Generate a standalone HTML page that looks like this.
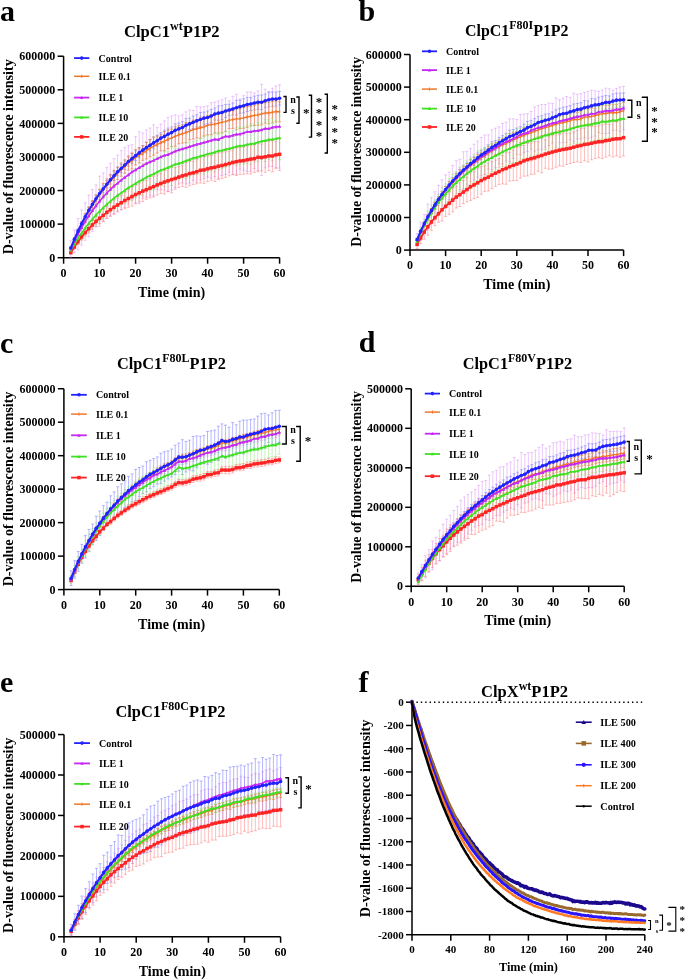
<!DOCTYPE html>
<html><head><meta charset="utf-8"><style>
html,body{margin:0;padding:0;background:#fff;overflow:hidden;}
svg{display:block;will-change:transform;}
text{font-family:"Liberation Serif",serif;font-weight:bold;fill:#000;}
</style></head><body>
<svg width="685" height="980" viewBox="0 0 685 980">
<rect width="685" height="980" fill="#fff"/>
<text x="0" y="20.7" font-size="30" text-anchor="start" >a</text>
<text x="171.8" y="37.3" font-size="16.6" text-anchor="middle">ClpC1<tspan font-size="12" dy="-7">wt</tspan><tspan dy="7">P1P2</tspan></text>
<text transform="translate(12.5,156.8) rotate(-90)" x="0" y="0" font-size="14" text-anchor="middle" textLength="194.97" lengthAdjust="spacingAndGlyphs">D-value of fluorescence intensity</text>
<path d="M63.6,56.22V257.7H279.6" fill="none" stroke="#000" stroke-width="1.5"/>
<path d="M57.6,257.7H63.6" stroke="#000" stroke-width="1.5"/>
<text x="55.3" y="261.84" font-size="12" text-anchor="end" >0</text>
<path d="M57.6,224.12H63.6" stroke="#000" stroke-width="1.5"/>
<text x="55.3" y="228.26" font-size="12" text-anchor="end" >100000</text>
<path d="M57.6,190.54H63.6" stroke="#000" stroke-width="1.5"/>
<text x="55.3" y="194.68" font-size="12" text-anchor="end" >200000</text>
<path d="M57.6,156.96H63.6" stroke="#000" stroke-width="1.5"/>
<text x="55.3" y="161.1" font-size="12" text-anchor="end" >300000</text>
<path d="M57.6,123.38H63.6" stroke="#000" stroke-width="1.5"/>
<text x="55.3" y="127.52" font-size="12" text-anchor="end" >400000</text>
<path d="M57.6,89.8H63.6" stroke="#000" stroke-width="1.5"/>
<text x="55.3" y="93.94" font-size="12" text-anchor="end" >500000</text>
<path d="M57.6,56.22H63.6" stroke="#000" stroke-width="1.5"/>
<text x="55.3" y="60.36" font-size="12" text-anchor="end" >600000</text>
<path d="M63.6,257.7V263.7" stroke="#000" stroke-width="1.5"/>
<text x="63.6" y="277" font-size="12" text-anchor="middle" >0</text>
<path d="M99.6,257.7V263.7" stroke="#000" stroke-width="1.5"/>
<text x="99.6" y="277" font-size="12" text-anchor="middle" >10</text>
<path d="M135.6,257.7V263.7" stroke="#000" stroke-width="1.5"/>
<text x="135.6" y="277" font-size="12" text-anchor="middle" >20</text>
<path d="M171.6,257.7V263.7" stroke="#000" stroke-width="1.5"/>
<text x="171.6" y="277" font-size="12" text-anchor="middle" >30</text>
<path d="M207.6,257.7V263.7" stroke="#000" stroke-width="1.5"/>
<text x="207.6" y="277" font-size="12" text-anchor="middle" >40</text>
<path d="M243.6,257.7V263.7" stroke="#000" stroke-width="1.5"/>
<text x="243.6" y="277" font-size="12" text-anchor="middle" >50</text>
<path d="M279.6,257.7V263.7" stroke="#000" stroke-width="1.5"/>
<text x="279.6" y="277" font-size="12" text-anchor="middle" >60</text>
<text x="171.6" y="296.7" font-size="14" text-anchor="middle" >Time (min)</text>
<path d="M70.8,240.68V257.26M69.3,240.68h3M69.3,257.26h3M74.4,229.87V252.62M72.9,229.87h3M72.9,252.62h3M78,218.6V249.79M76.5,218.6h3M76.5,249.79h3M81.6,210.05V245.16M80.1,210.05h3M80.1,245.16h3M85.2,202.78V240.25M83.7,202.78h3M83.7,240.25h3M88.8,195.04V236.61M87.3,195.04h3M87.3,236.61h3M92.4,189.58V231.76M90.9,189.58h3M90.9,231.76h3M96,184.92V226.84M94.5,184.92h3M94.5,226.84h3M99.6,176.14V226.28M98.1,176.14h3M98.1,226.28h3M103.2,172.96V221.05M101.7,172.96h3M101.7,221.05h3M106.8,167.54V218.57M105.3,167.54h3M105.3,218.57h3M110.4,163.23V215.65M108.9,163.23h3M108.9,215.65h3M114,158.69V213.62M112.5,158.69h3M112.5,213.62h3M117.6,155.11V211.31M116.1,155.11h3M116.1,211.31h3M121.2,150.56V209.78M119.7,150.56h3M119.7,209.78h3M124.8,147.29V207.47M123.3,147.29h3M123.3,207.47h3M128.4,145.34V204.23M126.9,145.34h3M126.9,204.23h3M132,144.67V199.31M130.5,144.67h3M130.5,199.31h3M135.6,136.61V203.04M134.1,136.61h3M134.1,203.04h3M139.2,131.77V203.63M137.7,131.77h3M137.7,203.63h3M142.8,132.98V198.22M141.3,132.98h3M141.3,198.22h3M146.4,129.88V197.11M144.9,129.88h3M144.9,197.11h3M150,128V195.79M148.5,128h3M148.5,195.79h3M153.6,124.81V195.94M152.1,124.81h3M152.1,195.94h3M157.2,127.61V189.71M155.7,127.61h3M155.7,189.71h3M160.8,124.01V189.81M159.3,124.01h3M159.3,189.81h3M164.4,120.8V190.01M162.9,120.8h3M162.9,190.01h3M168,117.46V191.69M166.5,117.46h3M166.5,191.69h3M171.6,115.94V190.05M170.1,115.94h3M170.1,190.05h3M175.2,114.79V187.61M173.7,114.79h3M173.7,187.61h3M178.8,115.82V183.97M177.3,115.82h3M177.3,183.97h3M182.4,114.79V183.01M180.9,114.79h3M180.9,183.01h3M186,111.85V183.91M184.5,111.85h3M184.5,183.91h3M189.6,110.1V182.98M188.1,110.1h3M188.1,182.98h3M193.2,110.48V180.46M191.7,110.48h3M191.7,180.46h3M196.8,106.35V182.24M195.3,106.35h3M195.3,182.24h3M200.4,106.93V179.99M198.9,106.93h3M198.9,179.99h3M204,106.45V178.5M202.5,106.45h3M202.5,178.5h3M207.6,105.9V177.04M206.1,105.9h3M206.1,177.04h3M211.2,102.68V177.98M209.7,102.68h3M209.7,177.98h3M214.8,102.09V176.54M213.3,102.09h3M213.3,176.54h3M218.4,100.93V178.14M216.9,100.93h3M216.9,178.14h3M222,99.8V175.5M220.5,99.8h3M220.5,175.5h3M225.6,97.96V174.56M224.1,97.96h3M224.1,174.56h3M229.2,100.83V172.04M227.7,100.83h3M227.7,172.04h3M232.8,96.21V174.44M231.3,96.21h3M231.3,174.44h3M236.4,94.22V174.31M234.9,94.22h3M234.9,174.31h3M240,99.04V169.15M238.5,99.04h3M238.5,169.15h3M243.6,95.69V170.26M242.1,95.69h3M242.1,170.26h3M247.2,92.01V171.39M245.7,92.01h3M245.7,171.39h3M250.8,92.05V171.34M249.3,92.05h3M249.3,171.34h3M254.4,93.06V168.61M252.9,93.06h3M252.9,168.61h3M258,90.92V170.32M256.5,90.92h3M256.5,170.32h3M261.6,84.29V175.42M260.1,84.29h3M260.1,175.42h3M265.2,89.24V167.85M263.7,89.24h3M263.7,167.85h3M268.8,91.37V166.14M267.3,91.37h3M267.3,166.14h3M272.4,88.21V166.46M270.9,88.21h3M270.9,166.46h3M276,85.78V167.82M274.5,85.78h3M274.5,167.82h3M279.6,84.79V168.08M278.1,84.79h3M278.1,168.08h3" stroke="#cf78f5" stroke-opacity="0.5" stroke-width="0.8" fill="none"/>
<path d="M70.8,247.25V248.79M69.3,247.25h3M69.3,248.79h3M74.4,237.89V240.56M72.9,237.89h3M72.9,240.56h3M78,229.38V232.74M76.5,229.38h3M76.5,232.74h3M81.6,221.89V225.67M80.1,221.89h3M80.1,225.67h3M85.2,214.31V219.28M83.7,214.31h3M83.7,219.28h3M88.8,207.52V213.01M87.3,207.52h3M87.3,213.01h3M92.4,201.43V207.4M90.9,201.43h3M90.9,207.4h3M96,195.58V201.78M94.5,195.58h3M94.5,201.78h3M99.6,190.18V196.93M98.1,190.18h3M98.1,196.93h3M103.2,185.15V192.62M101.7,185.15h3M101.7,192.62h3M106.8,180.54V188.13M105.3,180.54h3M105.3,188.13h3M110.4,175.75V184.06M108.9,175.75h3M108.9,184.06h3M114,171.17V180.57M112.5,171.17h3M112.5,180.57h3M117.6,167.69V175.8M116.1,167.69h3M116.1,175.8h3M121.2,164.32V172.77M119.7,164.32h3M119.7,172.77h3M124.8,160.81V169.41M123.3,160.81h3M123.3,169.41h3M128.4,157.03V166.09M126.9,157.03h3M126.9,166.09h3M132,153.53V163.74M130.5,153.53h3M130.5,163.74h3M135.6,150.78V160.51M134.1,150.78h3M134.1,160.51h3M139.2,147.94V157.76M137.7,147.94h3M137.7,157.76h3M142.8,145.52V154.82M141.3,145.52h3M141.3,154.82h3M146.4,142.25V153M144.9,142.25h3M144.9,153h3M150,139.64V150.72M148.5,139.64h3M148.5,150.72h3M153.6,137.08V148.72M152.1,137.08h3M152.1,148.72h3M157.2,135.2V146.17M155.7,135.2h3M155.7,146.17h3M160.8,132.67V143.48M159.3,132.67h3M159.3,143.48h3M164.4,130.13V142.63M162.9,130.13h3M162.9,142.63h3M168,128.05V140.46M166.5,128.05h3M166.5,140.46h3M171.6,126.83V138.38M170.1,126.83h3M170.1,138.38h3M175.2,123.93V136.7M173.7,123.93h3M173.7,136.7h3M178.8,122.97V134.86M177.3,122.97h3M177.3,134.86h3M182.4,121.58V133.67M180.9,121.58h3M180.9,133.67h3M186,118.58V131.91M184.5,118.58h3M184.5,131.91h3M189.6,118.13V129.65M188.1,118.13h3M188.1,129.65h3M193.2,116.05V128.47M191.7,116.05h3M191.7,128.47h3M196.8,114.72V126.95M195.3,114.72h3M195.3,126.95h3M200.4,112.43V126.58M198.9,112.43h3M198.9,126.58h3M204,112.05V124.26M202.5,112.05h3M202.5,124.26h3M207.6,111.07V123.83M206.1,111.07h3M206.1,123.83h3M211.2,109.48V122.65M209.7,109.48h3M209.7,122.65h3M214.8,107.97V120.11M213.3,107.97h3M213.3,120.11h3M218.4,106.03V120.26M216.9,106.03h3M216.9,120.26h3M222,105.38V119.64M220.5,105.38h3M220.5,119.64h3M225.6,104.41V117.47M224.1,104.41h3M224.1,117.47h3M229.2,104.21V115.78M227.7,104.21h3M227.7,115.78h3M232.8,103V114.87M231.3,103h3M231.3,114.87h3M236.4,100.34V115.03M234.9,100.34h3M234.9,115.03h3M240,100.05V113.29M238.5,100.05h3M238.5,113.29h3M243.6,98.76V112.84M242.1,98.76h3M242.1,112.84h3M247.2,97.36V111.5M245.7,97.36h3M245.7,111.5h3M250.8,97.45V110.54M249.3,97.45h3M249.3,110.54h3M254.4,96.14V109.87M252.9,96.14h3M252.9,109.87h3M258,95.3V109.31M256.5,95.3h3M256.5,109.31h3M261.6,95V109.64M260.1,95h3M260.1,109.64h3M265.2,94.01V107.69M263.7,94.01h3M263.7,107.69h3M268.8,92.39V107.05M267.3,92.39h3M267.3,107.05h3M272.4,91.94V106.31M270.9,91.94h3M270.9,106.31h3M276,92.04V106.18M274.5,92.04h3M274.5,106.18h3M279.6,91.45V104.93M278.1,91.45h3M278.1,104.93h3" stroke="#8080ff" stroke-opacity="0.7" stroke-width="0.8" fill="none"/>
<path d="M70.8,246.75V249.2M69.3,246.75h3M69.3,249.2h3M74.4,237.53V241.69M72.9,237.53h3M72.9,241.69h3M78,229.1V234.32M76.5,229.1h3M76.5,234.32h3M81.6,221.48V227.38M80.1,221.48h3M80.1,227.38h3M85.2,213.61V221.37M83.7,213.61h3M83.7,221.37h3M88.8,206.83V215.4M87.3,206.83h3M87.3,215.4h3M92.4,200.59V209.93M90.9,200.59h3M90.9,209.93h3M96,194.75V204.46M94.5,194.75h3M94.5,204.46h3M99.6,189.32V199.88M98.1,189.32h3M98.1,199.88h3M103.2,183.37V195.17M101.7,183.37h3M101.7,195.17h3M106.8,178.91V190.88M105.3,178.91h3M105.3,190.88h3M110.4,174.37V187.41M108.9,174.37h3M108.9,187.41h3M114,170.33V184.98M112.5,170.33h3M112.5,184.98h3M117.6,166.88V179.55M116.1,166.88h3M116.1,179.55h3M121.2,162.99V176.25M119.7,162.99h3M119.7,176.25h3M124.8,159.72V173.2M123.3,159.72h3M123.3,173.2h3M128.4,155.86V170.06M126.9,155.86h3M126.9,170.06h3M132,152.94V168.82M130.5,152.94h3M130.5,168.82h3M135.6,149.7V164.93M134.1,149.7h3M134.1,164.93h3M139.2,147.71V162.97M137.7,147.71h3M137.7,162.97h3M142.8,145.83V160.26M141.3,145.83h3M141.3,160.26h3M146.4,142.34V159M144.9,142.34h3M144.9,159h3M150,139.48V156.69M148.5,139.48h3M148.5,156.69h3M153.6,137.09V155.14M152.1,137.09h3M152.1,155.14h3M157.2,136.05V152.98M155.7,136.05h3M155.7,152.98h3M160.8,134.31V150.92M159.3,134.31h3M159.3,150.92h3M164.4,131.59V150.78M162.9,131.59h3M162.9,150.78h3M168,129.88V148.9M166.5,129.88h3M166.5,148.9h3M171.6,129.07V146.76M170.1,129.07h3M170.1,146.76h3M175.2,126.72V146.17M173.7,126.72h3M173.7,146.17h3M178.8,125.71V143.87M177.3,125.71h3M177.3,143.87h3M182.4,124.66V143.09M180.9,124.66h3M180.9,143.09h3M186,122.54V142.73M184.5,122.54h3M184.5,142.73h3M189.6,122.32V139.81M188.1,122.32h3M188.1,139.81h3M193.2,120.19V139.02M191.7,120.19h3M191.7,139.02h3M196.8,119.49V137.98M195.3,119.49h3M195.3,137.98h3M200.4,117.06V138.41M198.9,117.06h3M198.9,138.41h3M204,117.62V136.02M202.5,117.62h3M202.5,136.02h3M207.6,115.58V134.9M206.1,115.58h3M206.1,134.9h3M211.2,114.75V134.61M209.7,114.75h3M209.7,134.61h3M214.8,115V133.15M213.3,115h3M213.3,133.15h3M218.4,112.57V133.86M216.9,112.57h3M216.9,133.86h3M222,111.44V132.84M220.5,111.44h3M220.5,132.84h3M225.6,111.83V131.33M224.1,111.83h3M224.1,131.33h3M229.2,111.46V128.78M227.7,111.46h3M227.7,128.78h3M232.8,110.7V128.43M231.3,110.7h3M231.3,128.43h3M236.4,107.91V129.81M234.9,107.91h3M234.9,129.81h3M240,108.86V128.51M238.5,108.86h3M238.5,128.51h3M243.6,107.46V128.35M242.1,107.46h3M242.1,128.35h3M247.2,106.53V127.47M245.7,106.53h3M245.7,127.47h3M250.8,106.59V126.01M249.3,106.59h3M249.3,126.01h3M254.4,105.18V125.54M252.9,105.18h3M252.9,125.54h3M258,104.54V125.3M256.5,104.54h3M256.5,125.3h3M261.6,103.06V124.87M260.1,103.06h3M260.1,124.87h3M265.2,102.76V123.1M263.7,102.76h3M263.7,123.1h3M268.8,102.19V123.86M267.3,102.19h3M267.3,123.86h3M272.4,101.56V122.84M270.9,101.56h3M270.9,122.84h3M276,101.07V122.06M274.5,101.07h3M274.5,122.06h3M279.6,101.85V121.76M278.1,101.85h3M278.1,121.76h3" stroke="#e8782e" stroke-opacity="0.8" stroke-width="0.8" fill="none"/>
<path d="M70.8,247.34V252.88M69.3,247.34h3M69.3,252.88h3M74.4,239.41V248.66M72.9,239.41h3M72.9,248.66h3M78,232.24V244.37M76.5,232.24h3M76.5,244.37h3M81.6,226.12V239.7M80.1,226.12h3M80.1,239.7h3M85.2,220.82V235.14M83.7,220.82h3M83.7,235.14h3M88.8,214.73V231.96M87.3,214.73h3M87.3,231.96h3M92.4,210.72V227.51M90.9,210.72h3M90.9,227.51h3M96,205.43V224.64M94.5,205.43h3M94.5,224.64h3M99.6,201.57V221.05M98.1,201.57h3M98.1,221.05h3M103.2,196.56V218.98M101.7,196.56h3M101.7,218.98h3M106.8,194.27V214.42M105.3,194.27h3M105.3,214.42h3M110.4,189.74V212.78M108.9,189.74h3M108.9,212.78h3M114,186.36V210.1M112.5,186.36h3M112.5,210.1h3M117.6,183.72V206.92M116.1,183.72h3M116.1,206.92h3M121.2,181.28V204.58M119.7,181.28h3M119.7,204.58h3M124.8,177.09V203.62M123.3,177.09h3M123.3,203.62h3M128.4,173.8V201.74M126.9,173.8h3M126.9,201.74h3M132,170.5V200.71M130.5,170.5h3M130.5,200.71h3M135.6,168.87V197.83M134.1,168.87h3M134.1,197.83h3M139.2,166.95V195.44M137.7,166.95h3M137.7,195.44h3M142.8,163.53V195.55M141.3,163.53h3M141.3,195.55h3M146.4,162.54V191.92M144.9,162.54h3M144.9,191.92h3M150,160.72V190.49M148.5,160.72h3M148.5,190.49h3M153.6,158.15V189.8M152.1,158.15h3M152.1,189.8h3M157.2,156.74V187.23M155.7,156.74h3M155.7,187.23h3M160.8,155.11V185.37M159.3,155.11h3M159.3,185.37h3M164.4,151.15V186.81M162.9,151.15h3M162.9,186.81h3M168,151.75V183.32M166.5,151.75h3M166.5,183.32h3M171.6,146.47V185.57M170.1,146.47h3M170.1,185.57h3M175.2,148.3V180.14M173.7,148.3h3M173.7,180.14h3M178.8,148.34V178.77M177.3,148.34h3M177.3,178.77h3M182.4,147.18V177.44M180.9,147.18h3M180.9,177.44h3M186,143V178.7M184.5,143h3M184.5,178.7h3M189.6,142.13V177.06M188.1,142.13h3M188.1,177.06h3M193.2,141.42V174.74M191.7,141.42h3M191.7,174.74h3M196.8,140.16V174.61M195.3,140.16h3M195.3,174.61h3M200.4,138.17V173.79M198.9,138.17h3M198.9,173.79h3M204,136.31V174.31M202.5,136.31h3M202.5,174.31h3M207.6,135.84V171.94M206.1,135.84h3M206.1,171.94h3M211.2,135.84V170.59M209.7,135.84h3M209.7,170.59h3M214.8,132.49V171.9M213.3,132.49h3M213.3,171.9h3M218.4,132.19V169.37M216.9,132.19h3M216.9,169.37h3M222,132.66V168.35M220.5,132.66h3M220.5,168.35h3M225.6,131.55V167.05M224.1,131.55h3M224.1,167.05h3M229.2,131.7V165.61M227.7,131.7h3M227.7,165.61h3M232.8,130.95V164.56M231.3,130.95h3M231.3,164.56h3M236.4,127.57V165.41M234.9,127.57h3M234.9,165.41h3M240,127.23V164.42M238.5,127.23h3M238.5,164.42h3M243.6,126.86V164.01M242.1,126.86h3M242.1,164.01h3M247.2,125.45V163.53M245.7,125.45h3M245.7,163.53h3M250.8,123.74V164.28M249.3,123.74h3M249.3,164.28h3M254.4,124.82V162.07M252.9,124.82h3M252.9,162.07h3M258,122.69V161.62M256.5,122.69h3M256.5,161.62h3M261.6,122.97V159.34M260.1,122.97h3M260.1,159.34h3M265.2,119.63V161.67M263.7,119.63h3M263.7,161.67h3M268.8,119.96V159.19M267.3,119.96h3M267.3,159.19h3M272.4,118.24V160.73M270.9,118.24h3M270.9,160.73h3M276,120.6V156.88M274.5,120.6h3M274.5,156.88h3M279.6,116.09V159.66M278.1,116.09h3M278.1,159.66h3" stroke="#80e870" stroke-opacity="0.6" stroke-width="0.8" fill="none"/>
<path d="M70.8,252.03V253.41M69.3,252.03h3M69.3,253.41h3M74.4,245.34V248.61M72.9,245.34h3M72.9,248.61h3M78,239.23V244.23M76.5,239.23h3M76.5,244.23h3M81.6,233.87V240M80.1,233.87h3M80.1,240h3M85.2,229.13V236.02M83.7,229.13h3M83.7,236.02h3M88.8,224.39V233.03M87.3,224.39h3M87.3,233.03h3M92.4,220.53V229.31M90.9,220.53h3M90.9,229.31h3M96,216.32V226.66M94.5,216.32h3M94.5,226.66h3M99.6,212.87V223.64M98.1,212.87h3M98.1,223.64h3M103.2,209.05V221.68M101.7,209.05h3M101.7,221.68h3M106.8,206.53V218.15M105.3,206.53h3M105.3,218.15h3M110.4,202.93V216.45M108.9,202.93h3M108.9,216.45h3M114,200.23V214.33M112.5,200.23h3M112.5,214.33h3M117.6,198.03V211.96M116.1,198.03h3M116.1,211.96h3M121.2,195.6V209.82M119.7,195.6h3M119.7,209.82h3M124.8,192.29V208.68M123.3,192.29h3M123.3,208.68h3M128.4,189.85V207.23M126.9,189.85h3M126.9,207.23h3M132,187.11V206.11M130.5,187.11h3M130.5,206.11h3M135.6,185.32V203.75M134.1,185.32h3M134.1,203.75h3M139.2,183.71V201.96M137.7,183.71h3M137.7,201.96h3M142.8,180.76V201.5M141.3,180.76h3M141.3,201.5h3M146.4,180.17V199.22M144.9,180.17h3M144.9,199.22h3M150,178.35V197.83M148.5,178.35h3M148.5,197.83h3M153.6,176.23V197.08M152.1,176.23h3M152.1,197.08h3M157.2,174.79V195.03M155.7,174.79h3M155.7,195.03h3M160.8,173.36V193.56M159.3,173.36h3M159.3,193.56h3M164.4,170.06V194.07M162.9,170.06h3M162.9,194.07h3M168,170.11V191.48M166.5,170.11h3M166.5,191.48h3M171.6,166.25V192.84M170.1,166.25h3M170.1,192.84h3M175.2,167.61V189.27M173.7,167.61h3M173.7,189.27h3M178.8,166.6V187.55M177.3,166.6h3M177.3,187.55h3M182.4,165.4V186.36M180.9,165.4h3M180.9,186.36h3M186,162.61V187.33M184.5,162.61h3M184.5,187.33h3M189.6,161.4V185.78M188.1,161.4h3M188.1,185.78h3M193.2,161.23V184.44M191.7,161.23h3M191.7,184.44h3M196.8,159.66V183.85M195.3,159.66h3M195.3,183.85h3M200.4,157.73V182.91M198.9,157.73h3M198.9,182.91h3M204,156.52V183.38M202.5,156.52h3M202.5,183.38h3M207.6,156.08V181.66M206.1,156.08h3M206.1,181.66h3M211.2,155.46V180.25M209.7,155.46h3M209.7,180.25h3M214.8,153.29V181.38M213.3,153.29h3M213.3,181.38h3M218.4,152.9V179.48M216.9,152.9h3M216.9,179.48h3M222,152.71V178.36M220.5,152.71h3M220.5,178.36h3M225.6,151.8V177.37M224.1,151.8h3M224.1,177.37h3M229.2,151.2V175.8M227.7,151.2h3M227.7,175.8h3M232.8,150.17V174.7M231.3,150.17h3M231.3,174.7h3M236.4,147.92V175.52M234.9,147.92h3M234.9,175.52h3M240,147.37V174.59M238.5,147.37h3M238.5,174.59h3M243.6,147.06V174.28M242.1,147.06h3M242.1,174.28h3M247.2,145.82V173.8M245.7,145.82h3M245.7,173.8h3M250.8,144.12V174.03M249.3,144.12h3M249.3,174.03h3M254.4,144.88V172.4M252.9,144.88h3M252.9,172.4h3M258,142.79V171.72M256.5,142.79h3M256.5,171.72h3M261.6,144.06V170.87M260.1,144.06h3M260.1,170.87h3M265.2,141.26V172.36M263.7,141.26h3M263.7,172.36h3M268.8,141.45V170.52M267.3,141.45h3M267.3,170.52h3M272.4,140.27V171.74M270.9,140.27h3M270.9,171.74h3M276,141.25V168.32M274.5,141.25h3M274.5,168.32h3M279.6,138.07V170.56M278.1,138.07h3M278.1,170.56h3" stroke="#ff7c7c" stroke-opacity="0.65" stroke-width="0.8" fill="none"/>
<polyline points="70.8,252.72 74.4,246.98 78,241.73 81.6,236.94 85.2,232.58 88.8,228.71 92.4,224.92 96,221.49 99.6,218.26 103.2,215.37 106.8,212.34 110.4,209.69 114,207.28 117.6,204.99 121.2,202.71 124.8,200.49 128.4,198.54 132,196.61 135.6,194.53 139.2,192.83 142.8,191.13 146.4,189.7 150,188.09 153.6,186.66 157.2,184.91 160.8,183.46 164.4,182.06 168,180.8 171.6,179.55 175.2,178.44 178.8,177.08 182.4,175.88 186,174.97 189.6,173.59 193.2,172.83 196.8,171.76 200.4,170.32 204,169.95 207.6,168.87 211.2,167.86 214.8,167.33 218.4,166.19 222,165.53 225.6,164.59 229.2,163.5 232.8,162.43 236.4,161.72 240,160.98 243.6,160.67 247.2,159.81 250.8,159.08 254.4,158.64 258,157.26 261.6,157.47 265.2,156.81 268.8,155.99 272.4,156 276,154.79 279.6,154.32" fill="none" stroke="#ff2424" stroke-width="1.8" stroke-linejoin="round" stroke-linecap="round"/>
<rect x="69.05" y="250.97" width="3.5" height="3.5" fill="#ff2424"/>
<rect x="72.65" y="245.23" width="3.5" height="3.5" fill="#ff2424"/>
<rect x="76.25" y="239.98" width="3.5" height="3.5" fill="#ff2424"/>
<rect x="79.85" y="235.19" width="3.5" height="3.5" fill="#ff2424"/>
<rect x="83.45" y="230.83" width="3.5" height="3.5" fill="#ff2424"/>
<rect x="87.05" y="226.96" width="3.5" height="3.5" fill="#ff2424"/>
<rect x="90.65" y="223.17" width="3.5" height="3.5" fill="#ff2424"/>
<rect x="94.25" y="219.74" width="3.5" height="3.5" fill="#ff2424"/>
<rect x="97.85" y="216.51" width="3.5" height="3.5" fill="#ff2424"/>
<rect x="101.45" y="213.62" width="3.5" height="3.5" fill="#ff2424"/>
<rect x="105.05" y="210.59" width="3.5" height="3.5" fill="#ff2424"/>
<rect x="108.65" y="207.94" width="3.5" height="3.5" fill="#ff2424"/>
<rect x="112.25" y="205.53" width="3.5" height="3.5" fill="#ff2424"/>
<rect x="115.85" y="203.24" width="3.5" height="3.5" fill="#ff2424"/>
<rect x="119.45" y="200.96" width="3.5" height="3.5" fill="#ff2424"/>
<rect x="123.05" y="198.74" width="3.5" height="3.5" fill="#ff2424"/>
<rect x="126.65" y="196.79" width="3.5" height="3.5" fill="#ff2424"/>
<rect x="130.25" y="194.86" width="3.5" height="3.5" fill="#ff2424"/>
<rect x="133.85" y="192.78" width="3.5" height="3.5" fill="#ff2424"/>
<rect x="137.45" y="191.08" width="3.5" height="3.5" fill="#ff2424"/>
<rect x="141.05" y="189.38" width="3.5" height="3.5" fill="#ff2424"/>
<rect x="144.65" y="187.95" width="3.5" height="3.5" fill="#ff2424"/>
<rect x="148.25" y="186.34" width="3.5" height="3.5" fill="#ff2424"/>
<rect x="151.85" y="184.91" width="3.5" height="3.5" fill="#ff2424"/>
<rect x="155.45" y="183.16" width="3.5" height="3.5" fill="#ff2424"/>
<rect x="159.05" y="181.71" width="3.5" height="3.5" fill="#ff2424"/>
<rect x="162.65" y="180.31" width="3.5" height="3.5" fill="#ff2424"/>
<rect x="166.25" y="179.05" width="3.5" height="3.5" fill="#ff2424"/>
<rect x="169.85" y="177.8" width="3.5" height="3.5" fill="#ff2424"/>
<rect x="173.45" y="176.69" width="3.5" height="3.5" fill="#ff2424"/>
<rect x="177.05" y="175.33" width="3.5" height="3.5" fill="#ff2424"/>
<rect x="180.65" y="174.13" width="3.5" height="3.5" fill="#ff2424"/>
<rect x="184.25" y="173.22" width="3.5" height="3.5" fill="#ff2424"/>
<rect x="187.85" y="171.84" width="3.5" height="3.5" fill="#ff2424"/>
<rect x="191.45" y="171.08" width="3.5" height="3.5" fill="#ff2424"/>
<rect x="195.05" y="170.01" width="3.5" height="3.5" fill="#ff2424"/>
<rect x="198.65" y="168.57" width="3.5" height="3.5" fill="#ff2424"/>
<rect x="202.25" y="168.2" width="3.5" height="3.5" fill="#ff2424"/>
<rect x="205.85" y="167.12" width="3.5" height="3.5" fill="#ff2424"/>
<rect x="209.45" y="166.11" width="3.5" height="3.5" fill="#ff2424"/>
<rect x="213.05" y="165.58" width="3.5" height="3.5" fill="#ff2424"/>
<rect x="216.65" y="164.44" width="3.5" height="3.5" fill="#ff2424"/>
<rect x="220.25" y="163.78" width="3.5" height="3.5" fill="#ff2424"/>
<rect x="223.85" y="162.84" width="3.5" height="3.5" fill="#ff2424"/>
<rect x="227.45" y="161.75" width="3.5" height="3.5" fill="#ff2424"/>
<rect x="231.05" y="160.68" width="3.5" height="3.5" fill="#ff2424"/>
<rect x="234.65" y="159.97" width="3.5" height="3.5" fill="#ff2424"/>
<rect x="238.25" y="159.23" width="3.5" height="3.5" fill="#ff2424"/>
<rect x="241.85" y="158.92" width="3.5" height="3.5" fill="#ff2424"/>
<rect x="245.45" y="158.06" width="3.5" height="3.5" fill="#ff2424"/>
<rect x="249.05" y="157.33" width="3.5" height="3.5" fill="#ff2424"/>
<rect x="252.65" y="156.89" width="3.5" height="3.5" fill="#ff2424"/>
<rect x="256.25" y="155.51" width="3.5" height="3.5" fill="#ff2424"/>
<rect x="259.85" y="155.72" width="3.5" height="3.5" fill="#ff2424"/>
<rect x="263.45" y="155.06" width="3.5" height="3.5" fill="#ff2424"/>
<rect x="267.05" y="154.24" width="3.5" height="3.5" fill="#ff2424"/>
<rect x="270.65" y="154.25" width="3.5" height="3.5" fill="#ff2424"/>
<rect x="274.25" y="153.04" width="3.5" height="3.5" fill="#ff2424"/>
<rect x="277.85" y="152.57" width="3.5" height="3.5" fill="#ff2424"/>
<polyline points="70.8,247.98 74.4,239.61 78,231.71 81.6,224.43 85.2,217.49 88.8,211.11 92.4,205.26 96,199.61 99.6,194.6 103.2,189.27 106.8,184.9 110.4,180.89 114,177.65 117.6,173.21 121.2,169.62 124.8,166.46 128.4,162.96 132,160.88 135.6,157.32 139.2,155.34 142.8,153.05 146.4,150.67 150,148.08 153.6,146.12 157.2,144.51 160.8,142.61 164.4,141.18 168,139.39 171.6,137.92 175.2,136.45 178.8,134.79 182.4,133.87 186,132.64 189.6,131.06 193.2,129.6 196.8,128.74 200.4,127.73 204,126.82 207.6,125.24 211.2,124.68 214.8,124.08 218.4,123.22 222,122.14 225.6,121.58 229.2,120.12 232.8,119.57 236.4,118.86 240,118.68 243.6,117.91 247.2,117 250.8,116.3 254.4,115.36 258,114.92 261.6,113.96 265.2,112.93 268.8,113.02 272.4,112.2 276,111.57 279.6,111.81" fill="none" stroke="#f2772a" stroke-width="1.4" stroke-linejoin="round" stroke-linecap="round"/>
<path d="M70.8,246.38V249.58" stroke="#f2772a" stroke-width="1"/>
<path d="M74.4,238.01V241.21" stroke="#f2772a" stroke-width="1"/>
<path d="M78,230.11V233.31" stroke="#f2772a" stroke-width="1"/>
<path d="M81.6,222.83V226.03" stroke="#f2772a" stroke-width="1"/>
<path d="M85.2,215.89V219.09" stroke="#f2772a" stroke-width="1"/>
<path d="M88.8,209.51V212.71" stroke="#f2772a" stroke-width="1"/>
<path d="M92.4,203.66V206.86" stroke="#f2772a" stroke-width="1"/>
<path d="M96,198.01V201.21" stroke="#f2772a" stroke-width="1"/>
<path d="M99.6,193V196.2" stroke="#f2772a" stroke-width="1"/>
<path d="M103.2,187.67V190.87" stroke="#f2772a" stroke-width="1"/>
<path d="M106.8,183.3V186.5" stroke="#f2772a" stroke-width="1"/>
<path d="M110.4,179.29V182.49" stroke="#f2772a" stroke-width="1"/>
<path d="M114,176.05V179.25" stroke="#f2772a" stroke-width="1"/>
<path d="M117.6,171.61V174.81" stroke="#f2772a" stroke-width="1"/>
<path d="M121.2,168.02V171.22" stroke="#f2772a" stroke-width="1"/>
<path d="M124.8,164.86V168.06" stroke="#f2772a" stroke-width="1"/>
<path d="M128.4,161.36V164.56" stroke="#f2772a" stroke-width="1"/>
<path d="M132,159.28V162.48" stroke="#f2772a" stroke-width="1"/>
<path d="M135.6,155.72V158.92" stroke="#f2772a" stroke-width="1"/>
<path d="M139.2,153.74V156.94" stroke="#f2772a" stroke-width="1"/>
<path d="M142.8,151.45V154.65" stroke="#f2772a" stroke-width="1"/>
<path d="M146.4,149.07V152.27" stroke="#f2772a" stroke-width="1"/>
<path d="M150,146.48V149.68" stroke="#f2772a" stroke-width="1"/>
<path d="M153.6,144.52V147.72" stroke="#f2772a" stroke-width="1"/>
<path d="M157.2,142.91V146.11" stroke="#f2772a" stroke-width="1"/>
<path d="M160.8,141.01V144.21" stroke="#f2772a" stroke-width="1"/>
<path d="M164.4,139.58V142.78" stroke="#f2772a" stroke-width="1"/>
<path d="M168,137.79V140.99" stroke="#f2772a" stroke-width="1"/>
<path d="M171.6,136.32V139.52" stroke="#f2772a" stroke-width="1"/>
<path d="M175.2,134.85V138.05" stroke="#f2772a" stroke-width="1"/>
<path d="M178.8,133.19V136.39" stroke="#f2772a" stroke-width="1"/>
<path d="M182.4,132.27V135.47" stroke="#f2772a" stroke-width="1"/>
<path d="M186,131.04V134.24" stroke="#f2772a" stroke-width="1"/>
<path d="M189.6,129.46V132.66" stroke="#f2772a" stroke-width="1"/>
<path d="M193.2,128V131.2" stroke="#f2772a" stroke-width="1"/>
<path d="M196.8,127.14V130.34" stroke="#f2772a" stroke-width="1"/>
<path d="M200.4,126.13V129.33" stroke="#f2772a" stroke-width="1"/>
<path d="M204,125.22V128.42" stroke="#f2772a" stroke-width="1"/>
<path d="M207.6,123.64V126.84" stroke="#f2772a" stroke-width="1"/>
<path d="M211.2,123.08V126.28" stroke="#f2772a" stroke-width="1"/>
<path d="M214.8,122.48V125.68" stroke="#f2772a" stroke-width="1"/>
<path d="M218.4,121.62V124.82" stroke="#f2772a" stroke-width="1"/>
<path d="M222,120.54V123.74" stroke="#f2772a" stroke-width="1"/>
<path d="M225.6,119.98V123.18" stroke="#f2772a" stroke-width="1"/>
<path d="M229.2,118.52V121.72" stroke="#f2772a" stroke-width="1"/>
<path d="M232.8,117.97V121.17" stroke="#f2772a" stroke-width="1"/>
<path d="M236.4,117.26V120.46" stroke="#f2772a" stroke-width="1"/>
<path d="M240,117.08V120.28" stroke="#f2772a" stroke-width="1"/>
<path d="M243.6,116.31V119.51" stroke="#f2772a" stroke-width="1"/>
<path d="M247.2,115.4V118.6" stroke="#f2772a" stroke-width="1"/>
<path d="M250.8,114.7V117.9" stroke="#f2772a" stroke-width="1"/>
<path d="M254.4,113.76V116.96" stroke="#f2772a" stroke-width="1"/>
<path d="M258,113.32V116.52" stroke="#f2772a" stroke-width="1"/>
<path d="M261.6,112.36V115.56" stroke="#f2772a" stroke-width="1"/>
<path d="M265.2,111.33V114.53" stroke="#f2772a" stroke-width="1"/>
<path d="M268.8,111.42V114.62" stroke="#f2772a" stroke-width="1"/>
<path d="M272.4,110.6V113.8" stroke="#f2772a" stroke-width="1"/>
<path d="M276,109.97V113.17" stroke="#f2772a" stroke-width="1"/>
<path d="M279.6,110.21V113.41" stroke="#f2772a" stroke-width="1"/>
<polyline points="70.8,250.11 74.4,244.04 78,238.31 81.6,232.91 85.2,227.98 88.8,223.35 92.4,219.11 96,215.04 99.6,211.31 103.2,207.77 106.8,204.35 110.4,201.26 114,198.23 117.6,195.32 121.2,192.93 124.8,190.36 128.4,187.77 132,185.61 135.6,183.35 139.2,181.2 142.8,179.54 146.4,177.23 150,175.6 153.6,173.98 157.2,171.98 160.8,170.24 164.4,168.98 168,167.54 171.6,166.02 175.2,164.22 178.8,163.55 182.4,162.31 186,160.85 189.6,159.59 193.2,158.08 196.8,157.38 200.4,155.98 204,155.31 207.6,153.89 211.2,153.22 214.8,152.19 218.4,150.78 222,150.51 225.6,149.3 229.2,148.65 232.8,147.76 236.4,146.49 240,145.82 243.6,145.43 247.2,144.49 250.8,144.01 254.4,143.45 258,142.16 261.6,141.15 265.2,140.65 268.8,139.57 272.4,139.49 276,138.74 279.6,137.88" fill="none" stroke="#3fe022" stroke-width="1.6" stroke-linejoin="round" stroke-linecap="round"/>
<path d="M70.8,248.41L72.5,251.47L69.1,251.47Z" fill="#3fe022"/>
<path d="M74.4,242.34L76.1,245.4L72.7,245.4Z" fill="#3fe022"/>
<path d="M78,236.61L79.7,239.67L76.3,239.67Z" fill="#3fe022"/>
<path d="M81.6,231.21L83.3,234.27L79.9,234.27Z" fill="#3fe022"/>
<path d="M85.2,226.28L86.9,229.34L83.5,229.34Z" fill="#3fe022"/>
<path d="M88.8,221.65L90.5,224.71L87.1,224.71Z" fill="#3fe022"/>
<path d="M92.4,217.41L94.1,220.47L90.7,220.47Z" fill="#3fe022"/>
<path d="M96,213.34L97.7,216.4L94.3,216.4Z" fill="#3fe022"/>
<path d="M99.6,209.61L101.3,212.67L97.9,212.67Z" fill="#3fe022"/>
<path d="M103.2,206.07L104.9,209.13L101.5,209.13Z" fill="#3fe022"/>
<path d="M106.8,202.65L108.5,205.71L105.1,205.71Z" fill="#3fe022"/>
<path d="M110.4,199.56L112.1,202.62L108.7,202.62Z" fill="#3fe022"/>
<path d="M114,196.53L115.7,199.59L112.3,199.59Z" fill="#3fe022"/>
<path d="M117.6,193.62L119.3,196.68L115.9,196.68Z" fill="#3fe022"/>
<path d="M121.2,191.23L122.9,194.29L119.5,194.29Z" fill="#3fe022"/>
<path d="M124.8,188.66L126.5,191.72L123.1,191.72Z" fill="#3fe022"/>
<path d="M128.4,186.07L130.1,189.13L126.7,189.13Z" fill="#3fe022"/>
<path d="M132,183.91L133.7,186.97L130.3,186.97Z" fill="#3fe022"/>
<path d="M135.6,181.65L137.3,184.71L133.9,184.71Z" fill="#3fe022"/>
<path d="M139.2,179.5L140.9,182.56L137.5,182.56Z" fill="#3fe022"/>
<path d="M142.8,177.84L144.5,180.9L141.1,180.9Z" fill="#3fe022"/>
<path d="M146.4,175.53L148.1,178.59L144.7,178.59Z" fill="#3fe022"/>
<path d="M150,173.9L151.7,176.96L148.3,176.96Z" fill="#3fe022"/>
<path d="M153.6,172.28L155.3,175.34L151.9,175.34Z" fill="#3fe022"/>
<path d="M157.2,170.28L158.9,173.34L155.5,173.34Z" fill="#3fe022"/>
<path d="M160.8,168.54L162.5,171.6L159.1,171.6Z" fill="#3fe022"/>
<path d="M164.4,167.28L166.1,170.34L162.7,170.34Z" fill="#3fe022"/>
<path d="M168,165.84L169.7,168.9L166.3,168.9Z" fill="#3fe022"/>
<path d="M171.6,164.32L173.3,167.38L169.9,167.38Z" fill="#3fe022"/>
<path d="M175.2,162.52L176.9,165.58L173.5,165.58Z" fill="#3fe022"/>
<path d="M178.8,161.85L180.5,164.91L177.1,164.91Z" fill="#3fe022"/>
<path d="M182.4,160.61L184.1,163.67L180.7,163.67Z" fill="#3fe022"/>
<path d="M186,159.15L187.7,162.21L184.3,162.21Z" fill="#3fe022"/>
<path d="M189.6,157.89L191.3,160.95L187.9,160.95Z" fill="#3fe022"/>
<path d="M193.2,156.38L194.9,159.44L191.5,159.44Z" fill="#3fe022"/>
<path d="M196.8,155.68L198.5,158.74L195.1,158.74Z" fill="#3fe022"/>
<path d="M200.4,154.28L202.1,157.34L198.7,157.34Z" fill="#3fe022"/>
<path d="M204,153.61L205.7,156.67L202.3,156.67Z" fill="#3fe022"/>
<path d="M207.6,152.19L209.3,155.25L205.9,155.25Z" fill="#3fe022"/>
<path d="M211.2,151.52L212.9,154.58L209.5,154.58Z" fill="#3fe022"/>
<path d="M214.8,150.49L216.5,153.55L213.1,153.55Z" fill="#3fe022"/>
<path d="M218.4,149.08L220.1,152.14L216.7,152.14Z" fill="#3fe022"/>
<path d="M222,148.81L223.7,151.87L220.3,151.87Z" fill="#3fe022"/>
<path d="M225.6,147.6L227.3,150.66L223.9,150.66Z" fill="#3fe022"/>
<path d="M229.2,146.95L230.9,150.01L227.5,150.01Z" fill="#3fe022"/>
<path d="M232.8,146.06L234.5,149.12L231.1,149.12Z" fill="#3fe022"/>
<path d="M236.4,144.79L238.1,147.85L234.7,147.85Z" fill="#3fe022"/>
<path d="M240,144.12L241.7,147.18L238.3,147.18Z" fill="#3fe022"/>
<path d="M243.6,143.73L245.3,146.79L241.9,146.79Z" fill="#3fe022"/>
<path d="M247.2,142.79L248.9,145.85L245.5,145.85Z" fill="#3fe022"/>
<path d="M250.8,142.31L252.5,145.37L249.1,145.37Z" fill="#3fe022"/>
<path d="M254.4,141.75L256.1,144.81L252.7,144.81Z" fill="#3fe022"/>
<path d="M258,140.46L259.7,143.52L256.3,143.52Z" fill="#3fe022"/>
<path d="M261.6,139.45L263.3,142.51L259.9,142.51Z" fill="#3fe022"/>
<path d="M265.2,138.95L266.9,142.01L263.5,142.01Z" fill="#3fe022"/>
<path d="M268.8,137.87L270.5,140.93L267.1,140.93Z" fill="#3fe022"/>
<path d="M272.4,137.79L274.1,140.85L270.7,140.85Z" fill="#3fe022"/>
<path d="M276,137.04L277.7,140.1L274.3,140.1Z" fill="#3fe022"/>
<path d="M279.6,136.18L281.3,139.24L277.9,139.24Z" fill="#3fe022"/>
<polyline points="70.8,248.97 74.4,241.25 78,234.19 81.6,227.61 85.2,221.51 88.8,215.83 92.4,210.67 96,205.88 99.6,201.21 103.2,197 106.8,193.06 110.4,189.44 114,186.15 117.6,183.21 121.2,180.17 124.8,177.38 128.4,174.78 132,171.99 135.6,169.82 139.2,167.7 142.8,165.6 146.4,163.5 150,161.9 153.6,160.37 157.2,158.66 160.8,156.91 164.4,155.41 168,154.58 171.6,153 175.2,151.2 178.8,149.89 182.4,148.9 186,147.88 189.6,146.54 193.2,145.47 196.8,144.3 200.4,143.46 204,142.47 207.6,141.47 211.2,140.33 214.8,139.32 218.4,139.53 222,137.65 225.6,136.26 229.2,136.43 232.8,135.33 236.4,134.27 240,134.09 243.6,132.97 247.2,131.7 250.8,131.69 254.4,130.84 258,130.62 261.6,129.85 265.2,128.54 268.8,128.76 272.4,127.33 276,126.8 279.6,126.43" fill="none" stroke="#c628f5" stroke-width="1.6" stroke-linejoin="round" stroke-linecap="round"/>
<path d="M70.8,247.27L72.5,250.33L69.1,250.33Z" fill="#c628f5"/>
<path d="M74.4,239.55L76.1,242.61L72.7,242.61Z" fill="#c628f5"/>
<path d="M78,232.49L79.7,235.55L76.3,235.55Z" fill="#c628f5"/>
<path d="M81.6,225.91L83.3,228.97L79.9,228.97Z" fill="#c628f5"/>
<path d="M85.2,219.81L86.9,222.87L83.5,222.87Z" fill="#c628f5"/>
<path d="M88.8,214.13L90.5,217.19L87.1,217.19Z" fill="#c628f5"/>
<path d="M92.4,208.97L94.1,212.03L90.7,212.03Z" fill="#c628f5"/>
<path d="M96,204.18L97.7,207.24L94.3,207.24Z" fill="#c628f5"/>
<path d="M99.6,199.51L101.3,202.57L97.9,202.57Z" fill="#c628f5"/>
<path d="M103.2,195.3L104.9,198.36L101.5,198.36Z" fill="#c628f5"/>
<path d="M106.8,191.36L108.5,194.42L105.1,194.42Z" fill="#c628f5"/>
<path d="M110.4,187.74L112.1,190.8L108.7,190.8Z" fill="#c628f5"/>
<path d="M114,184.45L115.7,187.51L112.3,187.51Z" fill="#c628f5"/>
<path d="M117.6,181.51L119.3,184.57L115.9,184.57Z" fill="#c628f5"/>
<path d="M121.2,178.47L122.9,181.53L119.5,181.53Z" fill="#c628f5"/>
<path d="M124.8,175.68L126.5,178.74L123.1,178.74Z" fill="#c628f5"/>
<path d="M128.4,173.08L130.1,176.14L126.7,176.14Z" fill="#c628f5"/>
<path d="M132,170.29L133.7,173.35L130.3,173.35Z" fill="#c628f5"/>
<path d="M135.6,168.12L137.3,171.18L133.9,171.18Z" fill="#c628f5"/>
<path d="M139.2,166L140.9,169.06L137.5,169.06Z" fill="#c628f5"/>
<path d="M142.8,163.9L144.5,166.96L141.1,166.96Z" fill="#c628f5"/>
<path d="M146.4,161.8L148.1,164.86L144.7,164.86Z" fill="#c628f5"/>
<path d="M150,160.2L151.7,163.26L148.3,163.26Z" fill="#c628f5"/>
<path d="M153.6,158.67L155.3,161.73L151.9,161.73Z" fill="#c628f5"/>
<path d="M157.2,156.96L158.9,160.02L155.5,160.02Z" fill="#c628f5"/>
<path d="M160.8,155.21L162.5,158.27L159.1,158.27Z" fill="#c628f5"/>
<path d="M164.4,153.71L166.1,156.77L162.7,156.77Z" fill="#c628f5"/>
<path d="M168,152.88L169.7,155.94L166.3,155.94Z" fill="#c628f5"/>
<path d="M171.6,151.3L173.3,154.36L169.9,154.36Z" fill="#c628f5"/>
<path d="M175.2,149.5L176.9,152.56L173.5,152.56Z" fill="#c628f5"/>
<path d="M178.8,148.19L180.5,151.25L177.1,151.25Z" fill="#c628f5"/>
<path d="M182.4,147.2L184.1,150.26L180.7,150.26Z" fill="#c628f5"/>
<path d="M186,146.18L187.7,149.24L184.3,149.24Z" fill="#c628f5"/>
<path d="M189.6,144.84L191.3,147.9L187.9,147.9Z" fill="#c628f5"/>
<path d="M193.2,143.77L194.9,146.83L191.5,146.83Z" fill="#c628f5"/>
<path d="M196.8,142.6L198.5,145.66L195.1,145.66Z" fill="#c628f5"/>
<path d="M200.4,141.76L202.1,144.82L198.7,144.82Z" fill="#c628f5"/>
<path d="M204,140.77L205.7,143.83L202.3,143.83Z" fill="#c628f5"/>
<path d="M207.6,139.77L209.3,142.83L205.9,142.83Z" fill="#c628f5"/>
<path d="M211.2,138.63L212.9,141.69L209.5,141.69Z" fill="#c628f5"/>
<path d="M214.8,137.62L216.5,140.68L213.1,140.68Z" fill="#c628f5"/>
<path d="M218.4,137.83L220.1,140.89L216.7,140.89Z" fill="#c628f5"/>
<path d="M222,135.95L223.7,139.01L220.3,139.01Z" fill="#c628f5"/>
<path d="M225.6,134.56L227.3,137.62L223.9,137.62Z" fill="#c628f5"/>
<path d="M229.2,134.73L230.9,137.79L227.5,137.79Z" fill="#c628f5"/>
<path d="M232.8,133.63L234.5,136.69L231.1,136.69Z" fill="#c628f5"/>
<path d="M236.4,132.57L238.1,135.63L234.7,135.63Z" fill="#c628f5"/>
<path d="M240,132.39L241.7,135.45L238.3,135.45Z" fill="#c628f5"/>
<path d="M243.6,131.27L245.3,134.33L241.9,134.33Z" fill="#c628f5"/>
<path d="M247.2,130L248.9,133.06L245.5,133.06Z" fill="#c628f5"/>
<path d="M250.8,129.99L252.5,133.05L249.1,133.05Z" fill="#c628f5"/>
<path d="M254.4,129.14L256.1,132.2L252.7,132.2Z" fill="#c628f5"/>
<path d="M258,128.92L259.7,131.98L256.3,131.98Z" fill="#c628f5"/>
<path d="M261.6,128.15L263.3,131.21L259.9,131.21Z" fill="#c628f5"/>
<path d="M265.2,126.84L266.9,129.9L263.5,129.9Z" fill="#c628f5"/>
<path d="M268.8,127.06L270.5,130.12L267.1,130.12Z" fill="#c628f5"/>
<path d="M272.4,125.63L274.1,128.69L270.7,128.69Z" fill="#c628f5"/>
<path d="M276,125.1L277.7,128.16L274.3,128.16Z" fill="#c628f5"/>
<path d="M279.6,124.73L281.3,127.79L277.9,127.79Z" fill="#c628f5"/>
<polyline points="70.8,248.02 74.4,239.22 78,231.06 81.6,223.78 85.2,216.79 88.8,210.27 92.4,204.42 96,198.68 99.6,193.55 103.2,188.88 106.8,184.34 110.4,179.9 114,175.87 117.6,171.74 121.2,168.55 124.8,165.11 128.4,161.56 132,158.63 135.6,155.64 139.2,152.85 142.8,150.17 146.4,147.63 150,145.18 153.6,142.9 157.2,140.69 160.8,138.08 164.4,136.38 168,134.26 171.6,132.61 175.2,130.32 178.8,128.91 182.4,127.62 186,125.25 189.6,123.89 193.2,122.26 196.8,120.84 200.4,119.5 204,118.16 207.6,117.45 211.2,116.06 214.8,114.04 218.4,113.15 222,112.51 225.6,110.94 229.2,109.99 232.8,108.94 236.4,107.68 240,106.67 243.6,105.8 247.2,104.43 250.8,104 254.4,103 258,102.31 261.6,102.32 265.2,100.85 268.8,99.72 272.4,99.12 276,99.11 279.6,98.19" fill="none" stroke="#2222ff" stroke-width="2.0" stroke-linejoin="round" stroke-linecap="round"/>
<circle cx="70.8" cy="248.02" r="1.8" fill="#2222ff"/>
<circle cx="74.4" cy="239.22" r="1.8" fill="#2222ff"/>
<circle cx="78" cy="231.06" r="1.8" fill="#2222ff"/>
<circle cx="81.6" cy="223.78" r="1.8" fill="#2222ff"/>
<circle cx="85.2" cy="216.79" r="1.8" fill="#2222ff"/>
<circle cx="88.8" cy="210.27" r="1.8" fill="#2222ff"/>
<circle cx="92.4" cy="204.42" r="1.8" fill="#2222ff"/>
<circle cx="96" cy="198.68" r="1.8" fill="#2222ff"/>
<circle cx="99.6" cy="193.55" r="1.8" fill="#2222ff"/>
<circle cx="103.2" cy="188.88" r="1.8" fill="#2222ff"/>
<circle cx="106.8" cy="184.34" r="1.8" fill="#2222ff"/>
<circle cx="110.4" cy="179.9" r="1.8" fill="#2222ff"/>
<circle cx="114" cy="175.87" r="1.8" fill="#2222ff"/>
<circle cx="117.6" cy="171.74" r="1.8" fill="#2222ff"/>
<circle cx="121.2" cy="168.55" r="1.8" fill="#2222ff"/>
<circle cx="124.8" cy="165.11" r="1.8" fill="#2222ff"/>
<circle cx="128.4" cy="161.56" r="1.8" fill="#2222ff"/>
<circle cx="132" cy="158.63" r="1.8" fill="#2222ff"/>
<circle cx="135.6" cy="155.64" r="1.8" fill="#2222ff"/>
<circle cx="139.2" cy="152.85" r="1.8" fill="#2222ff"/>
<circle cx="142.8" cy="150.17" r="1.8" fill="#2222ff"/>
<circle cx="146.4" cy="147.63" r="1.8" fill="#2222ff"/>
<circle cx="150" cy="145.18" r="1.8" fill="#2222ff"/>
<circle cx="153.6" cy="142.9" r="1.8" fill="#2222ff"/>
<circle cx="157.2" cy="140.69" r="1.8" fill="#2222ff"/>
<circle cx="160.8" cy="138.08" r="1.8" fill="#2222ff"/>
<circle cx="164.4" cy="136.38" r="1.8" fill="#2222ff"/>
<circle cx="168" cy="134.26" r="1.8" fill="#2222ff"/>
<circle cx="171.6" cy="132.61" r="1.8" fill="#2222ff"/>
<circle cx="175.2" cy="130.32" r="1.8" fill="#2222ff"/>
<circle cx="178.8" cy="128.91" r="1.8" fill="#2222ff"/>
<circle cx="182.4" cy="127.62" r="1.8" fill="#2222ff"/>
<circle cx="186" cy="125.25" r="1.8" fill="#2222ff"/>
<circle cx="189.6" cy="123.89" r="1.8" fill="#2222ff"/>
<circle cx="193.2" cy="122.26" r="1.8" fill="#2222ff"/>
<circle cx="196.8" cy="120.84" r="1.8" fill="#2222ff"/>
<circle cx="200.4" cy="119.5" r="1.8" fill="#2222ff"/>
<circle cx="204" cy="118.16" r="1.8" fill="#2222ff"/>
<circle cx="207.6" cy="117.45" r="1.8" fill="#2222ff"/>
<circle cx="211.2" cy="116.06" r="1.8" fill="#2222ff"/>
<circle cx="214.8" cy="114.04" r="1.8" fill="#2222ff"/>
<circle cx="218.4" cy="113.15" r="1.8" fill="#2222ff"/>
<circle cx="222" cy="112.51" r="1.8" fill="#2222ff"/>
<circle cx="225.6" cy="110.94" r="1.8" fill="#2222ff"/>
<circle cx="229.2" cy="109.99" r="1.8" fill="#2222ff"/>
<circle cx="232.8" cy="108.94" r="1.8" fill="#2222ff"/>
<circle cx="236.4" cy="107.68" r="1.8" fill="#2222ff"/>
<circle cx="240" cy="106.67" r="1.8" fill="#2222ff"/>
<circle cx="243.6" cy="105.8" r="1.8" fill="#2222ff"/>
<circle cx="247.2" cy="104.43" r="1.8" fill="#2222ff"/>
<circle cx="250.8" cy="104" r="1.8" fill="#2222ff"/>
<circle cx="254.4" cy="103" r="1.8" fill="#2222ff"/>
<circle cx="258" cy="102.31" r="1.8" fill="#2222ff"/>
<circle cx="261.6" cy="102.32" r="1.8" fill="#2222ff"/>
<circle cx="265.2" cy="100.85" r="1.8" fill="#2222ff"/>
<circle cx="268.8" cy="99.72" r="1.8" fill="#2222ff"/>
<circle cx="272.4" cy="99.12" r="1.8" fill="#2222ff"/>
<circle cx="276" cy="99.11" r="1.8" fill="#2222ff"/>
<circle cx="279.6" cy="98.19" r="1.8" fill="#2222ff"/>
<path d="M74.1,58.1H89.3" stroke="#2222ff" stroke-width="1.8"/>
<circle cx="81.7" cy="58.1" r="1.8" fill="#2222ff"/>
<text x="98.6" y="61.7" font-size="10" text-anchor="start" >Control</text>
<path d="M74.1,76.3H89.3" stroke="#f2772a" stroke-width="1.5"/>
<path d="M81.7,74.7V77.9" stroke="#f2772a" stroke-width="1"/>
<text x="98.6" y="79.9" font-size="10" text-anchor="start" >ILE 0.1</text>
<path d="M74.1,97.6H89.3" stroke="#c628f5" stroke-width="1.8"/>
<path d="M81.7,95.9L83.4,98.96L80,98.96Z" fill="#c628f5"/>
<text x="98.6" y="101.2" font-size="10" text-anchor="start" >ILE 1</text>
<path d="M74.1,117.4H89.3" stroke="#3fe022" stroke-width="1.8"/>
<path d="M81.7,115.7L83.4,118.76L80,118.76Z" fill="#3fe022"/>
<text x="98.6" y="121" font-size="10" text-anchor="start" >ILE 10</text>
<path d="M74.1,136.9H89.3" stroke="#ff2424" stroke-width="1.8"/>
<rect x="79.95" y="135.15" width="3.5" height="3.5" fill="#ff2424"/>
<text x="98.6" y="140.5" font-size="10" text-anchor="start" >ILE 20</text>
<path d="M283.4,96.5H286V112.4H283.4" fill="none" stroke="#000" stroke-width="1.4"/>
<text x="293" y="102.5" font-size="10" text-anchor="middle" >n</text>
<text x="293" y="113.8" font-size="10" text-anchor="middle" >s</text>
<path d="M296.3,97H299V123.3H296.3" fill="none" stroke="#000" stroke-width="1.4"/>
<text x="306.2" y="116.61" font-size="13" text-anchor="middle" >*</text>
<path d="M308.7,95.2H311.5V137.1H308.7" fill="none" stroke="#000" stroke-width="1.4"/>
<text x="319.1" y="105.71" font-size="13" text-anchor="middle" >*</text>
<text x="319.1" y="117.21" font-size="13" text-anchor="middle" >*</text>
<text x="319.1" y="128.61" font-size="13" text-anchor="middle" >*</text>
<text x="319.1" y="139.91" font-size="13" text-anchor="middle" >*</text>
<path d="M324.6,94.2H327.3V153H324.6" fill="none" stroke="#000" stroke-width="1.4"/>
<text x="334.8" y="113.11" font-size="13" text-anchor="middle" >*</text>
<text x="334.8" y="124.31" font-size="13" text-anchor="middle" >*</text>
<text x="334.8" y="135.61" font-size="13" text-anchor="middle" >*</text>
<text x="334.8" y="146.81" font-size="13" text-anchor="middle" >*</text>
<text x="358.5" y="21.3" font-size="30" text-anchor="start" >b</text>
<text x="516.8" y="36.1" font-size="15.9" text-anchor="middle">ClpC1<tspan font-size="12" dy="-7">F80I</tspan><tspan dy="7">P1P2</tspan></text>
<text transform="translate(360.9,151.85) rotate(-90)" x="0" y="0" font-size="14" text-anchor="middle" textLength="189.75" lengthAdjust="spacingAndGlyphs">D-value of fluorescence intensity</text>
<path d="M410,54.5V250.1H623.6" fill="none" stroke="#000" stroke-width="1.5"/>
<path d="M404,250.1H410" stroke="#000" stroke-width="1.5"/>
<text x="401.7" y="254.24" font-size="12" text-anchor="end" >0</text>
<path d="M404,217.5H410" stroke="#000" stroke-width="1.5"/>
<text x="401.7" y="221.64" font-size="12" text-anchor="end" >100000</text>
<path d="M404,184.9H410" stroke="#000" stroke-width="1.5"/>
<text x="401.7" y="189.04" font-size="12" text-anchor="end" >200000</text>
<path d="M404,152.3H410" stroke="#000" stroke-width="1.5"/>
<text x="401.7" y="156.44" font-size="12" text-anchor="end" >300000</text>
<path d="M404,119.7H410" stroke="#000" stroke-width="1.5"/>
<text x="401.7" y="123.84" font-size="12" text-anchor="end" >400000</text>
<path d="M404,87.1H410" stroke="#000" stroke-width="1.5"/>
<text x="401.7" y="91.24" font-size="12" text-anchor="end" >500000</text>
<path d="M404,54.5H410" stroke="#000" stroke-width="1.5"/>
<text x="401.7" y="58.64" font-size="12" text-anchor="end" >600000</text>
<path d="M410,250.1V256.1" stroke="#000" stroke-width="1.5"/>
<text x="410" y="269.4" font-size="12" text-anchor="middle" >0</text>
<path d="M445.6,250.1V256.1" stroke="#000" stroke-width="1.5"/>
<text x="445.6" y="269.4" font-size="12" text-anchor="middle" >10</text>
<path d="M481.2,250.1V256.1" stroke="#000" stroke-width="1.5"/>
<text x="481.2" y="269.4" font-size="12" text-anchor="middle" >20</text>
<path d="M516.8,250.1V256.1" stroke="#000" stroke-width="1.5"/>
<text x="516.8" y="269.4" font-size="12" text-anchor="middle" >30</text>
<path d="M552.4,250.1V256.1" stroke="#000" stroke-width="1.5"/>
<text x="552.4" y="269.4" font-size="12" text-anchor="middle" >40</text>
<path d="M588,250.1V256.1" stroke="#000" stroke-width="1.5"/>
<text x="588" y="269.4" font-size="12" text-anchor="middle" >50</text>
<path d="M623.6,250.1V256.1" stroke="#000" stroke-width="1.5"/>
<text x="623.6" y="269.4" font-size="12" text-anchor="middle" >60</text>
<text x="516.8" y="289.1" font-size="14" text-anchor="middle" >Time (min)</text>
<path d="M417.12,233.59V245.71M415.62,233.59h3M415.62,245.71h3M420.68,222.22V240.59M419.18,222.22h3M419.18,240.59h3M424.24,214.48V233.2M422.74,214.48h3M422.74,233.2h3M427.8,204.08V229.83M426.3,204.08h3M426.3,229.83h3M431.36,197.58V223.8M429.86,197.58h3M429.86,223.8h3M434.92,191.75V217.8M433.42,191.75h3M433.42,217.8h3M438.48,185.23V214M436.98,185.23h3M436.98,214h3M442.04,179.83V209.15M440.54,179.83h3M440.54,209.15h3M445.6,174.89V205.13M444.1,174.89h3M444.1,205.13h3M449.16,172.02V199.6M447.66,172.02h3M447.66,199.6h3M452.72,165.51V198.01M451.22,165.51h3M451.22,198.01h3M456.28,160.66V195.25M454.78,160.66h3M454.78,195.25h3M459.84,159.26V189.56M458.34,159.26h3M458.34,189.56h3M463.4,151.77V189.95M461.9,151.77h3M461.9,189.95h3M466.96,151.31V184.37M465.46,151.31h3M465.46,184.37h3M470.52,148.38V181.59M469.02,148.38h3M469.02,181.59h3M474.08,144.18V180.1M472.58,144.18h3M472.58,180.1h3M477.64,141.03V177.15M476.14,141.03h3M476.14,177.15h3M481.2,137.44V175.83M479.7,137.44h3M479.7,175.83h3M484.76,135.06V174.71M483.26,135.06h3M483.26,174.71h3M488.32,134.79V169.18M486.82,134.79h3M486.82,169.18h3M491.88,129.86V169.87M490.38,129.86h3M490.38,169.87h3M495.44,128.12V167.42M493.94,128.12h3M493.94,167.42h3M499,126.91V163.92M497.5,126.91h3M497.5,163.92h3M502.56,123.46V163.95M501.06,123.46h3M501.06,163.95h3M506.12,122.24V161.08M504.62,122.24h3M504.62,161.08h3M509.68,118.89V161.76M508.18,118.89h3M508.18,161.76h3M513.24,118.76V158.49M511.74,118.76h3M511.74,158.49h3M516.8,119.52V154.21M515.3,119.52h3M515.3,154.21h3M520.36,114.52V154.82M518.86,114.52h3M518.86,154.82h3M523.92,114.12V152.74M522.42,114.12h3M522.42,152.74h3M527.48,113.69V151.52M525.98,113.69h3M525.98,151.52h3M531.04,111.46V149.28M529.54,111.46h3M529.54,149.28h3M534.6,107V151.12M533.1,107h3M533.1,151.12h3M538.16,105.44V150.02M536.66,105.44h3M536.66,150.02h3M541.72,104.39V149.31M540.22,104.39h3M540.22,149.31h3M545.28,104.47V147.15M543.78,104.47h3M543.78,147.15h3M548.84,103.09V145.58M547.34,103.09h3M547.34,145.58h3M552.4,103.35V142.95M550.9,103.35h3M550.9,142.95h3M555.96,97.91V147.33M554.46,97.91h3M554.46,147.33h3M559.52,99.72V142.71M558.02,99.72h3M558.02,142.71h3M563.08,98.09V142.72M561.58,98.09h3M561.58,142.72h3M566.64,96.54V142.53M565.14,96.54h3M565.14,142.53h3M570.2,97.33V139.91M568.7,97.33h3M568.7,139.91h3M573.76,93.19V141.59M572.26,93.19h3M572.26,141.59h3M577.32,94.23V139.26M575.82,94.23h3M575.82,139.26h3M580.88,93.54V138.92M579.38,93.54h3M579.38,138.92h3M584.44,92.36V137.72M582.94,92.36h3M582.94,137.72h3M588,91.24V138.32M586.5,91.24h3M586.5,138.32h3M591.56,90.15V137.26M590.06,90.15h3M590.06,137.26h3M595.12,90.77V136.1M593.62,90.77h3M593.62,136.1h3M598.68,91.36V132.55M597.18,91.36h3M597.18,132.55h3M602.24,89.99V133.49M600.74,89.99h3M600.74,133.49h3M605.8,88.17V133.57M604.3,88.17h3M604.3,133.57h3M609.36,88.84V133.01M607.86,88.84h3M607.86,133.01h3M612.92,90.31V130.52M611.42,90.31h3M611.42,130.52h3M616.48,88.34V130.25M614.98,88.34h3M614.98,130.25h3M620.04,87.05V131.74M618.54,87.05h3M618.54,131.74h3M623.6,86.42V129.76M622.1,86.42h3M622.1,129.76h3" stroke="#cf78f5" stroke-opacity="0.5" stroke-width="0.8" fill="none"/>
<path d="M417.12,238.84V240.45M415.62,238.84h3M415.62,240.45h3M420.68,229.91V232.61M419.18,229.91h3M419.18,232.61h3M424.24,221.88V225.57M422.74,221.88h3M422.74,225.57h3M427.8,214.85V218.77M426.3,214.85h3M426.3,218.77h3M431.36,208.52V212.75M429.86,208.52h3M429.86,212.75h3M434.92,202.22V207.54M433.42,202.22h3M433.42,207.54h3M438.48,196.67V201.96M436.98,196.67h3M436.98,201.96h3M442.04,191.23V197.25M440.54,191.23h3M440.54,197.25h3M445.6,186.38V192.51M444.1,186.38h3M444.1,192.51h3M449.16,181.31V188.76M447.66,181.31h3M447.66,188.76h3M452.72,177.57V184.62M451.22,177.57h3M451.22,184.62h3M456.28,173.1V181.18M454.78,173.1h3M454.78,181.18h3M459.84,169.51V177.63M458.34,169.51h3M458.34,177.63h3M463.4,165.92V173.98M461.9,165.92h3M461.9,173.98h3M466.96,162.8V171.06M465.46,162.8h3M465.46,171.06h3M470.52,159.13V168.13M469.02,159.13h3M469.02,168.13h3M474.08,156.71V165.52M472.58,156.71h3M472.58,165.52h3M477.64,152.9V162.57M476.14,152.9h3M476.14,162.57h3M481.2,150.33V159.76M479.7,150.33h3M479.7,159.76h3M484.76,147.94V157.44M483.26,147.94h3M483.26,157.44h3M488.32,144.87V155.01M486.82,144.87h3M486.82,155.01h3M491.88,141.7V153.05M490.38,141.7h3M490.38,153.05h3M495.44,140.62V150.28M493.94,140.62h3M493.94,150.28h3M499,137.42V148.41M497.5,137.42h3M497.5,148.41h3M502.56,135.61V145.91M501.06,135.61h3M501.06,145.91h3M506.12,133.39V144.08M504.62,133.39h3M504.62,144.08h3M509.68,130.16V142.85M508.18,130.16h3M508.18,142.85h3M513.24,129.52V141.27M511.74,129.52h3M511.74,141.27h3M516.8,128.06V138.94M515.3,128.06h3M515.3,138.94h3M520.36,126.64V136.61M518.86,126.64h3M518.86,136.61h3M523.92,124.03V136.23M522.42,124.03h3M522.42,136.23h3M527.48,121.47V133.84M525.98,121.47h3M525.98,133.84h3M531.04,120.35V132.59M529.54,120.35h3M529.54,132.59h3M534.6,118.59V130.85M533.1,118.59h3M533.1,130.85h3M538.16,116.65V128.44M536.66,116.65h3M536.66,128.44h3M541.72,115.7V127.53M540.22,115.7h3M540.22,127.53h3M545.28,114.07V126.3M543.78,114.07h3M543.78,126.3h3M548.84,113.69V125.3M547.34,113.69h3M547.34,125.3h3M552.4,111.95V123.85M550.9,111.95h3M550.9,123.85h3M555.96,109.74V123.12M554.46,109.74h3M554.46,123.12h3M559.52,108.35V120.86M558.02,108.35h3M558.02,120.86h3M563.08,107.16V120.38M561.58,107.16h3M561.58,120.38h3M566.64,106.64V119.86M565.14,106.64h3M565.14,119.86h3M570.2,105.61V117.95M568.7,105.61h3M568.7,117.95h3M573.76,104V117.84M572.26,104h3M572.26,117.84h3M577.32,103.52V115.64M575.82,103.52h3M575.82,115.64h3M580.88,102.67V115.63M579.38,102.67h3M579.38,115.63h3M584.44,100.57V114.83M582.94,100.57h3M582.94,114.83h3M588,100.97V113.18M586.5,100.97h3M586.5,113.18h3M591.56,98.66V113.14M590.06,98.66h3M590.06,113.14h3M595.12,98.85V110.97M593.62,98.85h3M593.62,110.97h3M598.68,97.21V111.84M597.18,97.21h3M597.18,111.84h3M602.24,96.32V110.6M600.74,96.32h3M600.74,110.6h3M605.8,95.54V109.27M604.3,95.54h3M604.3,109.27h3M609.36,95.89V108.81M607.86,95.89h3M607.86,108.81h3M612.92,93.94V108.31M611.42,93.94h3M611.42,108.31h3M616.48,93.2V107.14M614.98,93.2h3M614.98,107.14h3M620.04,93.17V106.89M618.54,93.17h3M618.54,106.89h3M623.6,92.99V106.71M622.1,92.99h3M622.1,106.71h3" stroke="#8080ff" stroke-opacity="0.7" stroke-width="0.8" fill="none"/>
<path d="M417.12,238.99V240.98M415.62,238.99h3M415.62,240.98h3M420.68,230V233.35M419.18,230h3M419.18,233.35h3M424.24,221.85V226.44M422.74,221.85h3M422.74,226.44h3M427.8,214.78V219.68M426.3,214.78h3M426.3,219.68h3M431.36,208.53V213.81M429.86,208.53h3M429.86,213.81h3M434.92,202.04V208.7M433.42,202.04h3M433.42,208.7h3M438.48,196.78V203.38M436.98,196.78h3M436.98,203.38h3M442.04,191.53V199.01M440.54,191.53h3M440.54,199.01h3M445.6,186.58V194.22M444.1,186.58h3M444.1,194.22h3M449.16,181.8V191.06M447.66,181.8h3M447.66,191.06h3M452.72,178.03V186.81M451.22,178.03h3M451.22,186.81h3M456.28,173.55V183.59M454.78,173.55h3M454.78,183.59h3M459.84,170.01V180.1M458.34,170.01h3M458.34,180.1h3M463.4,166.66V176.67M461.9,166.66h3M461.9,176.67h3M466.96,163.54V173.8M465.46,163.54h3M465.46,173.8h3M470.52,159.99V171.16M469.02,159.99h3M469.02,171.16h3M474.08,157.52V168.45M472.58,157.52h3M472.58,168.45h3M477.64,154.68V166.6M476.14,154.68h3M476.14,166.6h3M481.2,152.21V163.83M479.7,152.21h3M479.7,163.83h3M484.76,149.77V161.48M483.26,149.77h3M483.26,161.48h3M488.32,146.66V159.17M486.82,146.66h3M486.82,159.17h3M491.88,143.83V157.79M490.38,143.83h3M490.38,157.79h3M495.44,142.74V154.65M493.94,142.74h3M493.94,154.65h3M499,139.86V153.36M497.5,139.86h3M497.5,153.36h3M502.56,138.41V151.04M501.06,138.41h3M501.06,151.04h3M506.12,136.85V149.91M504.62,136.85h3M504.62,149.91h3M509.68,133.71V149.18M508.18,133.71h3M508.18,149.18h3M513.24,132.69V147.07M511.74,132.69h3M511.74,147.07h3M516.8,131.42V144.73M515.3,131.42h3M515.3,144.73h3M520.36,130.72V142.86M518.86,130.72h3M518.86,142.86h3M523.92,127.68V142.58M522.42,127.68h3M522.42,142.58h3M527.48,126.53V141.51M525.98,126.53h3M525.98,141.51h3M531.04,125.19V140.02M529.54,125.19h3M529.54,140.02h3M534.6,123.95V138.77M533.1,123.95h3M533.1,138.77h3M538.16,122.74V136.94M536.66,122.74h3M536.66,136.94h3M541.72,121.34V135.64M540.22,121.34h3M540.22,135.64h3M545.28,120.22V134.96M543.78,120.22h3M543.78,134.96h3M548.84,119.64V133.66M547.34,119.64h3M547.34,133.66h3M552.4,118.11V132.47M550.9,118.11h3M550.9,132.47h3M555.96,116.14V132.25M554.46,116.14h3M554.46,132.25h3M559.52,115.71V130.7M558.02,115.71h3M558.02,130.7h3M563.08,114.58V130.43M561.58,114.58h3M561.58,130.43h3M566.64,113.78V129.64M565.14,113.78h3M565.14,129.64h3M570.2,113.28V128.06M568.7,113.28h3M568.7,128.06h3M573.76,110.92V127.56M572.26,110.92h3M572.26,127.56h3M577.32,112.36V126.79M575.82,112.36h3M575.82,126.79h3M580.88,111.19V126.65M579.38,111.19h3M579.38,126.65h3M584.44,108.58V125.64M582.94,108.58h3M582.94,125.64h3M588,109.66V124.23M586.5,109.66h3M586.5,124.23h3M591.56,107.97V125.17M590.06,107.97h3M590.06,125.17h3M595.12,108.3V122.71M593.62,108.3h3M593.62,122.71h3M598.68,105.77V123.23M597.18,105.77h3M597.18,123.23h3M602.24,105.13V122.15M600.74,105.13h3M600.74,122.15h3M605.8,105.33V121.64M604.3,105.33h3M604.3,121.64h3M609.36,105.01V120.41M607.86,105.01h3M607.86,120.41h3M612.92,104.2V121.21M611.42,104.2h3M611.42,121.21h3M616.48,104.57V120.99M614.98,104.57h3M614.98,120.99h3M620.04,103.76V119.99M618.54,103.76h3M618.54,119.99h3M623.6,102.45V118.77M622.1,102.45h3M622.1,118.77h3" stroke="#e8782e" stroke-opacity="0.8" stroke-width="0.8" fill="none"/>
<path d="M417.12,237.55V245.02M415.62,237.55h3M415.62,245.02h3M420.68,227.89V238.37M419.18,227.89h3M419.18,238.37h3M424.24,218.97V232.55M422.74,218.97h3M422.74,232.55h3M427.8,211.11V227.07M426.3,211.11h3M426.3,227.07h3M431.36,205.04V221.15M429.86,205.04h3M429.86,221.15h3M434.92,199.98V215.69M433.42,199.98h3M433.42,215.69h3M438.48,194.28V211.14M436.98,194.28h3M436.98,211.14h3M442.04,187.02V209.21M440.54,187.02h3M440.54,209.21h3M445.6,183.78V203.86M444.1,183.78h3M444.1,203.86h3M449.16,178.9V201.15M447.66,178.9h3M447.66,201.15h3M452.72,174.1V198M451.22,174.1h3M451.22,198h3M456.28,171.57V193.65M454.78,171.57h3M454.78,193.65h3M459.84,167.34V191.7M458.34,167.34h3M458.34,191.7h3M463.4,164.74V188.48M461.9,164.74h3M461.9,188.48h3M466.96,161.02V186.38M465.46,161.02h3M465.46,186.38h3M470.52,157V184.8M469.02,157h3M469.02,184.8h3M474.08,154.44V182.49M472.58,154.44h3M472.58,182.49h3M477.64,151.11V181.02M476.14,151.11h3M476.14,181.02h3M481.2,149.25V177.69M479.7,149.25h3M479.7,177.69h3M484.76,148.22V174.57M483.26,148.22h3M483.26,174.57h3M488.32,144.97V173.67M486.82,144.97h3M486.82,173.67h3M491.88,143.65V171.57M490.38,143.65h3M490.38,171.57h3M495.44,142.15V169.2M493.94,142.15h3M493.94,169.2h3M499,140.62V167.33M497.5,140.62h3M497.5,167.33h3M502.56,137.16V166.54M501.06,137.16h3M501.06,166.54h3M506.12,133.84V166.43M504.62,133.84h3M504.62,166.43h3M509.68,133.64V163.32M508.18,133.64h3M508.18,163.32h3M513.24,131.31V162.71M511.74,131.31h3M511.74,162.71h3M516.8,128.34V162.79M515.3,128.34h3M515.3,162.79h3M520.36,128.27V160.36M518.86,128.27h3M518.86,160.36h3M523.92,126.93V158.52M522.42,126.93h3M522.42,158.52h3M527.48,124.57V158.14M525.98,124.57h3M525.98,158.14h3M531.04,124.16V156.58M529.54,124.16h3M529.54,156.58h3M534.6,121.89V155.63M533.1,121.89h3M533.1,155.63h3M538.16,122.71V153.25M536.66,122.71h3M536.66,153.25h3M541.72,118.88V154.67M540.22,118.88h3M540.22,154.67h3M545.28,120.4V149.8M543.78,120.4h3M543.78,149.8h3M548.84,118.21V151.44M547.34,118.21h3M547.34,151.44h3M552.4,116.15V151.09M550.9,116.15h3M550.9,151.09h3M555.96,115.78V149.21M554.46,115.78h3M554.46,149.21h3M559.52,115.94V148.11M558.02,115.94h3M558.02,148.11h3M563.08,113.37V148.1M561.58,113.37h3M561.58,148.1h3M566.64,113.98V146.18M565.14,113.98h3M565.14,146.18h3M570.2,113.29V144.8M568.7,113.29h3M568.7,144.8h3M573.76,111.97V143.71M572.26,111.97h3M572.26,143.71h3M577.32,110.31V143M575.82,110.31h3M575.82,143h3M580.88,108.27V143.57M579.38,108.27h3M579.38,143.57h3M584.44,108.24V142.08M582.94,108.24h3M582.94,142.08h3M588,106.33V143.58M586.5,106.33h3M586.5,143.58h3M591.56,106.81V141.26M590.06,106.81h3M590.06,141.26h3M595.12,106.43V140.13M593.62,106.43h3M593.62,140.13h3M598.68,106.35V139.47M597.18,106.35h3M597.18,139.47h3M602.24,103.59V139.04M600.74,103.59h3M600.74,139.04h3M605.8,104.7V138.83M604.3,104.7h3M604.3,138.83h3M609.36,104.98V137.23M607.86,104.98h3M607.86,137.23h3M612.92,101.74V138.72M611.42,101.74h3M611.42,138.72h3M616.48,102.78V138.08M614.98,102.78h3M614.98,138.08h3M620.04,99.72V138.39M618.54,99.72h3M618.54,138.39h3M623.6,99.55V137.7M622.1,99.55h3M622.1,137.7h3" stroke="#80e870" stroke-opacity="0.6" stroke-width="0.8" fill="none"/>
<path d="M417.12,240.3V248.49M415.62,240.3h3M415.62,248.49h3M420.68,232.3V243.63M419.18,232.3h3M419.18,243.63h3M424.24,224.85V239.26M422.74,224.85h3M422.74,239.26h3M427.8,218.6V235.2M426.3,218.6h3M426.3,235.2h3M431.36,213.63V230.24M429.86,213.63h3M429.86,230.24h3M434.92,209.75V225.78M433.42,209.75h3M433.42,225.78h3M438.48,205.27V222.29M436.98,205.27h3M436.98,222.29h3M442.04,198.67V220.99M440.54,198.67h3M440.54,220.99h3M445.6,196.4V216.45M444.1,196.4h3M444.1,216.45h3M449.16,192.22V214.34M447.66,192.22h3M447.66,214.34h3M452.72,188.28V211.91M451.22,188.28h3M451.22,211.91h3M456.28,186.21V208M454.78,186.21h3M454.78,208h3M459.84,182.68V206.6M458.34,182.68h3M458.34,206.6h3M463.4,180.38V203.67M461.9,180.38h3M461.9,203.67h3M466.96,177.13V201.95M465.46,177.13h3M465.46,201.95h3M470.52,173.18V200.4M469.02,173.18h3M469.02,200.4h3M474.08,171.21V198.58M472.58,171.21h3M472.58,198.58h3M477.64,168.27V197.41M476.14,168.27h3M476.14,197.41h3M481.2,166.64V194.32M479.7,166.64h3M479.7,194.32h3M484.76,165.79V191.42M483.26,165.79h3M483.26,191.42h3M488.32,163.21V191.01M486.82,163.21h3M486.82,191.01h3M491.88,161.49V188.62M490.38,161.49h3M490.38,188.62h3M495.44,160.06V186.34M493.94,160.06h3M493.94,186.34h3M499,158.62V184.55M497.5,158.62h3M497.5,184.55h3M502.56,155.44V183.93M501.06,155.44h3M501.06,183.93h3M506.12,152.76V184.27M504.62,152.76h3M504.62,184.27h3M509.68,152.34V181.07M508.18,152.34h3M508.18,181.07h3M513.24,150.14V180.51M511.74,150.14h3M511.74,180.51h3M516.8,147.37V180.68M515.3,147.37h3M515.3,180.68h3M520.36,147.11V178.16M518.86,147.11h3M518.86,178.16h3M523.92,145.57V176.16M522.42,145.57h3M522.42,176.16h3M527.48,143.42V175.91M525.98,143.42h3M525.98,175.91h3M531.04,142.99V174.37M529.54,142.99h3M529.54,174.37h3M534.6,141.56V174.08M533.1,141.56h3M533.1,174.08h3M538.16,141.71V171.24M536.66,141.71h3M536.66,171.24h3M541.72,138.21V172.78M540.22,138.21h3M540.22,172.78h3M545.28,139.92V168.26M543.78,139.92h3M543.78,168.26h3M548.84,137.03V169.18M547.34,137.03h3M547.34,169.18h3M552.4,135.14V168.93M550.9,135.14h3M550.9,168.93h3M555.96,134.96V167.26M554.46,134.96h3M554.46,167.26h3M559.52,134.63V165.77M558.02,134.63h3M558.02,165.77h3M563.08,132.67V166.2M561.58,132.67h3M561.58,166.2h3M566.64,133.36V164.43M565.14,133.36h3M565.14,164.43h3M570.2,133.02V163.37M568.7,133.02h3M568.7,163.37h3M573.76,131.93V162.48M572.26,131.93h3M572.26,162.48h3M577.32,130.41V161.85M575.82,130.41h3M575.82,161.85h3M580.88,128.56V162.48M579.38,128.56h3M579.38,162.48h3M584.44,128.16V160.73M582.94,128.16h3M582.94,160.73h3M588,126.12V162M586.5,126.12h3M586.5,162h3M591.56,126.65V159.81M590.06,126.65h3M590.06,159.81h3M595.12,126.14V158.6M593.62,126.14h3M593.62,158.6h3M598.68,125.8V157.73M597.18,125.8h3M597.18,157.73h3M602.24,124.64V158.58M600.74,124.64h3M600.74,158.58h3M605.8,124.22V157.11M604.3,124.22h3M604.3,157.11h3M609.36,124.59V155.66M607.86,124.59h3M607.86,155.66h3M612.92,121.39V157.01M611.42,121.39h3M611.42,157.01h3M616.48,121.79V155.88M614.98,121.79h3M614.98,155.88h3M620.04,120.12V157.26M618.54,120.12h3M618.54,157.26h3M623.6,119.28V156.01M622.1,119.28h3M622.1,156.01h3" stroke="#ff7c7c" stroke-opacity="0.65" stroke-width="0.8" fill="none"/>
<polyline points="417.12,244.4 420.68,237.97 424.24,232.06 427.8,226.9 431.36,221.94 434.92,217.76 438.48,213.78 442.04,209.83 445.6,206.43 449.16,203.28 452.72,200.1 456.28,197.1 459.84,194.64 463.4,192.03 466.96,189.54 470.52,186.79 474.08,184.9 477.64,182.84 481.2,180.48 484.76,178.61 488.32,177.11 491.88,175.05 495.44,173.2 499,171.58 502.56,169.69 506.12,168.51 509.68,166.7 513.24,165.32 516.8,164.02 520.36,162.63 523.92,160.87 527.48,159.66 531.04,158.68 534.6,157.82 538.16,156.48 541.72,155.49 545.28,154.09 548.84,153.1 552.4,152.03 555.96,151.11 559.52,150.2 563.08,149.43 566.64,148.89 570.2,148.19 573.76,147.21 577.32,146.13 580.88,145.52 584.44,144.44 588,144.06 591.56,143.23 595.12,142.37 598.68,141.77 602.24,141.61 605.8,140.67 609.36,140.13 612.92,139.2 616.48,138.84 620.04,138.69 623.6,137.65" fill="none" stroke="#ff2424" stroke-width="1.8" stroke-linejoin="round" stroke-linecap="round"/>
<rect x="415.37" y="242.65" width="3.5" height="3.5" fill="#ff2424"/>
<rect x="418.93" y="236.22" width="3.5" height="3.5" fill="#ff2424"/>
<rect x="422.49" y="230.31" width="3.5" height="3.5" fill="#ff2424"/>
<rect x="426.05" y="225.15" width="3.5" height="3.5" fill="#ff2424"/>
<rect x="429.61" y="220.19" width="3.5" height="3.5" fill="#ff2424"/>
<rect x="433.17" y="216.01" width="3.5" height="3.5" fill="#ff2424"/>
<rect x="436.73" y="212.03" width="3.5" height="3.5" fill="#ff2424"/>
<rect x="440.29" y="208.08" width="3.5" height="3.5" fill="#ff2424"/>
<rect x="443.85" y="204.68" width="3.5" height="3.5" fill="#ff2424"/>
<rect x="447.41" y="201.53" width="3.5" height="3.5" fill="#ff2424"/>
<rect x="450.97" y="198.35" width="3.5" height="3.5" fill="#ff2424"/>
<rect x="454.53" y="195.35" width="3.5" height="3.5" fill="#ff2424"/>
<rect x="458.09" y="192.89" width="3.5" height="3.5" fill="#ff2424"/>
<rect x="461.65" y="190.28" width="3.5" height="3.5" fill="#ff2424"/>
<rect x="465.21" y="187.79" width="3.5" height="3.5" fill="#ff2424"/>
<rect x="468.77" y="185.04" width="3.5" height="3.5" fill="#ff2424"/>
<rect x="472.33" y="183.15" width="3.5" height="3.5" fill="#ff2424"/>
<rect x="475.89" y="181.09" width="3.5" height="3.5" fill="#ff2424"/>
<rect x="479.45" y="178.73" width="3.5" height="3.5" fill="#ff2424"/>
<rect x="483.01" y="176.86" width="3.5" height="3.5" fill="#ff2424"/>
<rect x="486.57" y="175.36" width="3.5" height="3.5" fill="#ff2424"/>
<rect x="490.13" y="173.3" width="3.5" height="3.5" fill="#ff2424"/>
<rect x="493.69" y="171.45" width="3.5" height="3.5" fill="#ff2424"/>
<rect x="497.25" y="169.83" width="3.5" height="3.5" fill="#ff2424"/>
<rect x="500.81" y="167.94" width="3.5" height="3.5" fill="#ff2424"/>
<rect x="504.37" y="166.76" width="3.5" height="3.5" fill="#ff2424"/>
<rect x="507.93" y="164.95" width="3.5" height="3.5" fill="#ff2424"/>
<rect x="511.49" y="163.57" width="3.5" height="3.5" fill="#ff2424"/>
<rect x="515.05" y="162.27" width="3.5" height="3.5" fill="#ff2424"/>
<rect x="518.61" y="160.88" width="3.5" height="3.5" fill="#ff2424"/>
<rect x="522.17" y="159.12" width="3.5" height="3.5" fill="#ff2424"/>
<rect x="525.73" y="157.91" width="3.5" height="3.5" fill="#ff2424"/>
<rect x="529.29" y="156.93" width="3.5" height="3.5" fill="#ff2424"/>
<rect x="532.85" y="156.07" width="3.5" height="3.5" fill="#ff2424"/>
<rect x="536.41" y="154.73" width="3.5" height="3.5" fill="#ff2424"/>
<rect x="539.97" y="153.74" width="3.5" height="3.5" fill="#ff2424"/>
<rect x="543.53" y="152.34" width="3.5" height="3.5" fill="#ff2424"/>
<rect x="547.09" y="151.35" width="3.5" height="3.5" fill="#ff2424"/>
<rect x="550.65" y="150.28" width="3.5" height="3.5" fill="#ff2424"/>
<rect x="554.21" y="149.36" width="3.5" height="3.5" fill="#ff2424"/>
<rect x="557.77" y="148.45" width="3.5" height="3.5" fill="#ff2424"/>
<rect x="561.33" y="147.68" width="3.5" height="3.5" fill="#ff2424"/>
<rect x="564.89" y="147.14" width="3.5" height="3.5" fill="#ff2424"/>
<rect x="568.45" y="146.44" width="3.5" height="3.5" fill="#ff2424"/>
<rect x="572.01" y="145.46" width="3.5" height="3.5" fill="#ff2424"/>
<rect x="575.57" y="144.38" width="3.5" height="3.5" fill="#ff2424"/>
<rect x="579.13" y="143.77" width="3.5" height="3.5" fill="#ff2424"/>
<rect x="582.69" y="142.69" width="3.5" height="3.5" fill="#ff2424"/>
<rect x="586.25" y="142.31" width="3.5" height="3.5" fill="#ff2424"/>
<rect x="589.81" y="141.48" width="3.5" height="3.5" fill="#ff2424"/>
<rect x="593.37" y="140.62" width="3.5" height="3.5" fill="#ff2424"/>
<rect x="596.93" y="140.02" width="3.5" height="3.5" fill="#ff2424"/>
<rect x="600.49" y="139.86" width="3.5" height="3.5" fill="#ff2424"/>
<rect x="604.05" y="138.92" width="3.5" height="3.5" fill="#ff2424"/>
<rect x="607.61" y="138.38" width="3.5" height="3.5" fill="#ff2424"/>
<rect x="611.17" y="137.45" width="3.5" height="3.5" fill="#ff2424"/>
<rect x="614.73" y="137.09" width="3.5" height="3.5" fill="#ff2424"/>
<rect x="618.29" y="136.94" width="3.5" height="3.5" fill="#ff2424"/>
<rect x="621.85" y="135.9" width="3.5" height="3.5" fill="#ff2424"/>
<polyline points="417.12,239.99 420.68,231.67 424.24,224.14 427.8,217.23 431.36,211.17 434.92,205.37 438.48,200.08 442.04,195.27 445.6,190.4 449.16,186.43 452.72,182.42 456.28,178.57 459.84,175.05 463.4,171.67 466.96,168.67 470.52,165.57 474.08,162.99 477.64,160.64 481.2,158.02 484.76,155.62 488.32,152.92 491.88,150.81 495.44,148.7 499,146.61 502.56,144.72 506.12,143.38 509.68,141.44 513.24,139.88 516.8,138.08 520.36,136.79 523.92,135.13 527.48,134.02 531.04,132.61 534.6,131.36 538.16,129.84 541.72,128.49 545.28,127.59 548.84,126.65 552.4,125.29 555.96,124.19 559.52,123.21 563.08,122.51 566.64,121.71 570.2,120.67 573.76,119.24 577.32,119.57 580.88,118.92 584.44,117.11 588,116.94 591.56,116.57 595.12,115.5 598.68,114.5 602.24,113.64 605.8,113.48 609.36,112.71 612.92,112.71 616.48,112.78 620.04,111.88 623.6,110.61" fill="none" stroke="#f2772a" stroke-width="1.4" stroke-linejoin="round" stroke-linecap="round"/>
<path d="M417.12,238.39V241.59" stroke="#f2772a" stroke-width="1"/>
<path d="M420.68,230.07V233.27" stroke="#f2772a" stroke-width="1"/>
<path d="M424.24,222.54V225.74" stroke="#f2772a" stroke-width="1"/>
<path d="M427.8,215.63V218.83" stroke="#f2772a" stroke-width="1"/>
<path d="M431.36,209.57V212.77" stroke="#f2772a" stroke-width="1"/>
<path d="M434.92,203.77V206.97" stroke="#f2772a" stroke-width="1"/>
<path d="M438.48,198.48V201.68" stroke="#f2772a" stroke-width="1"/>
<path d="M442.04,193.67V196.87" stroke="#f2772a" stroke-width="1"/>
<path d="M445.6,188.8V192" stroke="#f2772a" stroke-width="1"/>
<path d="M449.16,184.83V188.03" stroke="#f2772a" stroke-width="1"/>
<path d="M452.72,180.82V184.02" stroke="#f2772a" stroke-width="1"/>
<path d="M456.28,176.97V180.17" stroke="#f2772a" stroke-width="1"/>
<path d="M459.84,173.45V176.65" stroke="#f2772a" stroke-width="1"/>
<path d="M463.4,170.07V173.27" stroke="#f2772a" stroke-width="1"/>
<path d="M466.96,167.07V170.27" stroke="#f2772a" stroke-width="1"/>
<path d="M470.52,163.97V167.17" stroke="#f2772a" stroke-width="1"/>
<path d="M474.08,161.39V164.59" stroke="#f2772a" stroke-width="1"/>
<path d="M477.64,159.04V162.24" stroke="#f2772a" stroke-width="1"/>
<path d="M481.2,156.42V159.62" stroke="#f2772a" stroke-width="1"/>
<path d="M484.76,154.02V157.22" stroke="#f2772a" stroke-width="1"/>
<path d="M488.32,151.32V154.52" stroke="#f2772a" stroke-width="1"/>
<path d="M491.88,149.21V152.41" stroke="#f2772a" stroke-width="1"/>
<path d="M495.44,147.1V150.3" stroke="#f2772a" stroke-width="1"/>
<path d="M499,145.01V148.21" stroke="#f2772a" stroke-width="1"/>
<path d="M502.56,143.12V146.32" stroke="#f2772a" stroke-width="1"/>
<path d="M506.12,141.78V144.98" stroke="#f2772a" stroke-width="1"/>
<path d="M509.68,139.84V143.04" stroke="#f2772a" stroke-width="1"/>
<path d="M513.24,138.28V141.48" stroke="#f2772a" stroke-width="1"/>
<path d="M516.8,136.48V139.68" stroke="#f2772a" stroke-width="1"/>
<path d="M520.36,135.19V138.39" stroke="#f2772a" stroke-width="1"/>
<path d="M523.92,133.53V136.73" stroke="#f2772a" stroke-width="1"/>
<path d="M527.48,132.42V135.62" stroke="#f2772a" stroke-width="1"/>
<path d="M531.04,131.01V134.21" stroke="#f2772a" stroke-width="1"/>
<path d="M534.6,129.76V132.96" stroke="#f2772a" stroke-width="1"/>
<path d="M538.16,128.24V131.44" stroke="#f2772a" stroke-width="1"/>
<path d="M541.72,126.89V130.09" stroke="#f2772a" stroke-width="1"/>
<path d="M545.28,125.99V129.19" stroke="#f2772a" stroke-width="1"/>
<path d="M548.84,125.05V128.25" stroke="#f2772a" stroke-width="1"/>
<path d="M552.4,123.69V126.89" stroke="#f2772a" stroke-width="1"/>
<path d="M555.96,122.59V125.79" stroke="#f2772a" stroke-width="1"/>
<path d="M559.52,121.61V124.81" stroke="#f2772a" stroke-width="1"/>
<path d="M563.08,120.91V124.11" stroke="#f2772a" stroke-width="1"/>
<path d="M566.64,120.11V123.31" stroke="#f2772a" stroke-width="1"/>
<path d="M570.2,119.07V122.27" stroke="#f2772a" stroke-width="1"/>
<path d="M573.76,117.64V120.84" stroke="#f2772a" stroke-width="1"/>
<path d="M577.32,117.97V121.17" stroke="#f2772a" stroke-width="1"/>
<path d="M580.88,117.32V120.52" stroke="#f2772a" stroke-width="1"/>
<path d="M584.44,115.51V118.71" stroke="#f2772a" stroke-width="1"/>
<path d="M588,115.34V118.54" stroke="#f2772a" stroke-width="1"/>
<path d="M591.56,114.97V118.17" stroke="#f2772a" stroke-width="1"/>
<path d="M595.12,113.9V117.1" stroke="#f2772a" stroke-width="1"/>
<path d="M598.68,112.9V116.1" stroke="#f2772a" stroke-width="1"/>
<path d="M602.24,112.04V115.24" stroke="#f2772a" stroke-width="1"/>
<path d="M605.8,111.88V115.08" stroke="#f2772a" stroke-width="1"/>
<path d="M609.36,111.11V114.31" stroke="#f2772a" stroke-width="1"/>
<path d="M612.92,111.11V114.31" stroke="#f2772a" stroke-width="1"/>
<path d="M616.48,111.18V114.38" stroke="#f2772a" stroke-width="1"/>
<path d="M620.04,110.28V113.48" stroke="#f2772a" stroke-width="1"/>
<path d="M623.6,109.01V112.21" stroke="#f2772a" stroke-width="1"/>
<polyline points="417.12,241.28 420.68,233.13 424.24,225.76 427.8,219.09 431.36,213.09 434.92,207.83 438.48,202.71 442.04,198.12 445.6,193.82 449.16,190.03 452.72,186.05 456.28,182.61 459.84,179.52 463.4,176.61 466.96,173.7 470.52,170.9 474.08,168.47 477.64,166.06 481.2,163.47 484.76,161.4 488.32,159.32 491.88,157.61 495.44,155.68 499,153.97 502.56,151.85 506.12,150.13 509.68,148.48 513.24,147.01 516.8,145.57 520.36,144.31 523.92,142.73 527.48,141.35 531.04,140.37 534.6,138.76 538.16,137.98 541.72,136.77 545.28,135.1 548.84,134.83 552.4,133.62 555.96,132.5 559.52,132.02 563.08,130.74 566.64,130.08 570.2,129.05 573.76,127.84 577.32,126.65 580.88,125.92 584.44,125.16 588,124.96 591.56,124.04 595.12,123.28 598.68,122.91 602.24,121.32 605.8,121.77 609.36,121.11 612.92,120.23 616.48,120.43 620.04,119.05 623.6,118.62" fill="none" stroke="#3fe022" stroke-width="1.6" stroke-linejoin="round" stroke-linecap="round"/>
<path d="M417.12,239.58L418.82,242.64L415.42,242.64Z" fill="#3fe022"/>
<path d="M420.68,231.43L422.38,234.49L418.98,234.49Z" fill="#3fe022"/>
<path d="M424.24,224.06L425.94,227.12L422.54,227.12Z" fill="#3fe022"/>
<path d="M427.8,217.39L429.5,220.45L426.1,220.45Z" fill="#3fe022"/>
<path d="M431.36,211.39L433.06,214.45L429.66,214.45Z" fill="#3fe022"/>
<path d="M434.92,206.13L436.62,209.19L433.22,209.19Z" fill="#3fe022"/>
<path d="M438.48,201.01L440.18,204.07L436.78,204.07Z" fill="#3fe022"/>
<path d="M442.04,196.42L443.74,199.48L440.34,199.48Z" fill="#3fe022"/>
<path d="M445.6,192.12L447.3,195.18L443.9,195.18Z" fill="#3fe022"/>
<path d="M449.16,188.33L450.86,191.39L447.46,191.39Z" fill="#3fe022"/>
<path d="M452.72,184.35L454.42,187.41L451.02,187.41Z" fill="#3fe022"/>
<path d="M456.28,180.91L457.98,183.97L454.58,183.97Z" fill="#3fe022"/>
<path d="M459.84,177.82L461.54,180.88L458.14,180.88Z" fill="#3fe022"/>
<path d="M463.4,174.91L465.1,177.97L461.7,177.97Z" fill="#3fe022"/>
<path d="M466.96,172L468.66,175.06L465.26,175.06Z" fill="#3fe022"/>
<path d="M470.52,169.2L472.22,172.26L468.82,172.26Z" fill="#3fe022"/>
<path d="M474.08,166.77L475.78,169.83L472.38,169.83Z" fill="#3fe022"/>
<path d="M477.64,164.36L479.34,167.42L475.94,167.42Z" fill="#3fe022"/>
<path d="M481.2,161.77L482.9,164.83L479.5,164.83Z" fill="#3fe022"/>
<path d="M484.76,159.7L486.46,162.76L483.06,162.76Z" fill="#3fe022"/>
<path d="M488.32,157.62L490.02,160.68L486.62,160.68Z" fill="#3fe022"/>
<path d="M491.88,155.91L493.58,158.97L490.18,158.97Z" fill="#3fe022"/>
<path d="M495.44,153.98L497.14,157.04L493.74,157.04Z" fill="#3fe022"/>
<path d="M499,152.27L500.7,155.33L497.3,155.33Z" fill="#3fe022"/>
<path d="M502.56,150.15L504.26,153.21L500.86,153.21Z" fill="#3fe022"/>
<path d="M506.12,148.43L507.82,151.49L504.42,151.49Z" fill="#3fe022"/>
<path d="M509.68,146.78L511.38,149.84L507.98,149.84Z" fill="#3fe022"/>
<path d="M513.24,145.31L514.94,148.37L511.54,148.37Z" fill="#3fe022"/>
<path d="M516.8,143.87L518.5,146.93L515.1,146.93Z" fill="#3fe022"/>
<path d="M520.36,142.61L522.06,145.67L518.66,145.67Z" fill="#3fe022"/>
<path d="M523.92,141.03L525.62,144.09L522.22,144.09Z" fill="#3fe022"/>
<path d="M527.48,139.65L529.18,142.71L525.78,142.71Z" fill="#3fe022"/>
<path d="M531.04,138.67L532.74,141.73L529.34,141.73Z" fill="#3fe022"/>
<path d="M534.6,137.06L536.3,140.12L532.9,140.12Z" fill="#3fe022"/>
<path d="M538.16,136.28L539.86,139.34L536.46,139.34Z" fill="#3fe022"/>
<path d="M541.72,135.07L543.42,138.13L540.02,138.13Z" fill="#3fe022"/>
<path d="M545.28,133.4L546.98,136.46L543.58,136.46Z" fill="#3fe022"/>
<path d="M548.84,133.13L550.54,136.19L547.14,136.19Z" fill="#3fe022"/>
<path d="M552.4,131.92L554.1,134.98L550.7,134.98Z" fill="#3fe022"/>
<path d="M555.96,130.8L557.66,133.86L554.26,133.86Z" fill="#3fe022"/>
<path d="M559.52,130.32L561.22,133.38L557.82,133.38Z" fill="#3fe022"/>
<path d="M563.08,129.04L564.78,132.1L561.38,132.1Z" fill="#3fe022"/>
<path d="M566.64,128.38L568.34,131.44L564.94,131.44Z" fill="#3fe022"/>
<path d="M570.2,127.35L571.9,130.41L568.5,130.41Z" fill="#3fe022"/>
<path d="M573.76,126.14L575.46,129.2L572.06,129.2Z" fill="#3fe022"/>
<path d="M577.32,124.95L579.02,128.01L575.62,128.01Z" fill="#3fe022"/>
<path d="M580.88,124.22L582.58,127.28L579.18,127.28Z" fill="#3fe022"/>
<path d="M584.44,123.46L586.14,126.52L582.74,126.52Z" fill="#3fe022"/>
<path d="M588,123.26L589.7,126.32L586.3,126.32Z" fill="#3fe022"/>
<path d="M591.56,122.34L593.26,125.4L589.86,125.4Z" fill="#3fe022"/>
<path d="M595.12,121.58L596.82,124.64L593.42,124.64Z" fill="#3fe022"/>
<path d="M598.68,121.21L600.38,124.27L596.98,124.27Z" fill="#3fe022"/>
<path d="M602.24,119.62L603.94,122.68L600.54,122.68Z" fill="#3fe022"/>
<path d="M605.8,120.07L607.5,123.13L604.1,123.13Z" fill="#3fe022"/>
<path d="M609.36,119.41L611.06,122.47L607.66,122.47Z" fill="#3fe022"/>
<path d="M612.92,118.53L614.62,121.59L611.22,121.59Z" fill="#3fe022"/>
<path d="M616.48,118.73L618.18,121.79L614.78,121.79Z" fill="#3fe022"/>
<path d="M620.04,117.35L621.74,120.41L618.34,120.41Z" fill="#3fe022"/>
<path d="M623.6,116.92L625.3,119.98L621.9,119.98Z" fill="#3fe022"/>
<polyline points="417.12,239.65 420.68,231.4 424.24,223.84 427.8,216.96 431.36,210.69 434.92,204.77 438.48,199.62 442.04,194.49 445.6,190.01 449.16,185.81 452.72,181.76 456.28,177.96 459.84,174.41 463.4,170.86 466.96,167.84 470.52,164.99 474.08,162.14 477.64,159.09 481.2,156.63 484.76,154.89 488.32,151.98 491.88,149.87 495.44,147.77 499,145.42 502.56,143.71 506.12,141.66 509.68,140.33 513.24,138.63 516.8,136.86 520.36,134.67 523.92,133.43 527.48,132.6 531.04,130.37 534.6,129.06 538.16,127.73 541.72,126.85 545.28,125.81 548.84,124.33 552.4,123.15 555.96,122.62 559.52,121.22 563.08,120.4 566.64,119.53 570.2,118.62 573.76,117.39 577.32,116.75 580.88,116.23 584.44,115.04 588,114.78 591.56,113.7 595.12,113.44 598.68,111.95 602.24,111.74 605.8,110.87 609.36,110.92 612.92,110.41 616.48,109.3 620.04,109.39 623.6,108.09" fill="none" stroke="#c628f5" stroke-width="1.6" stroke-linejoin="round" stroke-linecap="round"/>
<path d="M417.12,237.95L418.82,241.01L415.42,241.01Z" fill="#c628f5"/>
<path d="M420.68,229.7L422.38,232.76L418.98,232.76Z" fill="#c628f5"/>
<path d="M424.24,222.14L425.94,225.2L422.54,225.2Z" fill="#c628f5"/>
<path d="M427.8,215.26L429.5,218.32L426.1,218.32Z" fill="#c628f5"/>
<path d="M431.36,208.99L433.06,212.05L429.66,212.05Z" fill="#c628f5"/>
<path d="M434.92,203.07L436.62,206.13L433.22,206.13Z" fill="#c628f5"/>
<path d="M438.48,197.92L440.18,200.98L436.78,200.98Z" fill="#c628f5"/>
<path d="M442.04,192.79L443.74,195.85L440.34,195.85Z" fill="#c628f5"/>
<path d="M445.6,188.31L447.3,191.37L443.9,191.37Z" fill="#c628f5"/>
<path d="M449.16,184.11L450.86,187.17L447.46,187.17Z" fill="#c628f5"/>
<path d="M452.72,180.06L454.42,183.12L451.02,183.12Z" fill="#c628f5"/>
<path d="M456.28,176.26L457.98,179.32L454.58,179.32Z" fill="#c628f5"/>
<path d="M459.84,172.71L461.54,175.77L458.14,175.77Z" fill="#c628f5"/>
<path d="M463.4,169.16L465.1,172.22L461.7,172.22Z" fill="#c628f5"/>
<path d="M466.96,166.14L468.66,169.2L465.26,169.2Z" fill="#c628f5"/>
<path d="M470.52,163.29L472.22,166.35L468.82,166.35Z" fill="#c628f5"/>
<path d="M474.08,160.44L475.78,163.5L472.38,163.5Z" fill="#c628f5"/>
<path d="M477.64,157.39L479.34,160.45L475.94,160.45Z" fill="#c628f5"/>
<path d="M481.2,154.93L482.9,157.99L479.5,157.99Z" fill="#c628f5"/>
<path d="M484.76,153.19L486.46,156.25L483.06,156.25Z" fill="#c628f5"/>
<path d="M488.32,150.28L490.02,153.34L486.62,153.34Z" fill="#c628f5"/>
<path d="M491.88,148.17L493.58,151.23L490.18,151.23Z" fill="#c628f5"/>
<path d="M495.44,146.07L497.14,149.13L493.74,149.13Z" fill="#c628f5"/>
<path d="M499,143.72L500.7,146.78L497.3,146.78Z" fill="#c628f5"/>
<path d="M502.56,142.01L504.26,145.07L500.86,145.07Z" fill="#c628f5"/>
<path d="M506.12,139.96L507.82,143.02L504.42,143.02Z" fill="#c628f5"/>
<path d="M509.68,138.63L511.38,141.69L507.98,141.69Z" fill="#c628f5"/>
<path d="M513.24,136.93L514.94,139.99L511.54,139.99Z" fill="#c628f5"/>
<path d="M516.8,135.16L518.5,138.22L515.1,138.22Z" fill="#c628f5"/>
<path d="M520.36,132.97L522.06,136.03L518.66,136.03Z" fill="#c628f5"/>
<path d="M523.92,131.73L525.62,134.79L522.22,134.79Z" fill="#c628f5"/>
<path d="M527.48,130.9L529.18,133.96L525.78,133.96Z" fill="#c628f5"/>
<path d="M531.04,128.67L532.74,131.73L529.34,131.73Z" fill="#c628f5"/>
<path d="M534.6,127.36L536.3,130.42L532.9,130.42Z" fill="#c628f5"/>
<path d="M538.16,126.03L539.86,129.09L536.46,129.09Z" fill="#c628f5"/>
<path d="M541.72,125.15L543.42,128.21L540.02,128.21Z" fill="#c628f5"/>
<path d="M545.28,124.11L546.98,127.17L543.58,127.17Z" fill="#c628f5"/>
<path d="M548.84,122.63L550.54,125.69L547.14,125.69Z" fill="#c628f5"/>
<path d="M552.4,121.45L554.1,124.51L550.7,124.51Z" fill="#c628f5"/>
<path d="M555.96,120.92L557.66,123.98L554.26,123.98Z" fill="#c628f5"/>
<path d="M559.52,119.52L561.22,122.58L557.82,122.58Z" fill="#c628f5"/>
<path d="M563.08,118.7L564.78,121.76L561.38,121.76Z" fill="#c628f5"/>
<path d="M566.64,117.83L568.34,120.89L564.94,120.89Z" fill="#c628f5"/>
<path d="M570.2,116.92L571.9,119.98L568.5,119.98Z" fill="#c628f5"/>
<path d="M573.76,115.69L575.46,118.75L572.06,118.75Z" fill="#c628f5"/>
<path d="M577.32,115.05L579.02,118.11L575.62,118.11Z" fill="#c628f5"/>
<path d="M580.88,114.53L582.58,117.59L579.18,117.59Z" fill="#c628f5"/>
<path d="M584.44,113.34L586.14,116.4L582.74,116.4Z" fill="#c628f5"/>
<path d="M588,113.08L589.7,116.14L586.3,116.14Z" fill="#c628f5"/>
<path d="M591.56,112L593.26,115.06L589.86,115.06Z" fill="#c628f5"/>
<path d="M595.12,111.74L596.82,114.8L593.42,114.8Z" fill="#c628f5"/>
<path d="M598.68,110.25L600.38,113.31L596.98,113.31Z" fill="#c628f5"/>
<path d="M602.24,110.04L603.94,113.1L600.54,113.1Z" fill="#c628f5"/>
<path d="M605.8,109.17L607.5,112.23L604.1,112.23Z" fill="#c628f5"/>
<path d="M609.36,109.22L611.06,112.28L607.66,112.28Z" fill="#c628f5"/>
<path d="M612.92,108.71L614.62,111.77L611.22,111.77Z" fill="#c628f5"/>
<path d="M616.48,107.6L618.18,110.66L614.78,110.66Z" fill="#c628f5"/>
<path d="M620.04,107.69L621.74,110.75L618.34,110.75Z" fill="#c628f5"/>
<path d="M623.6,106.39L625.3,109.45L621.9,109.45Z" fill="#c628f5"/>
<polyline points="417.12,239.64 420.68,231.26 424.24,223.72 427.8,216.81 431.36,210.63 434.92,204.88 438.48,199.31 442.04,194.24 445.6,189.44 449.16,185.03 452.72,181.09 456.28,177.14 459.84,173.57 463.4,169.95 466.96,166.93 470.52,163.63 474.08,161.11 477.64,157.74 481.2,155.05 484.76,152.69 488.32,149.94 491.88,147.38 495.44,145.45 499,142.91 502.56,140.76 506.12,138.74 509.68,136.5 513.24,135.39 516.8,133.5 520.36,131.63 523.92,130.13 527.48,127.65 531.04,126.47 534.6,124.72 538.16,122.54 541.72,121.62 545.28,120.18 548.84,119.49 552.4,117.9 555.96,116.43 559.52,114.61 563.08,113.77 566.64,113.25 570.2,111.78 573.76,110.92 577.32,109.58 580.88,109.15 584.44,107.7 588,107.08 591.56,105.9 595.12,104.91 598.68,104.53 602.24,103.46 605.8,102.4 609.36,102.35 612.92,101.12 616.48,100.17 620.04,100.03 623.6,99.85" fill="none" stroke="#2222ff" stroke-width="2.0" stroke-linejoin="round" stroke-linecap="round"/>
<circle cx="417.12" cy="239.64" r="1.8" fill="#2222ff"/>
<circle cx="420.68" cy="231.26" r="1.8" fill="#2222ff"/>
<circle cx="424.24" cy="223.72" r="1.8" fill="#2222ff"/>
<circle cx="427.8" cy="216.81" r="1.8" fill="#2222ff"/>
<circle cx="431.36" cy="210.63" r="1.8" fill="#2222ff"/>
<circle cx="434.92" cy="204.88" r="1.8" fill="#2222ff"/>
<circle cx="438.48" cy="199.31" r="1.8" fill="#2222ff"/>
<circle cx="442.04" cy="194.24" r="1.8" fill="#2222ff"/>
<circle cx="445.6" cy="189.44" r="1.8" fill="#2222ff"/>
<circle cx="449.16" cy="185.03" r="1.8" fill="#2222ff"/>
<circle cx="452.72" cy="181.09" r="1.8" fill="#2222ff"/>
<circle cx="456.28" cy="177.14" r="1.8" fill="#2222ff"/>
<circle cx="459.84" cy="173.57" r="1.8" fill="#2222ff"/>
<circle cx="463.4" cy="169.95" r="1.8" fill="#2222ff"/>
<circle cx="466.96" cy="166.93" r="1.8" fill="#2222ff"/>
<circle cx="470.52" cy="163.63" r="1.8" fill="#2222ff"/>
<circle cx="474.08" cy="161.11" r="1.8" fill="#2222ff"/>
<circle cx="477.64" cy="157.74" r="1.8" fill="#2222ff"/>
<circle cx="481.2" cy="155.05" r="1.8" fill="#2222ff"/>
<circle cx="484.76" cy="152.69" r="1.8" fill="#2222ff"/>
<circle cx="488.32" cy="149.94" r="1.8" fill="#2222ff"/>
<circle cx="491.88" cy="147.38" r="1.8" fill="#2222ff"/>
<circle cx="495.44" cy="145.45" r="1.8" fill="#2222ff"/>
<circle cx="499" cy="142.91" r="1.8" fill="#2222ff"/>
<circle cx="502.56" cy="140.76" r="1.8" fill="#2222ff"/>
<circle cx="506.12" cy="138.74" r="1.8" fill="#2222ff"/>
<circle cx="509.68" cy="136.5" r="1.8" fill="#2222ff"/>
<circle cx="513.24" cy="135.39" r="1.8" fill="#2222ff"/>
<circle cx="516.8" cy="133.5" r="1.8" fill="#2222ff"/>
<circle cx="520.36" cy="131.63" r="1.8" fill="#2222ff"/>
<circle cx="523.92" cy="130.13" r="1.8" fill="#2222ff"/>
<circle cx="527.48" cy="127.65" r="1.8" fill="#2222ff"/>
<circle cx="531.04" cy="126.47" r="1.8" fill="#2222ff"/>
<circle cx="534.6" cy="124.72" r="1.8" fill="#2222ff"/>
<circle cx="538.16" cy="122.54" r="1.8" fill="#2222ff"/>
<circle cx="541.72" cy="121.62" r="1.8" fill="#2222ff"/>
<circle cx="545.28" cy="120.18" r="1.8" fill="#2222ff"/>
<circle cx="548.84" cy="119.49" r="1.8" fill="#2222ff"/>
<circle cx="552.4" cy="117.9" r="1.8" fill="#2222ff"/>
<circle cx="555.96" cy="116.43" r="1.8" fill="#2222ff"/>
<circle cx="559.52" cy="114.61" r="1.8" fill="#2222ff"/>
<circle cx="563.08" cy="113.77" r="1.8" fill="#2222ff"/>
<circle cx="566.64" cy="113.25" r="1.8" fill="#2222ff"/>
<circle cx="570.2" cy="111.78" r="1.8" fill="#2222ff"/>
<circle cx="573.76" cy="110.92" r="1.8" fill="#2222ff"/>
<circle cx="577.32" cy="109.58" r="1.8" fill="#2222ff"/>
<circle cx="580.88" cy="109.15" r="1.8" fill="#2222ff"/>
<circle cx="584.44" cy="107.7" r="1.8" fill="#2222ff"/>
<circle cx="588" cy="107.08" r="1.8" fill="#2222ff"/>
<circle cx="591.56" cy="105.9" r="1.8" fill="#2222ff"/>
<circle cx="595.12" cy="104.91" r="1.8" fill="#2222ff"/>
<circle cx="598.68" cy="104.53" r="1.8" fill="#2222ff"/>
<circle cx="602.24" cy="103.46" r="1.8" fill="#2222ff"/>
<circle cx="605.8" cy="102.4" r="1.8" fill="#2222ff"/>
<circle cx="609.36" cy="102.35" r="1.8" fill="#2222ff"/>
<circle cx="612.92" cy="101.12" r="1.8" fill="#2222ff"/>
<circle cx="616.48" cy="100.17" r="1.8" fill="#2222ff"/>
<circle cx="620.04" cy="100.03" r="1.8" fill="#2222ff"/>
<circle cx="623.6" cy="99.85" r="1.8" fill="#2222ff"/>
<path d="M422,51.3H437" stroke="#2222ff" stroke-width="1.8"/>
<circle cx="429.5" cy="51.3" r="1.8" fill="#2222ff"/>
<text x="446" y="54.9" font-size="10" text-anchor="start" >Control</text>
<path d="M422,70.1H437" stroke="#c628f5" stroke-width="1.8"/>
<path d="M429.5,68.4L431.2,71.46L427.8,71.46Z" fill="#c628f5"/>
<text x="446" y="73.7" font-size="10" text-anchor="start" >ILE 1</text>
<path d="M422,89.1H437" stroke="#f2772a" stroke-width="1.5"/>
<path d="M429.5,87.5V90.7" stroke="#f2772a" stroke-width="1"/>
<text x="446" y="92.7" font-size="10" text-anchor="start" >ILE 0.1</text>
<path d="M422,108.6H437" stroke="#3fe022" stroke-width="1.8"/>
<path d="M429.5,106.9L431.2,109.96L427.8,109.96Z" fill="#3fe022"/>
<text x="446" y="112.2" font-size="10" text-anchor="start" >ILE 10</text>
<path d="M422,127H437" stroke="#ff2424" stroke-width="1.8"/>
<rect x="427.75" y="125.25" width="3.5" height="3.5" fill="#ff2424"/>
<text x="446" y="130.6" font-size="10" text-anchor="start" >ILE 20</text>
<path d="M627.4,100.2H631.8V117.2H627.4" fill="none" stroke="#000" stroke-width="1.4"/>
<text x="638.8" y="105.7" font-size="10" text-anchor="middle" >n</text>
<text x="638.8" y="118.8" font-size="10" text-anchor="middle" >s</text>
<path d="M641.8,97.2H647.3V141.2H641.8" fill="none" stroke="#000" stroke-width="1.4"/>
<text x="654.6" y="114.71" font-size="13" text-anchor="middle" >*</text>
<text x="654.6" y="126.01" font-size="13" text-anchor="middle" >*</text>
<text x="654.6" y="136.21" font-size="13" text-anchor="middle" >*</text>
<text x="0" y="352.7" font-size="30" text-anchor="start" >c</text>
<text x="171.4" y="369.2" font-size="16.3" text-anchor="middle">ClpC1<tspan font-size="12" dy="-7">F80L</tspan><tspan dy="7">P1P2</tspan></text>
<text transform="translate(13.1,489) rotate(-90)" x="0" y="0" font-size="14" text-anchor="middle" textLength="194.77" lengthAdjust="spacingAndGlyphs">D-value of fluorescence intensity</text>
<path d="M63.9,388.72V589.6H279.3" fill="none" stroke="#000" stroke-width="1.5"/>
<path d="M57.9,589.6H63.9" stroke="#000" stroke-width="1.5"/>
<text x="55.6" y="593.74" font-size="12" text-anchor="end" >0</text>
<path d="M57.9,556.12H63.9" stroke="#000" stroke-width="1.5"/>
<text x="55.6" y="560.26" font-size="12" text-anchor="end" >100000</text>
<path d="M57.9,522.64H63.9" stroke="#000" stroke-width="1.5"/>
<text x="55.6" y="526.78" font-size="12" text-anchor="end" >200000</text>
<path d="M57.9,489.16H63.9" stroke="#000" stroke-width="1.5"/>
<text x="55.6" y="493.3" font-size="12" text-anchor="end" >300000</text>
<path d="M57.9,455.68H63.9" stroke="#000" stroke-width="1.5"/>
<text x="55.6" y="459.82" font-size="12" text-anchor="end" >400000</text>
<path d="M57.9,422.2H63.9" stroke="#000" stroke-width="1.5"/>
<text x="55.6" y="426.34" font-size="12" text-anchor="end" >500000</text>
<path d="M57.9,388.72H63.9" stroke="#000" stroke-width="1.5"/>
<text x="55.6" y="392.86" font-size="12" text-anchor="end" >600000</text>
<path d="M63.9,589.6V595.6" stroke="#000" stroke-width="1.5"/>
<text x="63.9" y="608.9" font-size="12" text-anchor="middle" >0</text>
<path d="M99.8,589.6V595.6" stroke="#000" stroke-width="1.5"/>
<text x="99.8" y="608.9" font-size="12" text-anchor="middle" >10</text>
<path d="M135.7,589.6V595.6" stroke="#000" stroke-width="1.5"/>
<text x="135.7" y="608.9" font-size="12" text-anchor="middle" >20</text>
<path d="M171.6,589.6V595.6" stroke="#000" stroke-width="1.5"/>
<text x="171.6" y="608.9" font-size="12" text-anchor="middle" >30</text>
<path d="M207.5,589.6V595.6" stroke="#000" stroke-width="1.5"/>
<text x="207.5" y="608.9" font-size="12" text-anchor="middle" >40</text>
<path d="M243.4,589.6V595.6" stroke="#000" stroke-width="1.5"/>
<text x="243.4" y="608.9" font-size="12" text-anchor="middle" >50</text>
<path d="M279.3,589.6V595.6" stroke="#000" stroke-width="1.5"/>
<text x="279.3" y="608.9" font-size="12" text-anchor="middle" >60</text>
<text x="171.6" y="628.6" font-size="14" text-anchor="middle" >Time (min)</text>
<path d="M71.08,578.97V580.71M69.58,578.97h3M69.58,580.71h3M74.67,569.58V571.91M73.17,569.58h3M73.17,571.91h3M78.26,560.97V563.83M76.76,560.97h3M76.76,563.83h3M81.85,552.88V556.1M80.35,552.88h3M80.35,556.1h3M85.44,545.5V549.26M83.94,545.5h3M83.94,549.26h3M89.03,538.97V542.76M87.53,538.97h3M87.53,542.76h3M92.62,532.88V536.79M91.12,532.88h3M91.12,536.79h3M96.21,526.98V531.02M94.71,526.98h3M94.71,531.02h3M99.8,521.63V525.93M98.3,521.63h3M98.3,525.93h3M103.39,516.6V520.77M101.89,516.6h3M101.89,520.77h3M106.98,512.13V516.46M105.48,512.13h3M105.48,516.46h3M110.57,507.63V512.55M109.07,507.63h3M109.07,512.55h3M114.16,503.85V508.47M112.66,503.85h3M112.66,508.47h3M117.75,499.73V504.87M116.25,499.73h3M116.25,504.87h3M121.34,496.06V501.25M119.84,496.06h3M119.84,501.25h3M124.93,493.16V498.19M123.43,493.16h3M123.43,498.19h3M128.52,490.14V495M127.02,490.14h3M127.02,495h3M132.11,487.34V492.19M130.61,487.34h3M130.61,492.19h3M135.7,484.4V490.17M134.2,484.4h3M134.2,490.17h3M139.29,481.91V487.32M137.79,481.91h3M137.79,487.32h3M142.88,479.74V485.01M141.38,479.74h3M141.38,485.01h3M146.47,476.47V482.39M144.97,476.47h3M144.97,482.39h3M150.06,475.31V480.78M148.56,475.31h3M148.56,480.78h3M153.65,472.25V477.97M152.15,472.25h3M152.15,477.97h3M157.24,471.36V477.02M155.74,471.36h3M155.74,477.02h3M160.83,469.45V474.7M159.33,469.45h3M159.33,474.7h3M164.42,467.33V473.85M162.92,467.33h3M162.92,473.85h3M168.01,465.8V471.62M166.51,465.8h3M166.51,471.62h3M171.6,463.79V470.03M170.1,463.79h3M170.1,470.03h3M175.19,461.1V467.28M173.69,461.1h3M173.69,467.28h3M178.78,458.18V464.56M177.28,458.18h3M177.28,464.56h3M182.37,458.68V464.53M180.87,458.68h3M180.87,464.53h3M185.96,458.06V463.62M184.46,458.06h3M184.46,463.62h3M189.55,455.78V461.65M188.05,455.78h3M188.05,461.65h3M193.14,454.72V461.41M191.64,454.72h3M191.64,461.41h3M196.73,454.03V460.12M195.23,454.03h3M195.23,460.12h3M200.32,452.35V458.28M198.82,452.35h3M198.82,458.28h3M203.91,450.72V457.14M202.41,450.72h3M202.41,457.14h3M207.5,449.17V456.01M206,449.17h3M206,456.01h3M211.09,449V455.29M209.59,449h3M209.59,455.29h3M214.68,447.89V454.01M213.18,447.89h3M213.18,454.01h3M218.27,446.01V452.5M216.77,446.01h3M216.77,452.5h3M221.86,445.03V450.83M220.36,445.03h3M220.36,450.83h3M225.45,444.22V450.76M223.95,444.22h3M223.95,450.76h3M229.04,443.24V449.93M227.54,443.24h3M227.54,449.93h3M232.63,442.4V448.31M231.13,442.4h3M231.13,448.31h3M236.22,441.32V447.89M234.72,441.32h3M234.72,447.89h3M239.81,439.85V445.95M238.31,439.85h3M238.31,445.95h3M243.4,439.04V445.2M241.9,439.04h3M241.9,445.2h3M246.99,437.97V444.69M245.49,437.97h3M245.49,444.69h3M250.58,436.97V443.76M249.08,436.97h3M249.08,443.76h3M254.17,435.14V442.22M252.67,435.14h3M252.67,442.22h3M257.76,435.06V441.94M256.26,435.06h3M256.26,441.94h3M261.35,433.16V440.43M259.85,433.16h3M259.85,440.43h3M264.94,433.25V439.99M263.44,433.25h3M263.44,439.99h3M268.53,431.68V438.37M267.03,431.68h3M267.03,438.37h3M272.12,431.15V437.99M270.62,431.15h3M270.62,437.99h3M275.71,430.59V437.35M274.21,430.59h3M274.21,437.35h3M279.3,429.06V435.66M277.8,429.06h3M277.8,435.66h3" stroke="#cf78f5" stroke-opacity="0.5" stroke-width="0.8" fill="none"/>
<path d="M71.08,570.78V585.57M69.58,570.78h3M69.58,585.57h3M74.67,560.66V578.2M73.17,560.66h3M73.17,578.2h3M78.26,551.52V571.24M76.76,551.52h3M76.76,571.24h3M81.85,544.4V563.3M80.35,544.4h3M80.35,563.3h3M85.44,535.57V557.96M83.94,535.57h3M83.94,557.96h3M89.03,529.32V551.64M87.53,529.32h3M87.53,551.64h3M92.62,524.02V544.71M91.12,524.02h3M91.12,544.71h3M96.21,516.19V540.55M94.71,516.19h3M94.71,540.55h3M99.8,511.02V535.39M98.3,511.02h3M98.3,535.39h3M103.39,505.61V530.73M101.89,505.61h3M101.89,530.73h3M106.98,502.16V525.02M105.48,502.16h3M105.48,525.02h3M110.57,495.8V522.41M109.07,495.8h3M109.07,522.41h3M114.16,491.86V518.7M112.66,491.86h3M112.66,518.7h3M117.75,486.75V515.47M116.25,486.75h3M116.25,515.47h3M121.34,483.86V511.43M119.84,483.86h3M119.84,511.43h3M124.93,480.95V507.42M123.43,480.95h3M123.43,507.42h3M128.52,476.34V504.99M127.02,476.34h3M127.02,504.99h3M132.11,473.88V501.73M130.61,473.88h3M130.61,501.73h3M135.7,469.35V500.48M134.2,469.35h3M134.2,500.48h3M139.29,467.53V496.47M137.79,467.53h3M137.79,496.47h3M142.88,466.04V493.61M141.38,466.04h3M141.38,493.61h3M146.47,461.71V491.95M144.97,461.71h3M144.97,491.95h3M150.06,460.27V488.55M148.56,460.27h3M148.56,488.55h3M153.65,458.57V486.63M152.15,458.57h3M152.15,486.63h3M157.24,456.92V484.14M155.74,456.92h3M155.74,484.14h3M160.83,453.25V483.58M159.33,453.25h3M159.33,483.58h3M164.42,451.69V481.05M162.92,451.69h3M162.92,481.05h3M168.01,450.86V478.86M166.51,450.86h3M166.51,478.86h3M171.6,449.06V476.87M170.1,449.06h3M170.1,476.87h3M175.19,445.2V474.65M173.69,445.2h3M173.69,474.65h3M178.78,443.06V471.21M177.28,443.06h3M177.28,471.21h3M182.37,439.71V474.57M180.87,439.71h3M180.87,474.57h3M185.96,441.51V471.97M184.46,441.51h3M184.46,471.97h3M189.55,440.16V470M188.05,440.16h3M188.05,470h3M193.14,436.53V470.85M191.64,436.53h3M191.64,470.85h3M196.73,435.89V467.94M195.23,435.89h3M195.23,467.94h3M200.32,436.25V464.15M198.82,436.25h3M198.82,464.15h3M203.91,435.64V463.81M202.41,435.64h3M202.41,463.81h3M207.5,431.53V464.2M206,431.53h3M206,464.2h3M211.09,430.76V462.59M209.59,430.76h3M209.59,462.59h3M214.68,430.02V460.2M213.18,430.02h3M213.18,460.2h3M218.27,426.14V460.56M216.77,426.14h3M216.77,460.56h3M221.86,423.87V457.37M220.36,423.87h3M220.36,457.37h3M225.45,425.08V458M223.95,425.08h3M223.95,458h3M229.04,427.11V454.76M227.54,427.11h3M227.54,454.76h3M232.63,422.54V456.28M231.13,422.54h3M231.13,456.28h3M236.22,424.79V452.46M234.72,424.79h3M234.72,452.46h3M239.81,421.15V452.8M238.31,421.15h3M238.31,452.8h3M243.4,419.98V453.87M241.9,419.98h3M241.9,453.87h3M246.99,420.17V450.53M245.49,420.17h3M245.49,450.53h3M250.58,419.48V449.17M249.08,419.48h3M249.08,449.17h3M254.17,418.91V448.07M252.67,418.91h3M252.67,448.07h3M257.76,416.14V449.3M256.26,416.14h3M256.26,449.3h3M261.35,413.7V448.85M259.85,413.7h3M259.85,448.85h3M264.94,413.33V445.51M263.44,413.33h3M263.44,445.51h3M268.53,414.95V442.41M267.03,414.95h3M267.03,442.41h3M272.12,412.75V444.27M270.62,412.75h3M270.62,444.27h3M275.71,410.46V443.98M274.21,410.46h3M274.21,443.98h3M279.3,410.28V442.3M277.8,410.28h3M277.8,442.3h3" stroke="#8080ff" stroke-opacity="0.7" stroke-width="0.8" fill="none"/>
<path d="M71.08,578.84V580.54M69.58,578.84h3M69.58,580.54h3M74.67,569.71V572.04M73.17,569.71h3M73.17,572.04h3M78.26,561.29V564.14M76.76,561.29h3M76.76,564.14h3M81.85,553.64V556.52M80.35,553.64h3M80.35,556.52h3M85.44,545.93V549.49M83.94,545.93h3M83.94,549.49h3M89.03,539.59V543.25M87.53,539.59h3M87.53,543.25h3M92.62,533.17V536.65M91.12,533.17h3M91.12,536.65h3M96.21,527.33V531.5M94.71,527.33h3M94.71,531.5h3M99.8,522.37V526.6M98.3,522.37h3M98.3,526.6h3M103.39,516.69V521.14M101.89,516.69h3M101.89,521.14h3M106.98,512.19V516.29M105.48,512.19h3M105.48,516.29h3M110.57,507.6V512.43M109.07,507.6h3M109.07,512.43h3M114.16,503.14V508.08M112.66,503.14h3M112.66,508.08h3M117.75,499.1V504.42M116.25,499.1h3M116.25,504.42h3M121.34,496.04V501.18M119.84,496.04h3M119.84,501.18h3M124.93,492.25V497.23M123.43,492.25h3M123.43,497.23h3M128.52,489.57V494.98M127.02,489.57h3M127.02,494.98h3M132.11,485.76V491.07M130.61,485.76h3M130.61,491.07h3M135.7,482.19V488.17M134.2,482.19h3M134.2,488.17h3M139.29,480.01V485.58M137.79,480.01h3M137.79,485.58h3M142.88,477.68V483.02M141.38,477.68h3M141.38,483.02h3M146.47,475.35V481.21M144.97,475.35h3M144.97,481.21h3M150.06,472.6V478.12M148.56,472.6h3M148.56,478.12h3M153.65,470.35V475.85M152.15,470.35h3M152.15,475.85h3M157.24,467.91V473.28M155.74,467.91h3M155.74,473.28h3M160.83,465.91V471.9M159.33,465.91h3M159.33,471.9h3M164.42,463.84V469.66M162.92,463.84h3M162.92,469.66h3M168.01,462.51V468.08M166.51,462.51h3M166.51,468.08h3M171.6,460.69V466.24M170.1,460.69h3M170.1,466.24h3M175.19,457.87V463.76M173.69,457.87h3M173.69,463.76h3M178.78,455.43V461.08M177.28,455.43h3M177.28,461.08h3M182.37,454.22V461.23M180.87,454.22h3M180.87,461.23h3M185.96,453.98V460.12M184.46,453.98h3M184.46,460.12h3M189.55,452.74V458.76M188.05,452.74h3M188.05,458.76h3M193.14,450.95V457.89M191.64,450.95h3M191.64,457.89h3M196.73,449.51V455.99M195.23,449.51h3M195.23,455.99h3M200.32,448.28V453.95M198.82,448.28h3M198.82,453.95h3M203.91,447.61V453.33M202.41,447.61h3M202.41,453.33h3M207.5,445.85V452.49M206,445.85h3M206,452.49h3M211.09,445.14V451.62M209.59,445.14h3M209.59,451.62h3M214.68,444.09V450.24M213.18,444.09h3M213.18,450.24h3M218.27,441.8V448.83M216.77,441.8h3M216.77,448.83h3M221.86,439.29V446.15M220.36,439.29h3M220.36,446.15h3M225.45,439.99V446.74M223.95,439.99h3M223.95,446.74h3M229.04,439.08V444.77M227.54,439.08h3M227.54,444.77h3M232.63,437.28V444.22M231.13,437.28h3M231.13,444.22h3M236.22,437.32V443.02M234.72,437.32h3M234.72,443.02h3M239.81,435.48V442.01M238.31,435.48h3M238.31,442.01h3M243.4,434.4V441.41M241.9,434.4h3M241.9,441.41h3M246.99,433.93V440.2M245.49,433.93h3M245.49,440.2h3M250.58,432.84V438.99M249.08,432.84h3M249.08,438.99h3M254.17,431.39V437.45M252.67,431.39h3M252.67,437.45h3M257.76,430.53V437.41M256.26,430.53h3M256.26,437.41h3M261.35,429.71V437M259.85,429.71h3M259.85,437h3M264.94,429.23V435.9M263.44,429.23h3M263.44,435.9h3M268.53,428.54V434.24M267.03,428.54h3M267.03,434.24h3M272.12,426.95V433.53M270.62,426.95h3M270.62,433.53h3M275.71,426.42V433.39M274.21,426.42h3M274.21,433.39h3M279.3,425.81V432.48M277.8,425.81h3M277.8,432.48h3" stroke="#e8782e" stroke-opacity="0.8" stroke-width="0.8" fill="none"/>
<path d="M71.08,575.76V583.73M69.58,575.76h3M69.58,583.73h3M74.67,565.45V576.68M73.17,565.45h3M73.17,576.68h3M78.26,556.73V569M76.76,556.73h3M76.76,569h3M81.85,548.98V562.19M80.35,548.98h3M80.35,562.19h3M85.44,541.03V555.92M83.94,541.03h3M83.94,555.92h3M89.03,533.94V550.97M87.53,533.94h3M87.53,550.97h3M92.62,528.59V544.79M91.12,528.59h3M91.12,544.79h3M96.21,522.8V539.16M94.71,522.8h3M94.71,539.16h3M99.8,516.66V535.53M98.3,516.66h3M98.3,535.53h3M103.39,513.51V529.74M101.89,513.51h3M101.89,529.74h3M106.98,508V526.28M105.48,508h3M105.48,526.28h3M110.57,502.82V523.17M109.07,502.82h3M109.07,523.17h3M114.16,500.16V519.16M112.66,500.16h3M112.66,519.16h3M117.75,496.09V516.24M116.25,496.09h3M116.25,516.24h3M121.34,493.52V512.29M119.84,493.52h3M119.84,512.29h3M124.93,489.53V509.11M123.43,489.53h3M123.43,509.11h3M128.52,486.89V507.1M127.02,486.89h3M127.02,507.1h3M132.11,484.47V504.51M130.61,484.47h3M130.61,504.51h3M135.7,481.91V501.24M134.2,481.91h3M134.2,501.24h3M139.29,478.3V500.47M137.79,478.3h3M137.79,500.47h3M142.88,476.53V498.96M141.38,476.53h3M141.38,498.96h3M146.47,473.6V497.11M144.97,473.6h3M144.97,497.11h3M150.06,472.35V494.17M148.56,472.35h3M148.56,494.17h3M153.65,470.61V492.39M152.15,470.61h3M152.15,492.39h3M157.24,468.83V489.91M155.74,468.83h3M155.74,489.91h3M160.83,467.66V488.83M159.33,467.66h3M159.33,488.83h3M164.42,465.13V487.36M162.92,465.13h3M162.92,487.36h3M168.01,464.27V485.39M166.51,464.27h3M166.51,485.39h3M171.6,462V484.92M170.1,462h3M170.1,484.92h3M175.19,459.12V482.31M173.69,459.12h3M173.69,482.31h3M178.78,455.5V479M177.28,455.5h3M177.28,479h3M182.37,457.34V479.49M180.87,457.34h3M180.87,479.49h3M185.96,456.44V479.55M184.46,456.44h3M184.46,479.55h3M189.55,455.8V478.66M188.05,455.8h3M188.05,478.66h3M193.14,453.51V478.08M191.64,453.51h3M191.64,478.08h3M196.73,454.61V475.05M195.23,454.61h3M195.23,475.05h3M200.32,451.03V475.54M198.82,451.03h3M198.82,475.54h3M203.91,450.34V474.22M202.41,450.34h3M202.41,474.22h3M207.5,449.57V472.72M206,449.57h3M206,472.72h3M211.09,448.38V471.98M209.59,448.38h3M209.59,471.98h3M214.68,447.56V470.86M213.18,447.56h3M213.18,470.86h3M218.27,446.32V469.98M216.77,446.32h3M216.77,469.98h3M221.86,443.85V467.92M220.36,443.85h3M220.36,467.92h3M225.45,444.24V469.52M223.95,444.24h3M223.95,469.52h3M229.04,442.23V469.74M227.54,442.23h3M227.54,469.74h3M232.63,442.01V467.39M231.13,442.01h3M231.13,467.39h3M236.22,442.98V465.03M234.72,442.98h3M234.72,465.03h3M239.81,441.59V463.77M238.31,441.59h3M238.31,463.77h3M243.4,440.64V463.84M241.9,440.64h3M241.9,463.84h3M246.99,440.73V461.66M245.49,440.73h3M245.49,461.66h3M250.58,438.34V461.84M249.08,438.34h3M249.08,461.84h3M254.17,437.67V460.92M252.67,437.67h3M252.67,460.92h3M257.76,436.9V461.24M256.26,436.9h3M256.26,461.24h3M261.35,435.32V460.27M259.85,435.32h3M259.85,460.27h3M264.94,434.63V459.44M263.44,434.63h3M263.44,459.44h3M268.53,433.89V457.6M267.03,433.89h3M267.03,457.6h3M272.12,433.59V456.75M270.62,433.59h3M270.62,456.75h3M275.71,433.17V456.55M274.21,433.17h3M274.21,456.55h3M279.3,432.51V454.22M277.8,432.51h3M277.8,454.22h3" stroke="#80e870" stroke-opacity="0.6" stroke-width="0.8" fill="none"/>
<path d="M71.08,579.66V581.38M69.58,579.66h3M69.58,581.38h3M74.67,570.65V573.28M73.17,570.65h3M73.17,573.28h3M78.26,562.77V565.74M76.76,562.77h3M76.76,565.74h3M81.85,555.74V559.01M80.35,555.74h3M80.35,559.01h3M85.44,549.4V553.14M83.94,549.4h3M83.94,553.14h3M89.03,543.61V547.93M87.53,543.61h3M87.53,547.93h3M92.62,538.59V542.75M91.12,538.59h3M91.12,542.75h3M96.21,534.17V538.37M94.71,534.17h3M94.71,538.37h3M99.8,529.28V534.17M98.3,529.28h3M98.3,534.17h3M103.39,526.12V530.34M101.89,526.12h3M101.89,530.34h3M106.98,521.94V526.71M105.48,521.94h3M105.48,526.71h3M110.57,518.92V524.22M109.07,518.92h3M109.07,524.22h3M114.16,515.91V520.89M112.66,515.91h3M112.66,520.89h3M117.75,512.77V518.07M116.25,512.77h3M116.25,518.07h3M121.34,510.47V515.41M119.84,510.47h3M119.84,515.41h3M124.93,507.75V512.9M123.43,507.75h3M123.43,512.9h3M128.52,505.3V510.65M127.02,505.3h3M127.02,510.65h3M132.11,502.8V508.13M130.61,502.8h3M130.61,508.13h3M135.7,501.19V506.31M134.2,501.19h3M134.2,506.31h3M139.29,498.63V504.53M137.79,498.63h3M137.79,504.53h3M142.88,496.76V502.76M141.38,496.76h3M141.38,502.76h3M146.47,494.65V500.94M144.97,494.65h3M144.97,500.94h3M150.06,493.19V499.04M148.56,493.19h3M148.56,499.04h3M153.65,491.79V497.63M152.15,491.79h3M152.15,497.63h3M157.24,490.17V495.83M155.74,490.17h3M155.74,495.83h3M160.83,488.9V494.6M159.33,488.9h3M159.33,494.6h3M164.42,487.07V493.06M162.92,487.07h3M162.92,493.06h3M168.01,485.66V491.37M166.51,485.66h3M166.51,491.37h3M171.6,483.92V490.13M170.1,483.92h3M170.1,490.13h3M175.19,481.28V487.58M173.69,481.28h3M173.69,487.58h3M178.78,479.42V485.79M177.28,479.42h3M177.28,485.79h3M182.37,479.9V485.92M180.87,479.9h3M180.87,485.92h3M185.96,479.04V485.34M184.46,479.04h3M184.46,485.34h3M189.55,477.94V484.18M188.05,477.94h3M188.05,484.18h3M193.14,475.77V482.51M191.64,475.77h3M191.64,482.51h3M196.73,475.6V481.21M195.23,475.6h3M195.23,481.21h3M200.32,474.46V481.16M198.82,474.46h3M198.82,481.16h3M203.91,473.47V480.01M202.41,473.47h3M202.41,480.01h3M207.5,471.57V477.94M206,471.57h3M206,477.94h3M211.09,471.23V477.71M209.59,471.23h3M209.59,477.71h3M214.68,469.93V476.36M213.18,469.93h3M213.18,476.36h3M218.27,469.42V475.93M216.77,469.42h3M216.77,475.93h3M221.86,466.72V473.38M220.36,466.72h3M220.36,473.38h3M225.45,466.59V473.6M223.95,466.59h3M223.95,473.6h3M229.04,466.3V473.91M227.54,466.3h3M227.54,473.91h3M232.63,466.02V473.03M231.13,466.02h3M231.13,473.03h3M236.22,464.78V470.9M234.72,464.78h3M234.72,470.9h3M239.81,464.56V470.7M238.31,464.56h3M238.31,470.7h3M243.4,463.73V470.16M241.9,463.73h3M241.9,470.16h3M246.99,462.74V468.56M245.49,462.74h3M245.49,468.56h3M250.58,461.85V468.37M249.08,461.85h3M249.08,468.37h3M254.17,460.72V467.19M252.67,460.72h3M252.67,467.19h3M257.76,460.26V467.03M256.26,460.26h3M256.26,467.03h3M261.35,459.58V466.52M259.85,459.58h3M259.85,466.52h3M264.94,459.18V466.06M263.44,459.18h3M263.44,466.06h3M268.53,458.4V464.98M267.03,458.4h3M267.03,464.98h3M272.12,458.23V464.66M270.62,458.23h3M270.62,464.66h3M275.71,457.08V463.59M274.21,457.08h3M274.21,463.59h3M279.3,456.92V462.95M277.8,456.92h3M277.8,462.95h3" stroke="#ff7c7c" stroke-opacity="0.65" stroke-width="0.8" fill="none"/>
<polyline points="71.08,580.52 74.67,571.96 78.26,564.25 81.85,557.38 85.44,551.27 89.03,545.77 92.62,540.67 96.21,536.27 99.8,531.73 103.39,528.23 106.98,524.33 110.57,521.57 114.16,518.4 117.75,515.42 121.34,512.94 124.93,510.33 128.52,507.97 132.11,505.46 135.7,503.75 139.29,501.58 142.88,499.76 146.47,497.79 150.06,496.12 153.65,494.71 157.24,493 160.83,491.75 164.42,490.06 168.01,488.52 171.6,487.03 175.19,484.43 178.78,482.61 182.37,482.91 185.96,482.19 189.55,481.06 193.14,479.14 196.73,478.4 200.32,477.81 203.91,476.74 207.5,474.76 211.09,474.47 214.68,473.14 218.27,472.68 221.86,470.05 225.45,470.1 229.04,470.11 232.63,469.53 236.22,467.84 239.81,467.63 243.4,466.94 246.99,465.65 250.58,465.11 254.17,463.95 257.76,463.64 261.35,463.05 264.94,462.62 268.53,461.69 272.12,461.45 275.71,460.33 279.3,459.94" fill="none" stroke="#ff2424" stroke-width="1.8" stroke-linejoin="round" stroke-linecap="round"/>
<rect x="69.33" y="578.77" width="3.5" height="3.5" fill="#ff2424"/>
<rect x="72.92" y="570.21" width="3.5" height="3.5" fill="#ff2424"/>
<rect x="76.51" y="562.5" width="3.5" height="3.5" fill="#ff2424"/>
<rect x="80.1" y="555.63" width="3.5" height="3.5" fill="#ff2424"/>
<rect x="83.69" y="549.52" width="3.5" height="3.5" fill="#ff2424"/>
<rect x="87.28" y="544.02" width="3.5" height="3.5" fill="#ff2424"/>
<rect x="90.87" y="538.92" width="3.5" height="3.5" fill="#ff2424"/>
<rect x="94.46" y="534.52" width="3.5" height="3.5" fill="#ff2424"/>
<rect x="98.05" y="529.98" width="3.5" height="3.5" fill="#ff2424"/>
<rect x="101.64" y="526.48" width="3.5" height="3.5" fill="#ff2424"/>
<rect x="105.23" y="522.58" width="3.5" height="3.5" fill="#ff2424"/>
<rect x="108.82" y="519.82" width="3.5" height="3.5" fill="#ff2424"/>
<rect x="112.41" y="516.65" width="3.5" height="3.5" fill="#ff2424"/>
<rect x="116" y="513.67" width="3.5" height="3.5" fill="#ff2424"/>
<rect x="119.59" y="511.19" width="3.5" height="3.5" fill="#ff2424"/>
<rect x="123.18" y="508.58" width="3.5" height="3.5" fill="#ff2424"/>
<rect x="126.77" y="506.22" width="3.5" height="3.5" fill="#ff2424"/>
<rect x="130.36" y="503.71" width="3.5" height="3.5" fill="#ff2424"/>
<rect x="133.95" y="502" width="3.5" height="3.5" fill="#ff2424"/>
<rect x="137.54" y="499.83" width="3.5" height="3.5" fill="#ff2424"/>
<rect x="141.13" y="498.01" width="3.5" height="3.5" fill="#ff2424"/>
<rect x="144.72" y="496.04" width="3.5" height="3.5" fill="#ff2424"/>
<rect x="148.31" y="494.37" width="3.5" height="3.5" fill="#ff2424"/>
<rect x="151.9" y="492.96" width="3.5" height="3.5" fill="#ff2424"/>
<rect x="155.49" y="491.25" width="3.5" height="3.5" fill="#ff2424"/>
<rect x="159.08" y="490" width="3.5" height="3.5" fill="#ff2424"/>
<rect x="162.67" y="488.31" width="3.5" height="3.5" fill="#ff2424"/>
<rect x="166.26" y="486.77" width="3.5" height="3.5" fill="#ff2424"/>
<rect x="169.85" y="485.28" width="3.5" height="3.5" fill="#ff2424"/>
<rect x="173.44" y="482.68" width="3.5" height="3.5" fill="#ff2424"/>
<rect x="177.03" y="480.86" width="3.5" height="3.5" fill="#ff2424"/>
<rect x="180.62" y="481.16" width="3.5" height="3.5" fill="#ff2424"/>
<rect x="184.21" y="480.44" width="3.5" height="3.5" fill="#ff2424"/>
<rect x="187.8" y="479.31" width="3.5" height="3.5" fill="#ff2424"/>
<rect x="191.39" y="477.39" width="3.5" height="3.5" fill="#ff2424"/>
<rect x="194.98" y="476.65" width="3.5" height="3.5" fill="#ff2424"/>
<rect x="198.57" y="476.06" width="3.5" height="3.5" fill="#ff2424"/>
<rect x="202.16" y="474.99" width="3.5" height="3.5" fill="#ff2424"/>
<rect x="205.75" y="473.01" width="3.5" height="3.5" fill="#ff2424"/>
<rect x="209.34" y="472.72" width="3.5" height="3.5" fill="#ff2424"/>
<rect x="212.93" y="471.39" width="3.5" height="3.5" fill="#ff2424"/>
<rect x="216.52" y="470.93" width="3.5" height="3.5" fill="#ff2424"/>
<rect x="220.11" y="468.3" width="3.5" height="3.5" fill="#ff2424"/>
<rect x="223.7" y="468.35" width="3.5" height="3.5" fill="#ff2424"/>
<rect x="227.29" y="468.36" width="3.5" height="3.5" fill="#ff2424"/>
<rect x="230.88" y="467.78" width="3.5" height="3.5" fill="#ff2424"/>
<rect x="234.47" y="466.09" width="3.5" height="3.5" fill="#ff2424"/>
<rect x="238.06" y="465.88" width="3.5" height="3.5" fill="#ff2424"/>
<rect x="241.65" y="465.19" width="3.5" height="3.5" fill="#ff2424"/>
<rect x="245.24" y="463.9" width="3.5" height="3.5" fill="#ff2424"/>
<rect x="248.83" y="463.36" width="3.5" height="3.5" fill="#ff2424"/>
<rect x="252.42" y="462.2" width="3.5" height="3.5" fill="#ff2424"/>
<rect x="256.01" y="461.89" width="3.5" height="3.5" fill="#ff2424"/>
<rect x="259.6" y="461.3" width="3.5" height="3.5" fill="#ff2424"/>
<rect x="263.19" y="460.87" width="3.5" height="3.5" fill="#ff2424"/>
<rect x="266.78" y="459.94" width="3.5" height="3.5" fill="#ff2424"/>
<rect x="270.37" y="459.7" width="3.5" height="3.5" fill="#ff2424"/>
<rect x="273.96" y="458.58" width="3.5" height="3.5" fill="#ff2424"/>
<rect x="277.55" y="458.19" width="3.5" height="3.5" fill="#ff2424"/>
<polyline points="71.08,579.69 74.67,570.88 78.26,562.72 81.85,555.08 85.44,547.71 89.03,541.42 92.62,534.91 96.21,529.42 99.8,524.49 103.39,518.92 106.98,514.24 110.57,510.01 114.16,505.61 117.75,501.76 121.34,498.61 124.93,494.74 128.52,492.27 132.11,488.42 135.7,485.18 139.29,482.79 142.88,480.35 146.47,478.28 150.06,475.36 153.65,473.1 157.24,470.59 160.83,468.91 164.42,466.75 168.01,465.29 171.6,463.46 175.19,460.82 178.78,458.26 182.37,457.73 185.96,457.05 189.55,455.75 193.14,454.42 196.73,452.75 200.32,451.12 203.91,450.47 207.5,449.17 211.09,448.38 214.68,447.16 218.27,445.31 221.86,442.72 225.45,443.36 229.04,441.92 232.63,440.75 236.22,440.17 239.81,438.74 243.4,437.9 246.99,437.07 250.58,435.91 254.17,434.42 257.76,433.97 261.35,433.36 264.94,432.57 268.53,431.39 272.12,430.24 275.71,429.9 279.3,429.14" fill="none" stroke="#f2772a" stroke-width="1.4" stroke-linejoin="round" stroke-linecap="round"/>
<path d="M71.08,578.09V581.29" stroke="#f2772a" stroke-width="1"/>
<path d="M74.67,569.28V572.48" stroke="#f2772a" stroke-width="1"/>
<path d="M78.26,561.12V564.32" stroke="#f2772a" stroke-width="1"/>
<path d="M81.85,553.48V556.68" stroke="#f2772a" stroke-width="1"/>
<path d="M85.44,546.11V549.31" stroke="#f2772a" stroke-width="1"/>
<path d="M89.03,539.82V543.02" stroke="#f2772a" stroke-width="1"/>
<path d="M92.62,533.31V536.51" stroke="#f2772a" stroke-width="1"/>
<path d="M96.21,527.82V531.02" stroke="#f2772a" stroke-width="1"/>
<path d="M99.8,522.89V526.09" stroke="#f2772a" stroke-width="1"/>
<path d="M103.39,517.32V520.52" stroke="#f2772a" stroke-width="1"/>
<path d="M106.98,512.64V515.84" stroke="#f2772a" stroke-width="1"/>
<path d="M110.57,508.41V511.61" stroke="#f2772a" stroke-width="1"/>
<path d="M114.16,504.01V507.21" stroke="#f2772a" stroke-width="1"/>
<path d="M117.75,500.16V503.36" stroke="#f2772a" stroke-width="1"/>
<path d="M121.34,497.01V500.21" stroke="#f2772a" stroke-width="1"/>
<path d="M124.93,493.14V496.34" stroke="#f2772a" stroke-width="1"/>
<path d="M128.52,490.67V493.87" stroke="#f2772a" stroke-width="1"/>
<path d="M132.11,486.82V490.02" stroke="#f2772a" stroke-width="1"/>
<path d="M135.7,483.58V486.78" stroke="#f2772a" stroke-width="1"/>
<path d="M139.29,481.19V484.39" stroke="#f2772a" stroke-width="1"/>
<path d="M142.88,478.75V481.95" stroke="#f2772a" stroke-width="1"/>
<path d="M146.47,476.68V479.88" stroke="#f2772a" stroke-width="1"/>
<path d="M150.06,473.76V476.96" stroke="#f2772a" stroke-width="1"/>
<path d="M153.65,471.5V474.7" stroke="#f2772a" stroke-width="1"/>
<path d="M157.24,468.99V472.19" stroke="#f2772a" stroke-width="1"/>
<path d="M160.83,467.31V470.51" stroke="#f2772a" stroke-width="1"/>
<path d="M164.42,465.15V468.35" stroke="#f2772a" stroke-width="1"/>
<path d="M168.01,463.69V466.89" stroke="#f2772a" stroke-width="1"/>
<path d="M171.6,461.86V465.06" stroke="#f2772a" stroke-width="1"/>
<path d="M175.19,459.22V462.42" stroke="#f2772a" stroke-width="1"/>
<path d="M178.78,456.66V459.86" stroke="#f2772a" stroke-width="1"/>
<path d="M182.37,456.13V459.33" stroke="#f2772a" stroke-width="1"/>
<path d="M185.96,455.45V458.65" stroke="#f2772a" stroke-width="1"/>
<path d="M189.55,454.15V457.35" stroke="#f2772a" stroke-width="1"/>
<path d="M193.14,452.82V456.02" stroke="#f2772a" stroke-width="1"/>
<path d="M196.73,451.15V454.35" stroke="#f2772a" stroke-width="1"/>
<path d="M200.32,449.52V452.72" stroke="#f2772a" stroke-width="1"/>
<path d="M203.91,448.87V452.07" stroke="#f2772a" stroke-width="1"/>
<path d="M207.5,447.57V450.77" stroke="#f2772a" stroke-width="1"/>
<path d="M211.09,446.78V449.98" stroke="#f2772a" stroke-width="1"/>
<path d="M214.68,445.56V448.76" stroke="#f2772a" stroke-width="1"/>
<path d="M218.27,443.71V446.91" stroke="#f2772a" stroke-width="1"/>
<path d="M221.86,441.12V444.32" stroke="#f2772a" stroke-width="1"/>
<path d="M225.45,441.76V444.96" stroke="#f2772a" stroke-width="1"/>
<path d="M229.04,440.32V443.52" stroke="#f2772a" stroke-width="1"/>
<path d="M232.63,439.15V442.35" stroke="#f2772a" stroke-width="1"/>
<path d="M236.22,438.57V441.77" stroke="#f2772a" stroke-width="1"/>
<path d="M239.81,437.14V440.34" stroke="#f2772a" stroke-width="1"/>
<path d="M243.4,436.3V439.5" stroke="#f2772a" stroke-width="1"/>
<path d="M246.99,435.47V438.67" stroke="#f2772a" stroke-width="1"/>
<path d="M250.58,434.31V437.51" stroke="#f2772a" stroke-width="1"/>
<path d="M254.17,432.82V436.02" stroke="#f2772a" stroke-width="1"/>
<path d="M257.76,432.37V435.57" stroke="#f2772a" stroke-width="1"/>
<path d="M261.35,431.76V434.96" stroke="#f2772a" stroke-width="1"/>
<path d="M264.94,430.97V434.17" stroke="#f2772a" stroke-width="1"/>
<path d="M268.53,429.79V432.99" stroke="#f2772a" stroke-width="1"/>
<path d="M272.12,428.64V431.84" stroke="#f2772a" stroke-width="1"/>
<path d="M275.71,428.3V431.5" stroke="#f2772a" stroke-width="1"/>
<path d="M279.3,427.54V430.74" stroke="#f2772a" stroke-width="1"/>
<polyline points="71.08,579.74 74.67,571.06 78.26,562.86 81.85,555.59 85.44,548.48 89.03,542.45 92.62,536.69 96.21,530.98 99.8,526.1 103.39,521.62 106.98,517.14 110.57,512.99 114.16,509.66 117.75,506.17 121.34,502.91 124.93,499.32 128.52,497 132.11,494.49 135.7,491.58 139.29,489.39 142.88,487.75 146.47,485.35 150.06,483.26 153.65,481.5 157.24,479.37 160.83,478.24 164.42,476.24 168.01,474.83 171.6,473.46 175.19,470.72 178.78,467.25 182.37,468.42 185.96,467.99 189.55,467.23 193.14,465.8 196.73,464.83 200.32,463.29 203.91,462.28 207.5,461.14 211.09,460.18 214.68,459.21 218.27,458.15 221.86,455.89 225.45,456.88 229.04,455.99 232.63,454.7 236.22,454 239.81,452.68 243.4,452.24 246.99,451.19 250.58,450.09 254.17,449.3 257.76,449.07 261.35,447.8 264.94,447.03 268.53,445.75 272.12,445.17 275.71,444.86 279.3,443.36" fill="none" stroke="#3fe022" stroke-width="1.6" stroke-linejoin="round" stroke-linecap="round"/>
<path d="M71.08,578.04L72.78,581.1L69.38,581.1Z" fill="#3fe022"/>
<path d="M74.67,569.36L76.37,572.42L72.97,572.42Z" fill="#3fe022"/>
<path d="M78.26,561.16L79.96,564.22L76.56,564.22Z" fill="#3fe022"/>
<path d="M81.85,553.89L83.55,556.95L80.15,556.95Z" fill="#3fe022"/>
<path d="M85.44,546.78L87.14,549.84L83.74,549.84Z" fill="#3fe022"/>
<path d="M89.03,540.75L90.73,543.81L87.33,543.81Z" fill="#3fe022"/>
<path d="M92.62,534.99L94.32,538.05L90.92,538.05Z" fill="#3fe022"/>
<path d="M96.21,529.28L97.91,532.34L94.51,532.34Z" fill="#3fe022"/>
<path d="M99.8,524.4L101.5,527.46L98.1,527.46Z" fill="#3fe022"/>
<path d="M103.39,519.92L105.09,522.98L101.69,522.98Z" fill="#3fe022"/>
<path d="M106.98,515.44L108.68,518.5L105.28,518.5Z" fill="#3fe022"/>
<path d="M110.57,511.29L112.27,514.35L108.87,514.35Z" fill="#3fe022"/>
<path d="M114.16,507.96L115.86,511.02L112.46,511.02Z" fill="#3fe022"/>
<path d="M117.75,504.47L119.45,507.53L116.05,507.53Z" fill="#3fe022"/>
<path d="M121.34,501.21L123.04,504.27L119.64,504.27Z" fill="#3fe022"/>
<path d="M124.93,497.62L126.63,500.68L123.23,500.68Z" fill="#3fe022"/>
<path d="M128.52,495.3L130.22,498.36L126.82,498.36Z" fill="#3fe022"/>
<path d="M132.11,492.79L133.81,495.85L130.41,495.85Z" fill="#3fe022"/>
<path d="M135.7,489.88L137.4,492.94L134,492.94Z" fill="#3fe022"/>
<path d="M139.29,487.69L140.99,490.75L137.59,490.75Z" fill="#3fe022"/>
<path d="M142.88,486.05L144.58,489.11L141.18,489.11Z" fill="#3fe022"/>
<path d="M146.47,483.65L148.17,486.71L144.77,486.71Z" fill="#3fe022"/>
<path d="M150.06,481.56L151.76,484.62L148.36,484.62Z" fill="#3fe022"/>
<path d="M153.65,479.8L155.35,482.86L151.95,482.86Z" fill="#3fe022"/>
<path d="M157.24,477.67L158.94,480.73L155.54,480.73Z" fill="#3fe022"/>
<path d="M160.83,476.54L162.53,479.6L159.13,479.6Z" fill="#3fe022"/>
<path d="M164.42,474.54L166.12,477.6L162.72,477.6Z" fill="#3fe022"/>
<path d="M168.01,473.13L169.71,476.19L166.31,476.19Z" fill="#3fe022"/>
<path d="M171.6,471.76L173.3,474.82L169.9,474.82Z" fill="#3fe022"/>
<path d="M175.19,469.02L176.89,472.08L173.49,472.08Z" fill="#3fe022"/>
<path d="M178.78,465.55L180.48,468.61L177.08,468.61Z" fill="#3fe022"/>
<path d="M182.37,466.72L184.07,469.78L180.67,469.78Z" fill="#3fe022"/>
<path d="M185.96,466.29L187.66,469.35L184.26,469.35Z" fill="#3fe022"/>
<path d="M189.55,465.53L191.25,468.59L187.85,468.59Z" fill="#3fe022"/>
<path d="M193.14,464.1L194.84,467.16L191.44,467.16Z" fill="#3fe022"/>
<path d="M196.73,463.13L198.43,466.19L195.03,466.19Z" fill="#3fe022"/>
<path d="M200.32,461.59L202.02,464.65L198.62,464.65Z" fill="#3fe022"/>
<path d="M203.91,460.58L205.61,463.64L202.21,463.64Z" fill="#3fe022"/>
<path d="M207.5,459.44L209.2,462.5L205.8,462.5Z" fill="#3fe022"/>
<path d="M211.09,458.48L212.79,461.54L209.39,461.54Z" fill="#3fe022"/>
<path d="M214.68,457.51L216.38,460.57L212.98,460.57Z" fill="#3fe022"/>
<path d="M218.27,456.45L219.97,459.51L216.57,459.51Z" fill="#3fe022"/>
<path d="M221.86,454.19L223.56,457.25L220.16,457.25Z" fill="#3fe022"/>
<path d="M225.45,455.18L227.15,458.24L223.75,458.24Z" fill="#3fe022"/>
<path d="M229.04,454.29L230.74,457.35L227.34,457.35Z" fill="#3fe022"/>
<path d="M232.63,453L234.33,456.06L230.93,456.06Z" fill="#3fe022"/>
<path d="M236.22,452.3L237.92,455.36L234.52,455.36Z" fill="#3fe022"/>
<path d="M239.81,450.98L241.51,454.04L238.11,454.04Z" fill="#3fe022"/>
<path d="M243.4,450.54L245.1,453.6L241.7,453.6Z" fill="#3fe022"/>
<path d="M246.99,449.49L248.69,452.55L245.29,452.55Z" fill="#3fe022"/>
<path d="M250.58,448.39L252.28,451.45L248.88,451.45Z" fill="#3fe022"/>
<path d="M254.17,447.6L255.87,450.66L252.47,450.66Z" fill="#3fe022"/>
<path d="M257.76,447.37L259.46,450.43L256.06,450.43Z" fill="#3fe022"/>
<path d="M261.35,446.1L263.05,449.16L259.65,449.16Z" fill="#3fe022"/>
<path d="M264.94,445.33L266.64,448.39L263.24,448.39Z" fill="#3fe022"/>
<path d="M268.53,444.05L270.23,447.11L266.83,447.11Z" fill="#3fe022"/>
<path d="M272.12,443.47L273.82,446.53L270.42,446.53Z" fill="#3fe022"/>
<path d="M275.71,443.16L277.41,446.22L274.01,446.22Z" fill="#3fe022"/>
<path d="M279.3,441.66L281,444.72L277.6,444.72Z" fill="#3fe022"/>
<polyline points="71.08,579.84 74.67,570.75 78.26,562.4 81.85,554.49 85.44,547.38 89.03,540.87 92.62,534.83 96.21,529 99.8,523.78 103.39,518.69 106.98,514.29 110.57,510.09 114.16,506.16 117.75,502.3 121.34,498.65 124.93,495.68 128.52,492.57 132.11,489.77 135.7,487.29 139.29,484.62 142.88,482.38 146.47,479.43 150.06,478.05 153.65,475.11 157.24,474.19 160.83,472.07 164.42,470.59 168.01,468.71 171.6,466.91 175.19,464.19 178.78,461.37 182.37,461.61 185.96,460.84 189.55,458.72 193.14,458.07 196.73,457.08 200.32,455.31 203.91,453.93 207.5,452.59 211.09,452.14 214.68,450.95 218.27,449.25 221.86,447.93 225.45,447.49 229.04,446.58 232.63,445.35 236.22,444.6 239.81,442.9 243.4,442.12 246.99,441.33 250.58,440.36 254.17,438.68 257.76,438.5 261.35,436.8 264.94,436.62 268.53,435.03 272.12,434.57 275.71,433.97 279.3,432.36" fill="none" stroke="#c628f5" stroke-width="1.6" stroke-linejoin="round" stroke-linecap="round"/>
<path d="M71.08,578.14L72.78,581.2L69.38,581.2Z" fill="#c628f5"/>
<path d="M74.67,569.05L76.37,572.11L72.97,572.11Z" fill="#c628f5"/>
<path d="M78.26,560.7L79.96,563.76L76.56,563.76Z" fill="#c628f5"/>
<path d="M81.85,552.79L83.55,555.85L80.15,555.85Z" fill="#c628f5"/>
<path d="M85.44,545.68L87.14,548.74L83.74,548.74Z" fill="#c628f5"/>
<path d="M89.03,539.17L90.73,542.23L87.33,542.23Z" fill="#c628f5"/>
<path d="M92.62,533.13L94.32,536.19L90.92,536.19Z" fill="#c628f5"/>
<path d="M96.21,527.3L97.91,530.36L94.51,530.36Z" fill="#c628f5"/>
<path d="M99.8,522.08L101.5,525.14L98.1,525.14Z" fill="#c628f5"/>
<path d="M103.39,516.99L105.09,520.05L101.69,520.05Z" fill="#c628f5"/>
<path d="M106.98,512.59L108.68,515.65L105.28,515.65Z" fill="#c628f5"/>
<path d="M110.57,508.39L112.27,511.45L108.87,511.45Z" fill="#c628f5"/>
<path d="M114.16,504.46L115.86,507.52L112.46,507.52Z" fill="#c628f5"/>
<path d="M117.75,500.6L119.45,503.66L116.05,503.66Z" fill="#c628f5"/>
<path d="M121.34,496.95L123.04,500.01L119.64,500.01Z" fill="#c628f5"/>
<path d="M124.93,493.98L126.63,497.04L123.23,497.04Z" fill="#c628f5"/>
<path d="M128.52,490.87L130.22,493.93L126.82,493.93Z" fill="#c628f5"/>
<path d="M132.11,488.07L133.81,491.13L130.41,491.13Z" fill="#c628f5"/>
<path d="M135.7,485.59L137.4,488.65L134,488.65Z" fill="#c628f5"/>
<path d="M139.29,482.92L140.99,485.98L137.59,485.98Z" fill="#c628f5"/>
<path d="M142.88,480.68L144.58,483.74L141.18,483.74Z" fill="#c628f5"/>
<path d="M146.47,477.73L148.17,480.79L144.77,480.79Z" fill="#c628f5"/>
<path d="M150.06,476.35L151.76,479.41L148.36,479.41Z" fill="#c628f5"/>
<path d="M153.65,473.41L155.35,476.47L151.95,476.47Z" fill="#c628f5"/>
<path d="M157.24,472.49L158.94,475.55L155.54,475.55Z" fill="#c628f5"/>
<path d="M160.83,470.37L162.53,473.43L159.13,473.43Z" fill="#c628f5"/>
<path d="M164.42,468.89L166.12,471.95L162.72,471.95Z" fill="#c628f5"/>
<path d="M168.01,467.01L169.71,470.07L166.31,470.07Z" fill="#c628f5"/>
<path d="M171.6,465.21L173.3,468.27L169.9,468.27Z" fill="#c628f5"/>
<path d="M175.19,462.49L176.89,465.55L173.49,465.55Z" fill="#c628f5"/>
<path d="M178.78,459.67L180.48,462.73L177.08,462.73Z" fill="#c628f5"/>
<path d="M182.37,459.91L184.07,462.97L180.67,462.97Z" fill="#c628f5"/>
<path d="M185.96,459.14L187.66,462.2L184.26,462.2Z" fill="#c628f5"/>
<path d="M189.55,457.02L191.25,460.08L187.85,460.08Z" fill="#c628f5"/>
<path d="M193.14,456.37L194.84,459.43L191.44,459.43Z" fill="#c628f5"/>
<path d="M196.73,455.38L198.43,458.44L195.03,458.44Z" fill="#c628f5"/>
<path d="M200.32,453.61L202.02,456.67L198.62,456.67Z" fill="#c628f5"/>
<path d="M203.91,452.23L205.61,455.29L202.21,455.29Z" fill="#c628f5"/>
<path d="M207.5,450.89L209.2,453.95L205.8,453.95Z" fill="#c628f5"/>
<path d="M211.09,450.44L212.79,453.5L209.39,453.5Z" fill="#c628f5"/>
<path d="M214.68,449.25L216.38,452.31L212.98,452.31Z" fill="#c628f5"/>
<path d="M218.27,447.55L219.97,450.61L216.57,450.61Z" fill="#c628f5"/>
<path d="M221.86,446.23L223.56,449.29L220.16,449.29Z" fill="#c628f5"/>
<path d="M225.45,445.79L227.15,448.85L223.75,448.85Z" fill="#c628f5"/>
<path d="M229.04,444.88L230.74,447.94L227.34,447.94Z" fill="#c628f5"/>
<path d="M232.63,443.65L234.33,446.71L230.93,446.71Z" fill="#c628f5"/>
<path d="M236.22,442.9L237.92,445.96L234.52,445.96Z" fill="#c628f5"/>
<path d="M239.81,441.2L241.51,444.26L238.11,444.26Z" fill="#c628f5"/>
<path d="M243.4,440.42L245.1,443.48L241.7,443.48Z" fill="#c628f5"/>
<path d="M246.99,439.63L248.69,442.69L245.29,442.69Z" fill="#c628f5"/>
<path d="M250.58,438.66L252.28,441.72L248.88,441.72Z" fill="#c628f5"/>
<path d="M254.17,436.98L255.87,440.04L252.47,440.04Z" fill="#c628f5"/>
<path d="M257.76,436.8L259.46,439.86L256.06,439.86Z" fill="#c628f5"/>
<path d="M261.35,435.1L263.05,438.16L259.65,438.16Z" fill="#c628f5"/>
<path d="M264.94,434.92L266.64,437.98L263.24,437.98Z" fill="#c628f5"/>
<path d="M268.53,433.33L270.23,436.39L266.83,436.39Z" fill="#c628f5"/>
<path d="M272.12,432.87L273.82,435.93L270.42,435.93Z" fill="#c628f5"/>
<path d="M275.71,432.27L277.41,435.33L274.01,435.33Z" fill="#c628f5"/>
<path d="M279.3,430.66L281,433.72L277.6,433.72Z" fill="#c628f5"/>
<polyline points="71.08,578.18 74.67,569.43 78.26,561.38 81.85,553.85 85.44,546.77 89.03,540.48 92.62,534.36 96.21,528.37 99.8,523.21 103.39,518.17 106.98,513.59 110.57,509.1 114.16,505.28 117.75,501.11 121.34,497.64 124.93,494.18 128.52,490.67 132.11,487.81 135.7,484.91 139.29,482 142.88,479.83 146.47,476.83 150.06,474.41 153.65,472.6 157.24,470.53 160.83,468.42 164.42,466.37 168.01,464.86 171.6,462.97 175.19,459.92 178.78,457.14 182.37,457.14 185.96,456.74 189.55,455.08 193.14,453.69 196.73,451.92 200.32,450.2 203.91,449.73 207.5,447.87 211.09,446.67 214.68,445.11 218.27,443.35 221.86,440.62 225.45,441.54 229.04,440.94 232.63,439.41 236.22,438.62 239.81,436.98 243.4,436.93 246.99,435.35 250.58,434.33 254.17,433.49 257.76,432.72 261.35,431.28 264.94,429.42 268.53,428.68 272.12,428.51 275.71,427.22 279.3,426.29" fill="none" stroke="#2222ff" stroke-width="2.0" stroke-linejoin="round" stroke-linecap="round"/>
<circle cx="71.08" cy="578.18" r="1.8" fill="#2222ff"/>
<circle cx="74.67" cy="569.43" r="1.8" fill="#2222ff"/>
<circle cx="78.26" cy="561.38" r="1.8" fill="#2222ff"/>
<circle cx="81.85" cy="553.85" r="1.8" fill="#2222ff"/>
<circle cx="85.44" cy="546.77" r="1.8" fill="#2222ff"/>
<circle cx="89.03" cy="540.48" r="1.8" fill="#2222ff"/>
<circle cx="92.62" cy="534.36" r="1.8" fill="#2222ff"/>
<circle cx="96.21" cy="528.37" r="1.8" fill="#2222ff"/>
<circle cx="99.8" cy="523.21" r="1.8" fill="#2222ff"/>
<circle cx="103.39" cy="518.17" r="1.8" fill="#2222ff"/>
<circle cx="106.98" cy="513.59" r="1.8" fill="#2222ff"/>
<circle cx="110.57" cy="509.1" r="1.8" fill="#2222ff"/>
<circle cx="114.16" cy="505.28" r="1.8" fill="#2222ff"/>
<circle cx="117.75" cy="501.11" r="1.8" fill="#2222ff"/>
<circle cx="121.34" cy="497.64" r="1.8" fill="#2222ff"/>
<circle cx="124.93" cy="494.18" r="1.8" fill="#2222ff"/>
<circle cx="128.52" cy="490.67" r="1.8" fill="#2222ff"/>
<circle cx="132.11" cy="487.81" r="1.8" fill="#2222ff"/>
<circle cx="135.7" cy="484.91" r="1.8" fill="#2222ff"/>
<circle cx="139.29" cy="482" r="1.8" fill="#2222ff"/>
<circle cx="142.88" cy="479.83" r="1.8" fill="#2222ff"/>
<circle cx="146.47" cy="476.83" r="1.8" fill="#2222ff"/>
<circle cx="150.06" cy="474.41" r="1.8" fill="#2222ff"/>
<circle cx="153.65" cy="472.6" r="1.8" fill="#2222ff"/>
<circle cx="157.24" cy="470.53" r="1.8" fill="#2222ff"/>
<circle cx="160.83" cy="468.42" r="1.8" fill="#2222ff"/>
<circle cx="164.42" cy="466.37" r="1.8" fill="#2222ff"/>
<circle cx="168.01" cy="464.86" r="1.8" fill="#2222ff"/>
<circle cx="171.6" cy="462.97" r="1.8" fill="#2222ff"/>
<circle cx="175.19" cy="459.92" r="1.8" fill="#2222ff"/>
<circle cx="178.78" cy="457.14" r="1.8" fill="#2222ff"/>
<circle cx="182.37" cy="457.14" r="1.8" fill="#2222ff"/>
<circle cx="185.96" cy="456.74" r="1.8" fill="#2222ff"/>
<circle cx="189.55" cy="455.08" r="1.8" fill="#2222ff"/>
<circle cx="193.14" cy="453.69" r="1.8" fill="#2222ff"/>
<circle cx="196.73" cy="451.92" r="1.8" fill="#2222ff"/>
<circle cx="200.32" cy="450.2" r="1.8" fill="#2222ff"/>
<circle cx="203.91" cy="449.73" r="1.8" fill="#2222ff"/>
<circle cx="207.5" cy="447.87" r="1.8" fill="#2222ff"/>
<circle cx="211.09" cy="446.67" r="1.8" fill="#2222ff"/>
<circle cx="214.68" cy="445.11" r="1.8" fill="#2222ff"/>
<circle cx="218.27" cy="443.35" r="1.8" fill="#2222ff"/>
<circle cx="221.86" cy="440.62" r="1.8" fill="#2222ff"/>
<circle cx="225.45" cy="441.54" r="1.8" fill="#2222ff"/>
<circle cx="229.04" cy="440.94" r="1.8" fill="#2222ff"/>
<circle cx="232.63" cy="439.41" r="1.8" fill="#2222ff"/>
<circle cx="236.22" cy="438.62" r="1.8" fill="#2222ff"/>
<circle cx="239.81" cy="436.98" r="1.8" fill="#2222ff"/>
<circle cx="243.4" cy="436.93" r="1.8" fill="#2222ff"/>
<circle cx="246.99" cy="435.35" r="1.8" fill="#2222ff"/>
<circle cx="250.58" cy="434.33" r="1.8" fill="#2222ff"/>
<circle cx="254.17" cy="433.49" r="1.8" fill="#2222ff"/>
<circle cx="257.76" cy="432.72" r="1.8" fill="#2222ff"/>
<circle cx="261.35" cy="431.28" r="1.8" fill="#2222ff"/>
<circle cx="264.94" cy="429.42" r="1.8" fill="#2222ff"/>
<circle cx="268.53" cy="428.68" r="1.8" fill="#2222ff"/>
<circle cx="272.12" cy="428.51" r="1.8" fill="#2222ff"/>
<circle cx="275.71" cy="427.22" r="1.8" fill="#2222ff"/>
<circle cx="279.3" cy="426.29" r="1.8" fill="#2222ff"/>
<path d="M71.1,394.8H86.8" stroke="#2222ff" stroke-width="1.8"/>
<circle cx="78.95" cy="394.8" r="1.8" fill="#2222ff"/>
<text x="96" y="398.4" font-size="10" text-anchor="start" >Control</text>
<path d="M71.1,414.1H86.8" stroke="#f2772a" stroke-width="1.5"/>
<path d="M78.95,412.5V415.7" stroke="#f2772a" stroke-width="1"/>
<text x="96" y="417.7" font-size="10" text-anchor="start" >ILE 0.1</text>
<path d="M71.1,435.3H86.8" stroke="#c628f5" stroke-width="1.8"/>
<path d="M78.95,433.6L80.65,436.66L77.25,436.66Z" fill="#c628f5"/>
<text x="96" y="438.9" font-size="10" text-anchor="start" >ILE 1</text>
<path d="M71.1,456.6H86.8" stroke="#3fe022" stroke-width="1.8"/>
<path d="M78.95,454.9L80.65,457.96L77.25,457.96Z" fill="#3fe022"/>
<text x="96" y="460.2" font-size="10" text-anchor="start" >ILE 10</text>
<path d="M71.1,477.6H86.8" stroke="#ff2424" stroke-width="1.8"/>
<rect x="77.2" y="475.85" width="3.5" height="3.5" fill="#ff2424"/>
<text x="96" y="481.2" font-size="10" text-anchor="start" >ILE 20</text>
<path d="M281.8,426.5H286.2V444H281.8" fill="none" stroke="#000" stroke-width="1.4"/>
<text x="293" y="433" font-size="10" text-anchor="middle" >n</text>
<text x="293" y="444.4" font-size="10" text-anchor="middle" >s</text>
<path d="M296.1,426.5H300.2V461.2H296.1" fill="none" stroke="#000" stroke-width="1.4"/>
<text x="308.1" y="444.51" font-size="13" text-anchor="middle" >*</text>
<text x="358.8" y="352.4" font-size="30" text-anchor="start" >d</text>
<text x="517.5" y="368.6" font-size="16.3" text-anchor="middle">ClpC1<tspan font-size="12" dy="-7">F80V</tspan><tspan dy="7">P1P2</tspan></text>
<text transform="translate(361,486.85) rotate(-90)" x="0" y="0" font-size="14" text-anchor="middle" textLength="191.66" lengthAdjust="spacingAndGlyphs">D-value of fluorescence intensity</text>
<path d="M411.2,388.8V586.3H624.2" fill="none" stroke="#000" stroke-width="1.5"/>
<path d="M405.2,586.3H411.2" stroke="#000" stroke-width="1.5"/>
<text x="402.9" y="590.44" font-size="12" text-anchor="end" >0</text>
<path d="M405.2,546.8H411.2" stroke="#000" stroke-width="1.5"/>
<text x="402.9" y="550.94" font-size="12" text-anchor="end" >100000</text>
<path d="M405.2,507.3H411.2" stroke="#000" stroke-width="1.5"/>
<text x="402.9" y="511.44" font-size="12" text-anchor="end" >200000</text>
<path d="M405.2,467.8H411.2" stroke="#000" stroke-width="1.5"/>
<text x="402.9" y="471.94" font-size="12" text-anchor="end" >300000</text>
<path d="M405.2,428.3H411.2" stroke="#000" stroke-width="1.5"/>
<text x="402.9" y="432.44" font-size="12" text-anchor="end" >400000</text>
<path d="M405.2,388.8H411.2" stroke="#000" stroke-width="1.5"/>
<text x="402.9" y="392.94" font-size="12" text-anchor="end" >500000</text>
<path d="M411.2,586.3V592.3" stroke="#000" stroke-width="1.5"/>
<text x="411.2" y="605.6" font-size="12" text-anchor="middle" >0</text>
<path d="M446.7,586.3V592.3" stroke="#000" stroke-width="1.5"/>
<text x="446.7" y="605.6" font-size="12" text-anchor="middle" >10</text>
<path d="M482.2,586.3V592.3" stroke="#000" stroke-width="1.5"/>
<text x="482.2" y="605.6" font-size="12" text-anchor="middle" >20</text>
<path d="M517.7,586.3V592.3" stroke="#000" stroke-width="1.5"/>
<text x="517.7" y="605.6" font-size="12" text-anchor="middle" >30</text>
<path d="M553.2,586.3V592.3" stroke="#000" stroke-width="1.5"/>
<text x="553.2" y="605.6" font-size="12" text-anchor="middle" >40</text>
<path d="M588.7,586.3V592.3" stroke="#000" stroke-width="1.5"/>
<text x="588.7" y="605.6" font-size="12" text-anchor="middle" >50</text>
<path d="M624.2,586.3V592.3" stroke="#000" stroke-width="1.5"/>
<text x="624.2" y="605.6" font-size="12" text-anchor="middle" >60</text>
<text x="517.7" y="625.3" font-size="14" text-anchor="middle" >Time (min)</text>
<path d="M418.3,572.9V585.17M416.8,572.9h3M416.8,585.17h3M421.85,564.44V580.97M420.35,564.44h3M420.35,580.97h3M425.4,555.64V577.75M423.9,555.64h3M423.9,577.75h3M428.95,549.69V572.27M427.45,549.69h3M427.45,572.27h3M432.5,541.03V569.69M431,541.03h3M431,569.69h3M436.05,537.31V563.63M434.55,537.31h3M434.55,563.63h3M439.6,529.91V560.79M438.1,529.91h3M438.1,560.79h3M443.15,524.22V557.3M441.65,524.22h3M441.65,557.3h3M446.7,519.09V553.59M445.2,519.09h3M445.2,553.59h3M450.25,515.2V549.14M448.75,515.2h3M448.75,549.14h3M453.8,510.54V545.86M452.3,510.54h3M452.3,545.86h3M457.35,506.2V542.55M455.85,506.2h3M455.85,542.55h3M460.9,500.18V541.39M459.4,500.18h3M459.4,541.39h3M464.45,497.02V538.01M462.95,497.02h3M462.95,538.01h3M468,494.42V533.92M466.5,494.42h3M466.5,533.92h3M471.55,491.95V530.22M470.05,491.95h3M470.05,530.22h3M475.1,489.36V527.05M473.6,489.36h3M473.6,527.05h3M478.65,485.32V525.59M477.15,485.32h3M477.15,525.59h3M482.2,481.55V524.31M480.7,481.55h3M480.7,524.31h3M485.75,480.55V519.68M484.25,480.55h3M484.25,519.68h3M489.3,475.2V520.32M487.8,475.2h3M487.8,520.32h3M492.85,471.81V518.51M491.35,471.81h3M491.35,518.51h3M496.4,470.22V515.59M494.9,470.22h3M494.9,515.59h3M499.95,466.88V515.19M498.45,466.88h3M498.45,515.19h3M503.5,466.63V512.21M502,466.63h3M502,512.21h3M507.05,463.8V510.43M505.55,463.8h3M505.55,510.43h3M510.6,462.12V508.25M509.1,462.12h3M509.1,508.25h3M514.15,457.56V509.38M512.65,457.56h3M512.65,509.38h3M517.7,460.21V504.84M516.2,460.21h3M516.2,504.84h3M521.25,452.35V507.93M519.75,452.35h3M519.75,507.93h3M524.8,454.46V503.11M523.3,454.46h3M523.3,503.11h3M528.35,452.84V502.13M526.85,452.84h3M526.85,502.13h3M531.9,452.39V499.73M530.4,452.39h3M530.4,499.73h3M535.45,450.37V498.39M533.95,450.37h3M533.95,498.39h3M539,447.34V499.62M537.5,447.34h3M537.5,499.62h3M542.55,444.75V500.69M541.05,444.75h3M541.05,500.69h3M546.1,448.14V493.64M544.6,448.14h3M544.6,493.64h3M549.65,446.03V494.25M548.15,446.03h3M548.15,494.25h3M553.2,442.74V496.23M551.7,442.74h3M551.7,496.23h3M556.75,442.22V494.83M555.25,442.22h3M555.25,494.83h3M560.3,441.27V493.08M558.8,441.27h3M558.8,493.08h3M563.85,442.17V490.82M562.35,442.17h3M562.35,490.82h3M567.4,439.51V491.64M565.9,439.51h3M565.9,491.64h3M570.95,438.8V489.88M569.45,438.8h3M569.45,489.88h3M574.5,435.21V493.05M573,435.21h3M573,493.05h3M578.05,436.7V489.7M576.55,436.7h3M576.55,489.7h3M581.6,436.65V487.68M580.1,436.65h3M580.1,487.68h3M585.15,434.94V488.37M583.65,434.94h3M583.65,488.37h3M588.7,434.67V487.6M587.2,434.67h3M587.2,487.6h3M592.25,432.88V487.71M590.75,432.88h3M590.75,487.71h3M595.8,433.12V486.32M594.3,433.12h3M594.3,486.32h3M599.35,433.51V483.29M597.85,433.51h3M597.85,483.29h3M602.9,435.06V481.62M601.4,435.06h3M601.4,481.62h3M606.45,429.79V486.56M604.95,429.79h3M604.95,486.56h3M610,431.29V484.16M608.5,431.29h3M608.5,484.16h3M613.55,431.45V483.06M612.05,431.45h3M612.05,483.06h3M617.1,431.04V482.56M615.6,431.04h3M615.6,482.56h3M620.65,431.65V480.12M619.15,431.65h3M619.15,480.12h3M624.2,427.94V482.12M622.7,427.94h3M622.7,482.12h3" stroke="#cf78f5" stroke-opacity="0.5" stroke-width="0.8" fill="none"/>
<path d="M418.3,577.33V578.66M416.8,577.33h3M416.8,578.66h3M421.85,570.64V572.68M420.35,570.64h3M420.35,572.68h3M425.4,564.12V567.13M423.9,564.12h3M423.9,567.13h3M428.95,558.33V561.46M427.45,558.33h3M427.45,561.46h3M432.5,552.31V556.42M431,552.31h3M431,556.42h3M436.05,546.95V551.53M434.55,546.95h3M434.55,551.53h3M439.6,541.77V546.91M438.1,541.77h3M438.1,546.91h3M443.15,536.74V541.96M441.65,536.74h3M441.65,541.96h3M446.7,531.93V537.77M445.2,531.93h3M445.2,537.77h3M450.25,527.6V534.15M448.75,527.6h3M448.75,534.15h3M453.8,523.05V529.64M452.3,523.05h3M452.3,529.64h3M457.35,519.28V526.12M455.85,519.28h3M455.85,526.12h3M460.9,515.1V522.32M459.4,515.1h3M459.4,522.32h3M464.45,511.48V519.1M462.95,511.48h3M462.95,519.1h3M468,507.68V515.82M466.5,507.68h3M466.5,515.82h3M471.55,504.78V512.56M470.05,504.78h3M470.05,512.56h3M475.1,501.58V509.9M473.6,501.58h3M473.6,509.9h3M478.65,498.33V507.34M477.15,498.33h3M477.15,507.34h3M482.2,495.58V504.5M480.7,495.58h3M480.7,504.5h3M485.75,492.54V501.6M484.25,492.54h3M484.25,501.6h3M489.3,489.56V499.1M487.8,489.56h3M487.8,499.1h3M492.85,487.12V496.65M491.35,487.12h3M491.35,496.65h3M496.4,484.26V494.68M494.9,484.26h3M494.9,494.68h3M499.95,482.08V492.25M498.45,482.08h3M498.45,492.25h3M503.5,479.94V490.27M502,479.94h3M502,490.27h3M507.05,477.27V488.73M505.55,477.27h3M505.55,488.73h3M510.6,476.27V485.94M509.1,476.27h3M509.1,485.94h3M514.15,473.77V484.01M512.65,473.77h3M512.65,484.01h3M517.7,472.17V482.34M516.2,472.17h3M516.2,482.34h3M521.25,469.69V481.31M519.75,469.69h3M519.75,481.31h3M524.8,468.71V479.73M523.3,468.71h3M523.3,479.73h3M528.35,466.15V477.18M526.85,466.15h3M526.85,477.18h3M531.9,464.63V475.15M530.4,464.63h3M530.4,475.15h3M535.45,462.72V474.77M533.95,462.72h3M533.95,474.77h3M539,461.79V473.39M537.5,461.79h3M537.5,473.39h3M542.55,459.79V471.78M541.05,459.79h3M541.05,471.78h3M546.1,459.17V470.86M544.6,459.17h3M544.6,470.86h3M549.65,456.54V468.67M548.15,456.54h3M548.15,468.67h3M553.2,456.2V467.71M551.7,456.2h3M551.7,467.71h3M556.75,454.91V466.74M555.25,454.91h3M555.25,466.74h3M560.3,453.2V465.54M558.8,453.2h3M558.8,465.54h3M563.85,452.63V464.18M562.35,452.63h3M562.35,464.18h3M567.4,450.4V462.9M565.9,450.4h3M565.9,462.9h3M570.95,450.12V461.36M569.45,450.12h3M569.45,461.36h3M574.5,449.38V460.8M573,449.38h3M573,460.8h3M578.05,448.27V459.91M576.55,448.27h3M576.55,459.91h3M581.6,447V458.74M580.1,447h3M580.1,458.74h3M585.15,445.8V458.24M583.65,445.8h3M583.65,458.24h3M588.7,443.71V456.7M587.2,443.71h3M587.2,456.7h3M592.25,443.71V456.93M590.75,443.71h3M590.75,456.93h3M595.8,443.39V456.53M594.3,443.39h3M594.3,456.53h3M599.35,441.99V453.85M597.85,441.99h3M597.85,453.85h3M602.9,439.98V452.82M601.4,439.98h3M601.4,452.82h3M606.45,439.51V452.12M604.95,439.51h3M604.95,452.12h3M610,439.06V451.56M608.5,439.06h3M608.5,451.56h3M613.55,437.91V451.63M612.05,437.91h3M612.05,451.63h3M617.1,437.31V451.03M615.6,437.31h3M615.6,451.03h3M620.65,436.53V449.89M619.15,436.53h3M619.15,449.89h3M624.2,435.74V448.44M622.7,435.74h3M622.7,448.44h3" stroke="#8080ff" stroke-opacity="0.7" stroke-width="0.8" fill="none"/>
<path d="M418.3,578.41V579.53M416.8,578.41h3M416.8,579.53h3M421.85,571.77V573.58M420.35,571.77h3M420.35,573.58h3M425.4,565.27V568M423.9,565.27h3M423.9,568h3M428.95,559.56V562.4M427.45,559.56h3M427.45,562.4h3M432.5,553.78V557.52M431,553.78h3M431,557.52h3M436.05,548.49V552.67M434.55,548.49h3M434.55,552.67h3M439.6,543.16V547.88M438.1,543.16h3M438.1,547.88h3M443.15,538.5V543.28M441.65,538.5h3M441.65,543.28h3M446.7,533.75V539.11M445.2,533.75h3M445.2,539.11h3M450.25,529.26V535.29M448.75,529.26h3M448.75,535.29h3M453.8,524.88V530.96M452.3,524.88h3M452.3,530.96h3M457.35,521.34V527.64M455.85,521.34h3M455.85,527.64h3M460.9,517.53V524.15M459.4,517.53h3M459.4,524.15h3M464.45,514.07V521.05M462.95,514.07h3M462.95,521.05h3M468,509.69V517.2M466.5,509.69h3M466.5,517.2h3M471.55,507.29V514.45M470.05,507.29h3M470.05,514.45h3M475.1,503.86V511.54M473.6,503.86h3M473.6,511.54h3M478.65,501.12V509.39M477.15,501.12h3M477.15,509.39h3M482.2,498.54V506.73M480.7,498.54h3M480.7,506.73h3M485.75,495.46V503.78M484.25,495.46h3M484.25,503.78h3M489.3,493.05V501.78M487.8,493.05h3M487.8,501.78h3M492.85,490.39V499.13M491.35,490.39h3M491.35,499.13h3M496.4,487.96V497.5M494.9,487.96h3M494.9,497.5h3M499.95,486.3V495.59M498.45,486.3h3M498.45,495.59h3M503.5,483.74V493.19M502,483.74h3M502,493.19h3M507.05,481.9V492.33M505.55,481.9h3M505.55,492.33h3M510.6,480.79V489.6M509.1,480.79h3M509.1,489.6h3M514.15,478.57V487.89M512.65,478.57h3M512.65,487.89h3M517.7,476.93V486.2M516.2,476.93h3M516.2,486.2h3M521.25,475.11V485.65M519.75,475.11h3M519.75,485.65h3M524.8,473.22V483.29M523.3,473.22h3M523.3,483.29h3M528.35,471.78V481.79M526.85,471.78h3M526.85,481.79h3M531.9,470.26V479.81M530.4,470.26h3M530.4,479.81h3M535.45,468.44V479.38M533.95,468.44h3M533.95,479.38h3M539,467.85V478.35M537.5,467.85h3M537.5,478.35h3M542.55,465.83V476.7M541.05,465.83h3M541.05,476.7h3M546.1,465.41V475.99M544.6,465.41h3M544.6,475.99h3M549.65,464.26V475.15M548.15,464.26h3M548.15,475.15h3M553.2,462.96V473.36M551.7,462.96h3M551.7,473.36h3M556.75,461.6V472.29M555.25,461.6h3M555.25,472.29h3M560.3,460.7V471.8M558.8,460.7h3M558.8,471.8h3M563.85,459.82V470.23M562.35,459.82h3M562.35,470.23h3M567.4,458.27V469.51M565.9,458.27h3M565.9,469.51h3M570.95,458.56V468.62M569.45,458.56h3M569.45,468.62h3M574.5,457.1V467.37M573,457.1h3M573,467.37h3M578.05,456.15V466.61M576.55,456.15h3M576.55,466.61h3M581.6,455.41V465.93M580.1,455.41h3M580.1,465.93h3M585.15,454.04V465.21M583.65,454.04h3M583.65,465.21h3M588.7,453.86V465.39M587.2,453.86h3M587.2,465.39h3M592.25,452.99V464.8M590.75,452.99h3M590.75,464.8h3M595.8,451.45V463.27M594.3,451.45h3M594.3,463.27h3M599.35,452.21V462.74M597.85,452.21h3M597.85,462.74h3M602.9,450.78V462.15M601.4,450.78h3M601.4,462.15h3M606.45,450.68V461.83M604.95,450.68h3M604.95,461.83h3M610,449.85V460.94M608.5,449.85h3M608.5,460.94h3M613.55,448.73V460.9M612.05,448.73h3M612.05,460.9h3M617.1,448.31V460.47M615.6,448.31h3M615.6,460.47h3M620.65,447.71V459.53M619.15,447.71h3M619.15,459.53h3M624.2,447.62V458.82M622.7,447.62h3M622.7,458.82h3" stroke="#e8782e" stroke-opacity="0.8" stroke-width="0.8" fill="none"/>
<path d="M418.3,580.96V582.7M416.8,580.96h3M416.8,582.7h3M421.85,574.01V576.8M420.35,574.01h3M420.35,576.8h3M425.4,567.4V571.18M423.9,567.4h3M423.9,571.18h3M428.95,561.42V565.66M427.45,561.42h3M427.45,565.66h3M432.5,555.9V560.43M431,555.9h3M431,560.43h3M436.05,550.48V555.74M434.55,550.48h3M434.55,555.74h3M439.6,545.3V551.19M438.1,545.3h3M438.1,551.19h3M443.15,540.97V546.71M441.65,540.97h3M441.65,546.71h3M446.7,535.74V542.76M445.2,535.74h3M445.2,542.76h3M450.25,531.79V539.15M448.75,531.79h3M448.75,539.15h3M453.8,528.03V534.63M452.3,528.03h3M452.3,534.63h3M457.35,524.42V531.87M455.85,524.42h3M455.85,531.87h3M460.9,520.61V528.6M459.4,520.61h3M459.4,528.6h3M464.45,517.29V525.18M462.95,517.29h3M462.95,525.18h3M468,514.08V522.55M466.5,514.08h3M466.5,522.55h3M471.55,511.39V519.2M470.05,511.39h3M470.05,519.2h3M475.1,508V517.08M473.6,508h3M473.6,517.08h3M478.65,504.97V514.36M477.15,504.97h3M477.15,514.36h3M482.2,502.94V512.13M480.7,502.94h3M480.7,512.13h3M485.75,500.05V510.02M484.25,500.05h3M484.25,510.02h3M489.3,498V507.75M487.8,498h3M487.8,507.75h3M492.85,495.63V505.62M491.35,495.63h3M491.35,505.62h3M496.4,494.4V502.93M494.9,494.4h3M494.9,502.93h3M499.95,492.1V501.88M498.45,492.1h3M498.45,501.88h3M503.5,489.54V500.6M502,489.54h3M502,500.6h3M507.05,488.79V498.43M505.55,488.79h3M505.55,498.43h3M510.6,487.31V496.22M509.1,487.31h3M509.1,496.22h3M514.15,485.21V494.95M512.65,485.21h3M512.65,494.95h3M517.7,483.49V493.53M516.2,483.49h3M516.2,493.53h3M521.25,481.88V491.53M519.75,481.88h3M519.75,491.53h3M524.8,480.58V490.97M523.3,480.58h3M523.3,490.97h3M528.35,479.17V489.71M526.85,479.17h3M526.85,489.71h3M531.9,477.84V488.83M530.4,477.84h3M530.4,488.83h3M535.45,476.9V487.42M533.95,476.9h3M533.95,487.42h3M539,475.2V485.32M537.5,475.2h3M537.5,485.32h3M542.55,473.86V485.14M541.05,473.86h3M541.05,485.14h3M546.1,473.8V483.98M544.6,473.8h3M544.6,483.98h3M549.65,472.48V483.19M548.15,472.48h3M548.15,483.19h3M553.2,470.26V481.58M551.7,470.26h3M551.7,481.58h3M556.75,470.08V481.19M555.25,470.08h3M555.25,481.19h3M560.3,468.78V479.94M558.8,468.78h3M558.8,479.94h3M563.85,468.49V479.85M562.35,468.49h3M562.35,479.85h3M567.4,467.62V479.03M565.9,467.62h3M565.9,479.03h3M570.95,465.89V477.54M569.45,465.89h3M569.45,477.54h3M574.5,465.92V477.07M573,465.92h3M573,477.07h3M578.05,465.57V476.34M576.55,465.57h3M576.55,476.34h3M581.6,463.71V475.01M580.1,463.71h3M580.1,475.01h3M585.15,463.45V474.91M583.65,463.45h3M583.65,474.91h3M588.7,462.28V474.81M587.2,462.28h3M587.2,474.81h3M592.25,461.69V472.97M590.75,461.69h3M590.75,472.97h3M595.8,460.96V472.7M594.3,460.96h3M594.3,472.7h3M599.35,460.24V471.24M597.85,460.24h3M597.85,471.24h3M602.9,459.41V471.5M601.4,459.41h3M601.4,471.5h3M606.45,459.47V470.34M604.95,459.47h3M604.95,470.34h3M610,457.92V471.09M608.5,457.92h3M608.5,471.09h3M613.55,457.44V469.8M612.05,457.44h3M612.05,469.8h3M617.1,457.74V469.04M615.6,457.74h3M615.6,469.04h3M620.65,456.94V467.7M619.15,456.94h3M619.15,467.7h3M624.2,456.22V467.65M622.7,456.22h3M622.7,467.65h3" stroke="#80e870" stroke-opacity="0.6" stroke-width="0.8" fill="none"/>
<path d="M418.3,574.73V584.81M416.8,574.73h3M416.8,584.81h3M421.85,567.34V580.35M420.35,567.34h3M420.35,580.35h3M425.4,560.22V576.42M423.9,560.22h3M423.9,576.42h3M428.95,554.45V571.81M427.45,554.45h3M427.45,571.81h3M432.5,549.38V567.32M431,549.38h3M431,567.32h3M436.05,543.57V563.9M434.55,543.57h3M434.55,563.9h3M439.6,538.46V560.72M438.1,538.46h3M438.1,560.72h3M443.15,535.14V556.48M441.65,535.14h3M441.65,556.48h3M446.7,529.01V554.71M445.2,529.01h3M445.2,554.71h3M450.25,524.89V551.64M448.75,524.89h3M448.75,551.64h3M453.8,523.15V546.8M452.3,523.15h3M452.3,546.8h3M457.35,518.58V545.19M455.85,518.58h3M455.85,545.19h3M460.9,514.9V543.14M459.4,514.9h3M459.4,543.14h3M464.45,512.61V540.22M462.95,512.61h3M462.95,540.22h3M468,509.06V538.55M466.5,509.06h3M466.5,538.55h3M471.55,507.4V534.49M470.05,507.4h3M470.05,534.49h3M475.1,503.17V534.44M473.6,503.17h3M473.6,534.44h3M478.65,499.94V532.2M477.15,499.94h3M477.15,532.2h3M482.2,498.9V530.28M480.7,498.9h3M480.7,530.28h3M485.75,495.22V529.19M484.25,495.22h3M484.25,529.19h3M489.3,493.83V526.93M487.8,493.83h3M487.8,526.93h3M492.85,491.83V525.57M491.35,491.83h3M491.35,525.57h3M496.4,492.22V521.05M494.9,492.22h3M494.9,521.05h3M499.95,488.49V521.46M498.45,488.49h3M498.45,521.46h3M503.5,484.97V522.14M502,484.97h3M502,522.14h3M507.05,485.71V518.1M505.55,485.71h3M505.55,518.1h3M510.6,485.31V515.18M509.1,485.31h3M509.1,515.18h3M514.15,482.69V515.24M512.65,482.69h3M512.65,515.24h3M517.7,481.05V514.49M516.2,481.05h3M516.2,514.49h3M521.25,480.3V512.35M519.75,480.3h3M519.75,512.35h3M524.8,478.02V512.55M523.3,478.02h3M523.3,512.55h3M528.35,476.09V511.14M526.85,476.09h3M526.85,511.14h3M531.9,474.31V510.84M530.4,474.31h3M530.4,510.84h3M535.45,474.21V509.12M533.95,474.21h3M533.95,509.12h3M539,474.04V507.43M537.5,474.04h3M537.5,507.43h3M542.55,471.12V508.37M541.05,471.12h3M541.05,508.37h3M546.1,471.34V505.1M544.6,471.34h3M544.6,505.1h3M549.65,469.48V504.97M548.15,469.48h3M548.15,504.97h3M553.2,467.7V504.99M551.7,467.7h3M551.7,504.99h3M556.75,466.56V503.35M555.25,466.56h3M555.25,503.35h3M560.3,466.54V503.23M558.8,466.54h3M558.8,503.23h3M563.85,465.11V502.63M562.35,465.11h3M562.35,502.63h3M567.4,464.09V501.75M565.9,464.09h3M565.9,501.75h3M570.95,462.84V501.15M569.45,462.84h3M569.45,501.15h3M574.5,463.08V499.81M573,463.08h3M573,499.81h3M578.05,462.32V497.93M576.55,462.32h3M576.55,497.93h3M581.6,461.22V498.33M580.1,461.22h3M580.1,498.33h3M585.15,460.9V498.49M583.65,460.9h3M583.65,498.49h3M588.7,457.74V499M587.2,457.74h3M587.2,499h3M592.25,458.77V495.84M590.75,458.77h3M590.75,495.84h3M595.8,458.06V496.56M594.3,458.06h3M594.3,496.56h3M599.35,458.45V494.46M597.85,458.45h3M597.85,494.46h3M602.9,456.13V495.73M601.4,456.13h3M601.4,495.73h3M606.45,457.49V493.11M604.95,457.49h3M604.95,493.11h3M610,453.16V496.34M608.5,453.16h3M608.5,496.34h3M613.55,454.3V494.7M612.05,454.3h3M612.05,494.7h3M617.1,455.36V492.35M615.6,455.36h3M615.6,492.35h3M620.65,455.76V490.86M619.15,455.76h3M619.15,490.86h3M624.2,454.13V491.44M622.7,454.13h3M622.7,491.44h3" stroke="#ff7c7c" stroke-opacity="0.65" stroke-width="0.8" fill="none"/>
<polyline points="418.3,579.77 421.85,573.84 425.4,568.32 428.95,563.13 432.5,558.35 436.05,553.74 439.6,549.59 443.15,545.81 446.7,541.86 450.25,538.26 453.8,534.98 457.35,531.88 460.9,529.02 464.45,526.41 468,523.8 471.55,520.95 475.1,518.81 478.65,516.07 482.2,514.59 485.75,512.21 489.3,510.38 492.85,508.7 496.4,506.64 499.95,504.98 503.5,503.56 507.05,501.91 510.6,500.25 514.15,498.97 517.7,497.77 521.25,496.33 524.8,495.29 528.35,493.61 531.9,492.58 535.45,491.66 539,490.73 542.55,489.75 546.1,488.22 549.65,487.22 553.2,486.34 556.75,484.95 560.3,484.88 563.85,483.87 567.4,482.92 570.95,482 574.5,481.44 578.05,480.13 581.6,479.78 585.15,479.7 588.7,478.37 592.25,477.31 595.8,477.31 599.35,476.46 602.9,475.93 606.45,475.3 610,474.75 613.55,474.5 617.1,473.86 620.65,473.31 624.2,472.79" fill="none" stroke="#ff2424" stroke-width="1.8" stroke-linejoin="round" stroke-linecap="round"/>
<rect x="416.55" y="578.02" width="3.5" height="3.5" fill="#ff2424"/>
<rect x="420.1" y="572.09" width="3.5" height="3.5" fill="#ff2424"/>
<rect x="423.65" y="566.57" width="3.5" height="3.5" fill="#ff2424"/>
<rect x="427.2" y="561.38" width="3.5" height="3.5" fill="#ff2424"/>
<rect x="430.75" y="556.6" width="3.5" height="3.5" fill="#ff2424"/>
<rect x="434.3" y="551.99" width="3.5" height="3.5" fill="#ff2424"/>
<rect x="437.85" y="547.84" width="3.5" height="3.5" fill="#ff2424"/>
<rect x="441.4" y="544.06" width="3.5" height="3.5" fill="#ff2424"/>
<rect x="444.95" y="540.11" width="3.5" height="3.5" fill="#ff2424"/>
<rect x="448.5" y="536.51" width="3.5" height="3.5" fill="#ff2424"/>
<rect x="452.05" y="533.23" width="3.5" height="3.5" fill="#ff2424"/>
<rect x="455.6" y="530.13" width="3.5" height="3.5" fill="#ff2424"/>
<rect x="459.15" y="527.27" width="3.5" height="3.5" fill="#ff2424"/>
<rect x="462.7" y="524.66" width="3.5" height="3.5" fill="#ff2424"/>
<rect x="466.25" y="522.05" width="3.5" height="3.5" fill="#ff2424"/>
<rect x="469.8" y="519.2" width="3.5" height="3.5" fill="#ff2424"/>
<rect x="473.35" y="517.06" width="3.5" height="3.5" fill="#ff2424"/>
<rect x="476.9" y="514.32" width="3.5" height="3.5" fill="#ff2424"/>
<rect x="480.45" y="512.84" width="3.5" height="3.5" fill="#ff2424"/>
<rect x="484" y="510.46" width="3.5" height="3.5" fill="#ff2424"/>
<rect x="487.55" y="508.63" width="3.5" height="3.5" fill="#ff2424"/>
<rect x="491.1" y="506.95" width="3.5" height="3.5" fill="#ff2424"/>
<rect x="494.65" y="504.89" width="3.5" height="3.5" fill="#ff2424"/>
<rect x="498.2" y="503.23" width="3.5" height="3.5" fill="#ff2424"/>
<rect x="501.75" y="501.81" width="3.5" height="3.5" fill="#ff2424"/>
<rect x="505.3" y="500.16" width="3.5" height="3.5" fill="#ff2424"/>
<rect x="508.85" y="498.5" width="3.5" height="3.5" fill="#ff2424"/>
<rect x="512.4" y="497.22" width="3.5" height="3.5" fill="#ff2424"/>
<rect x="515.95" y="496.02" width="3.5" height="3.5" fill="#ff2424"/>
<rect x="519.5" y="494.58" width="3.5" height="3.5" fill="#ff2424"/>
<rect x="523.05" y="493.54" width="3.5" height="3.5" fill="#ff2424"/>
<rect x="526.6" y="491.86" width="3.5" height="3.5" fill="#ff2424"/>
<rect x="530.15" y="490.83" width="3.5" height="3.5" fill="#ff2424"/>
<rect x="533.7" y="489.91" width="3.5" height="3.5" fill="#ff2424"/>
<rect x="537.25" y="488.98" width="3.5" height="3.5" fill="#ff2424"/>
<rect x="540.8" y="488" width="3.5" height="3.5" fill="#ff2424"/>
<rect x="544.35" y="486.47" width="3.5" height="3.5" fill="#ff2424"/>
<rect x="547.9" y="485.47" width="3.5" height="3.5" fill="#ff2424"/>
<rect x="551.45" y="484.59" width="3.5" height="3.5" fill="#ff2424"/>
<rect x="555" y="483.2" width="3.5" height="3.5" fill="#ff2424"/>
<rect x="558.55" y="483.13" width="3.5" height="3.5" fill="#ff2424"/>
<rect x="562.1" y="482.12" width="3.5" height="3.5" fill="#ff2424"/>
<rect x="565.65" y="481.17" width="3.5" height="3.5" fill="#ff2424"/>
<rect x="569.2" y="480.25" width="3.5" height="3.5" fill="#ff2424"/>
<rect x="572.75" y="479.69" width="3.5" height="3.5" fill="#ff2424"/>
<rect x="576.3" y="478.38" width="3.5" height="3.5" fill="#ff2424"/>
<rect x="579.85" y="478.03" width="3.5" height="3.5" fill="#ff2424"/>
<rect x="583.4" y="477.95" width="3.5" height="3.5" fill="#ff2424"/>
<rect x="586.95" y="476.62" width="3.5" height="3.5" fill="#ff2424"/>
<rect x="590.5" y="475.56" width="3.5" height="3.5" fill="#ff2424"/>
<rect x="594.05" y="475.56" width="3.5" height="3.5" fill="#ff2424"/>
<rect x="597.6" y="474.71" width="3.5" height="3.5" fill="#ff2424"/>
<rect x="601.15" y="474.18" width="3.5" height="3.5" fill="#ff2424"/>
<rect x="604.7" y="473.55" width="3.5" height="3.5" fill="#ff2424"/>
<rect x="608.25" y="473" width="3.5" height="3.5" fill="#ff2424"/>
<rect x="611.8" y="472.75" width="3.5" height="3.5" fill="#ff2424"/>
<rect x="615.35" y="472.11" width="3.5" height="3.5" fill="#ff2424"/>
<rect x="618.9" y="471.56" width="3.5" height="3.5" fill="#ff2424"/>
<rect x="622.45" y="471.04" width="3.5" height="3.5" fill="#ff2424"/>
<polyline points="418.3,578.97 421.85,572.67 425.4,566.64 428.95,560.98 432.5,555.65 436.05,550.58 439.6,545.52 443.15,540.89 446.7,536.43 450.25,532.28 453.8,527.92 457.35,524.49 460.9,520.84 464.45,517.56 468,513.45 471.55,510.87 475.1,507.7 478.65,505.26 482.2,502.63 485.75,499.62 489.3,497.42 492.85,494.76 496.4,492.73 499.95,490.94 503.5,488.46 507.05,487.12 510.6,485.19 514.15,483.23 517.7,481.56 521.25,480.38 524.8,478.26 528.35,476.78 531.9,475.04 535.45,473.91 539,473.1 542.55,471.27 546.1,470.7 549.65,469.7 553.2,468.16 556.75,466.94 560.3,466.25 563.85,465.02 567.4,463.89 570.95,463.59 574.5,462.24 578.05,461.38 581.6,460.67 585.15,459.62 588.7,459.62 592.25,458.89 595.8,457.36 599.35,457.47 602.9,456.47 606.45,456.25 610,455.4 613.55,454.81 617.1,454.39 620.65,453.62 624.2,453.22" fill="none" stroke="#f2772a" stroke-width="1.4" stroke-linejoin="round" stroke-linecap="round"/>
<path d="M418.3,577.37V580.57" stroke="#f2772a" stroke-width="1"/>
<path d="M421.85,571.07V574.27" stroke="#f2772a" stroke-width="1"/>
<path d="M425.4,565.04V568.24" stroke="#f2772a" stroke-width="1"/>
<path d="M428.95,559.38V562.58" stroke="#f2772a" stroke-width="1"/>
<path d="M432.5,554.05V557.25" stroke="#f2772a" stroke-width="1"/>
<path d="M436.05,548.98V552.18" stroke="#f2772a" stroke-width="1"/>
<path d="M439.6,543.92V547.12" stroke="#f2772a" stroke-width="1"/>
<path d="M443.15,539.29V542.49" stroke="#f2772a" stroke-width="1"/>
<path d="M446.7,534.83V538.03" stroke="#f2772a" stroke-width="1"/>
<path d="M450.25,530.68V533.88" stroke="#f2772a" stroke-width="1"/>
<path d="M453.8,526.32V529.52" stroke="#f2772a" stroke-width="1"/>
<path d="M457.35,522.89V526.09" stroke="#f2772a" stroke-width="1"/>
<path d="M460.9,519.24V522.44" stroke="#f2772a" stroke-width="1"/>
<path d="M464.45,515.96V519.16" stroke="#f2772a" stroke-width="1"/>
<path d="M468,511.85V515.05" stroke="#f2772a" stroke-width="1"/>
<path d="M471.55,509.27V512.47" stroke="#f2772a" stroke-width="1"/>
<path d="M475.1,506.1V509.3" stroke="#f2772a" stroke-width="1"/>
<path d="M478.65,503.66V506.86" stroke="#f2772a" stroke-width="1"/>
<path d="M482.2,501.03V504.23" stroke="#f2772a" stroke-width="1"/>
<path d="M485.75,498.02V501.22" stroke="#f2772a" stroke-width="1"/>
<path d="M489.3,495.82V499.02" stroke="#f2772a" stroke-width="1"/>
<path d="M492.85,493.16V496.36" stroke="#f2772a" stroke-width="1"/>
<path d="M496.4,491.13V494.33" stroke="#f2772a" stroke-width="1"/>
<path d="M499.95,489.34V492.54" stroke="#f2772a" stroke-width="1"/>
<path d="M503.5,486.86V490.06" stroke="#f2772a" stroke-width="1"/>
<path d="M507.05,485.52V488.72" stroke="#f2772a" stroke-width="1"/>
<path d="M510.6,483.59V486.79" stroke="#f2772a" stroke-width="1"/>
<path d="M514.15,481.63V484.83" stroke="#f2772a" stroke-width="1"/>
<path d="M517.7,479.96V483.16" stroke="#f2772a" stroke-width="1"/>
<path d="M521.25,478.78V481.98" stroke="#f2772a" stroke-width="1"/>
<path d="M524.8,476.66V479.86" stroke="#f2772a" stroke-width="1"/>
<path d="M528.35,475.18V478.38" stroke="#f2772a" stroke-width="1"/>
<path d="M531.9,473.44V476.64" stroke="#f2772a" stroke-width="1"/>
<path d="M535.45,472.31V475.51" stroke="#f2772a" stroke-width="1"/>
<path d="M539,471.5V474.7" stroke="#f2772a" stroke-width="1"/>
<path d="M542.55,469.67V472.87" stroke="#f2772a" stroke-width="1"/>
<path d="M546.1,469.1V472.3" stroke="#f2772a" stroke-width="1"/>
<path d="M549.65,468.1V471.3" stroke="#f2772a" stroke-width="1"/>
<path d="M553.2,466.56V469.76" stroke="#f2772a" stroke-width="1"/>
<path d="M556.75,465.34V468.54" stroke="#f2772a" stroke-width="1"/>
<path d="M560.3,464.65V467.85" stroke="#f2772a" stroke-width="1"/>
<path d="M563.85,463.42V466.62" stroke="#f2772a" stroke-width="1"/>
<path d="M567.4,462.29V465.49" stroke="#f2772a" stroke-width="1"/>
<path d="M570.95,461.99V465.19" stroke="#f2772a" stroke-width="1"/>
<path d="M574.5,460.64V463.84" stroke="#f2772a" stroke-width="1"/>
<path d="M578.05,459.78V462.98" stroke="#f2772a" stroke-width="1"/>
<path d="M581.6,459.07V462.27" stroke="#f2772a" stroke-width="1"/>
<path d="M585.15,458.02V461.22" stroke="#f2772a" stroke-width="1"/>
<path d="M588.7,458.02V461.22" stroke="#f2772a" stroke-width="1"/>
<path d="M592.25,457.29V460.49" stroke="#f2772a" stroke-width="1"/>
<path d="M595.8,455.76V458.96" stroke="#f2772a" stroke-width="1"/>
<path d="M599.35,455.87V459.07" stroke="#f2772a" stroke-width="1"/>
<path d="M602.9,454.87V458.07" stroke="#f2772a" stroke-width="1"/>
<path d="M606.45,454.65V457.85" stroke="#f2772a" stroke-width="1"/>
<path d="M610,453.8V457" stroke="#f2772a" stroke-width="1"/>
<path d="M613.55,453.21V456.41" stroke="#f2772a" stroke-width="1"/>
<path d="M617.1,452.79V455.99" stroke="#f2772a" stroke-width="1"/>
<path d="M620.65,452.02V455.22" stroke="#f2772a" stroke-width="1"/>
<path d="M624.2,451.62V454.82" stroke="#f2772a" stroke-width="1"/>
<polyline points="418.3,581.83 421.85,575.4 425.4,569.29 428.95,563.54 432.5,558.17 436.05,553.11 439.6,548.24 443.15,543.84 446.7,539.25 450.25,535.47 453.8,531.33 457.35,528.15 460.9,524.61 464.45,521.23 468,518.31 471.55,515.3 475.1,512.54 478.65,509.66 482.2,507.54 485.75,505.03 489.3,502.88 492.85,500.62 496.4,498.66 499.95,496.99 503.5,495.07 507.05,493.61 510.6,491.76 514.15,490.08 517.7,488.51 521.25,486.71 524.8,485.77 528.35,484.44 531.9,483.33 535.45,482.16 539,480.26 542.55,479.5 546.1,478.89 549.65,477.84 553.2,475.92 556.75,475.63 560.3,474.36 563.85,474.17 567.4,473.33 570.95,471.72 574.5,471.49 578.05,470.96 581.6,469.36 585.15,469.18 588.7,468.54 592.25,467.33 595.8,466.83 599.35,465.74 602.9,465.46 606.45,464.9 610,464.5 613.55,463.62 617.1,463.39 620.65,462.32 624.2,461.94" fill="none" stroke="#3fe022" stroke-width="1.6" stroke-linejoin="round" stroke-linecap="round"/>
<path d="M418.3,580.13L420,583.19L416.6,583.19Z" fill="#3fe022"/>
<path d="M421.85,573.7L423.55,576.76L420.15,576.76Z" fill="#3fe022"/>
<path d="M425.4,567.59L427.1,570.65L423.7,570.65Z" fill="#3fe022"/>
<path d="M428.95,561.84L430.65,564.9L427.25,564.9Z" fill="#3fe022"/>
<path d="M432.5,556.47L434.2,559.53L430.8,559.53Z" fill="#3fe022"/>
<path d="M436.05,551.41L437.75,554.47L434.35,554.47Z" fill="#3fe022"/>
<path d="M439.6,546.54L441.3,549.6L437.9,549.6Z" fill="#3fe022"/>
<path d="M443.15,542.14L444.85,545.2L441.45,545.2Z" fill="#3fe022"/>
<path d="M446.7,537.55L448.4,540.61L445,540.61Z" fill="#3fe022"/>
<path d="M450.25,533.77L451.95,536.83L448.55,536.83Z" fill="#3fe022"/>
<path d="M453.8,529.63L455.5,532.69L452.1,532.69Z" fill="#3fe022"/>
<path d="M457.35,526.45L459.05,529.51L455.65,529.51Z" fill="#3fe022"/>
<path d="M460.9,522.91L462.6,525.97L459.2,525.97Z" fill="#3fe022"/>
<path d="M464.45,519.53L466.15,522.59L462.75,522.59Z" fill="#3fe022"/>
<path d="M468,516.61L469.7,519.67L466.3,519.67Z" fill="#3fe022"/>
<path d="M471.55,513.6L473.25,516.66L469.85,516.66Z" fill="#3fe022"/>
<path d="M475.1,510.84L476.8,513.9L473.4,513.9Z" fill="#3fe022"/>
<path d="M478.65,507.96L480.35,511.02L476.95,511.02Z" fill="#3fe022"/>
<path d="M482.2,505.84L483.9,508.9L480.5,508.9Z" fill="#3fe022"/>
<path d="M485.75,503.33L487.45,506.39L484.05,506.39Z" fill="#3fe022"/>
<path d="M489.3,501.18L491,504.24L487.6,504.24Z" fill="#3fe022"/>
<path d="M492.85,498.92L494.55,501.98L491.15,501.98Z" fill="#3fe022"/>
<path d="M496.4,496.96L498.1,500.02L494.7,500.02Z" fill="#3fe022"/>
<path d="M499.95,495.29L501.65,498.35L498.25,498.35Z" fill="#3fe022"/>
<path d="M503.5,493.37L505.2,496.43L501.8,496.43Z" fill="#3fe022"/>
<path d="M507.05,491.91L508.75,494.97L505.35,494.97Z" fill="#3fe022"/>
<path d="M510.6,490.06L512.3,493.12L508.9,493.12Z" fill="#3fe022"/>
<path d="M514.15,488.38L515.85,491.44L512.45,491.44Z" fill="#3fe022"/>
<path d="M517.7,486.81L519.4,489.87L516,489.87Z" fill="#3fe022"/>
<path d="M521.25,485.01L522.95,488.07L519.55,488.07Z" fill="#3fe022"/>
<path d="M524.8,484.07L526.5,487.13L523.1,487.13Z" fill="#3fe022"/>
<path d="M528.35,482.74L530.05,485.8L526.65,485.8Z" fill="#3fe022"/>
<path d="M531.9,481.63L533.6,484.69L530.2,484.69Z" fill="#3fe022"/>
<path d="M535.45,480.46L537.15,483.52L533.75,483.52Z" fill="#3fe022"/>
<path d="M539,478.56L540.7,481.62L537.3,481.62Z" fill="#3fe022"/>
<path d="M542.55,477.8L544.25,480.86L540.85,480.86Z" fill="#3fe022"/>
<path d="M546.1,477.19L547.8,480.25L544.4,480.25Z" fill="#3fe022"/>
<path d="M549.65,476.14L551.35,479.2L547.95,479.2Z" fill="#3fe022"/>
<path d="M553.2,474.22L554.9,477.28L551.5,477.28Z" fill="#3fe022"/>
<path d="M556.75,473.93L558.45,476.99L555.05,476.99Z" fill="#3fe022"/>
<path d="M560.3,472.66L562,475.72L558.6,475.72Z" fill="#3fe022"/>
<path d="M563.85,472.47L565.55,475.53L562.15,475.53Z" fill="#3fe022"/>
<path d="M567.4,471.63L569.1,474.69L565.7,474.69Z" fill="#3fe022"/>
<path d="M570.95,470.02L572.65,473.08L569.25,473.08Z" fill="#3fe022"/>
<path d="M574.5,469.79L576.2,472.85L572.8,472.85Z" fill="#3fe022"/>
<path d="M578.05,469.26L579.75,472.32L576.35,472.32Z" fill="#3fe022"/>
<path d="M581.6,467.66L583.3,470.72L579.9,470.72Z" fill="#3fe022"/>
<path d="M585.15,467.48L586.85,470.54L583.45,470.54Z" fill="#3fe022"/>
<path d="M588.7,466.84L590.4,469.9L587,469.9Z" fill="#3fe022"/>
<path d="M592.25,465.63L593.95,468.69L590.55,468.69Z" fill="#3fe022"/>
<path d="M595.8,465.13L597.5,468.19L594.1,468.19Z" fill="#3fe022"/>
<path d="M599.35,464.04L601.05,467.1L597.65,467.1Z" fill="#3fe022"/>
<path d="M602.9,463.76L604.6,466.82L601.2,466.82Z" fill="#3fe022"/>
<path d="M606.45,463.2L608.15,466.26L604.75,466.26Z" fill="#3fe022"/>
<path d="M610,462.8L611.7,465.86L608.3,465.86Z" fill="#3fe022"/>
<path d="M613.55,461.92L615.25,464.98L611.85,464.98Z" fill="#3fe022"/>
<path d="M617.1,461.69L618.8,464.75L615.4,464.75Z" fill="#3fe022"/>
<path d="M620.65,460.62L622.35,463.68L618.95,463.68Z" fill="#3fe022"/>
<path d="M624.2,460.24L625.9,463.3L622.5,463.3Z" fill="#3fe022"/>
<polyline points="418.3,579.03 421.85,572.7 425.4,566.7 428.95,560.98 432.5,555.36 436.05,550.47 439.6,545.35 443.15,540.76 446.7,536.34 450.25,532.17 453.8,528.2 457.35,524.38 460.9,520.78 464.45,517.51 468,514.17 471.55,511.09 475.1,508.2 478.65,505.45 482.2,502.93 485.75,500.11 489.3,497.76 492.85,495.16 496.4,492.91 499.95,491.04 503.5,489.42 507.05,487.12 510.6,485.19 514.15,483.47 517.7,482.53 521.25,480.14 524.8,478.79 528.35,477.49 531.9,476.06 535.45,474.38 539,473.48 542.55,472.72 546.1,470.89 549.65,470.14 553.2,469.48 556.75,468.52 560.3,467.17 563.85,466.49 567.4,465.58 570.95,464.34 574.5,464.13 578.05,463.2 581.6,462.16 585.15,461.66 588.7,461.13 592.25,460.29 595.8,459.72 599.35,458.4 602.9,458.34 606.45,458.17 610,457.72 613.55,457.25 617.1,456.8 620.65,455.89 624.2,455.03" fill="none" stroke="#c628f5" stroke-width="1.6" stroke-linejoin="round" stroke-linecap="round"/>
<path d="M418.3,577.33L420,580.39L416.6,580.39Z" fill="#c628f5"/>
<path d="M421.85,571L423.55,574.06L420.15,574.06Z" fill="#c628f5"/>
<path d="M425.4,565L427.1,568.06L423.7,568.06Z" fill="#c628f5"/>
<path d="M428.95,559.28L430.65,562.34L427.25,562.34Z" fill="#c628f5"/>
<path d="M432.5,553.66L434.2,556.72L430.8,556.72Z" fill="#c628f5"/>
<path d="M436.05,548.77L437.75,551.83L434.35,551.83Z" fill="#c628f5"/>
<path d="M439.6,543.65L441.3,546.71L437.9,546.71Z" fill="#c628f5"/>
<path d="M443.15,539.06L444.85,542.12L441.45,542.12Z" fill="#c628f5"/>
<path d="M446.7,534.64L448.4,537.7L445,537.7Z" fill="#c628f5"/>
<path d="M450.25,530.47L451.95,533.53L448.55,533.53Z" fill="#c628f5"/>
<path d="M453.8,526.5L455.5,529.56L452.1,529.56Z" fill="#c628f5"/>
<path d="M457.35,522.68L459.05,525.74L455.65,525.74Z" fill="#c628f5"/>
<path d="M460.9,519.08L462.6,522.14L459.2,522.14Z" fill="#c628f5"/>
<path d="M464.45,515.81L466.15,518.87L462.75,518.87Z" fill="#c628f5"/>
<path d="M468,512.47L469.7,515.53L466.3,515.53Z" fill="#c628f5"/>
<path d="M471.55,509.39L473.25,512.45L469.85,512.45Z" fill="#c628f5"/>
<path d="M475.1,506.5L476.8,509.56L473.4,509.56Z" fill="#c628f5"/>
<path d="M478.65,503.75L480.35,506.81L476.95,506.81Z" fill="#c628f5"/>
<path d="M482.2,501.23L483.9,504.29L480.5,504.29Z" fill="#c628f5"/>
<path d="M485.75,498.41L487.45,501.47L484.05,501.47Z" fill="#c628f5"/>
<path d="M489.3,496.06L491,499.12L487.6,499.12Z" fill="#c628f5"/>
<path d="M492.85,493.46L494.55,496.52L491.15,496.52Z" fill="#c628f5"/>
<path d="M496.4,491.21L498.1,494.27L494.7,494.27Z" fill="#c628f5"/>
<path d="M499.95,489.34L501.65,492.4L498.25,492.4Z" fill="#c628f5"/>
<path d="M503.5,487.72L505.2,490.78L501.8,490.78Z" fill="#c628f5"/>
<path d="M507.05,485.42L508.75,488.48L505.35,488.48Z" fill="#c628f5"/>
<path d="M510.6,483.49L512.3,486.55L508.9,486.55Z" fill="#c628f5"/>
<path d="M514.15,481.77L515.85,484.83L512.45,484.83Z" fill="#c628f5"/>
<path d="M517.7,480.83L519.4,483.89L516,483.89Z" fill="#c628f5"/>
<path d="M521.25,478.44L522.95,481.5L519.55,481.5Z" fill="#c628f5"/>
<path d="M524.8,477.09L526.5,480.15L523.1,480.15Z" fill="#c628f5"/>
<path d="M528.35,475.79L530.05,478.85L526.65,478.85Z" fill="#c628f5"/>
<path d="M531.9,474.36L533.6,477.42L530.2,477.42Z" fill="#c628f5"/>
<path d="M535.45,472.68L537.15,475.74L533.75,475.74Z" fill="#c628f5"/>
<path d="M539,471.78L540.7,474.84L537.3,474.84Z" fill="#c628f5"/>
<path d="M542.55,471.02L544.25,474.08L540.85,474.08Z" fill="#c628f5"/>
<path d="M546.1,469.19L547.8,472.25L544.4,472.25Z" fill="#c628f5"/>
<path d="M549.65,468.44L551.35,471.5L547.95,471.5Z" fill="#c628f5"/>
<path d="M553.2,467.78L554.9,470.84L551.5,470.84Z" fill="#c628f5"/>
<path d="M556.75,466.82L558.45,469.88L555.05,469.88Z" fill="#c628f5"/>
<path d="M560.3,465.47L562,468.53L558.6,468.53Z" fill="#c628f5"/>
<path d="M563.85,464.79L565.55,467.85L562.15,467.85Z" fill="#c628f5"/>
<path d="M567.4,463.88L569.1,466.94L565.7,466.94Z" fill="#c628f5"/>
<path d="M570.95,462.64L572.65,465.7L569.25,465.7Z" fill="#c628f5"/>
<path d="M574.5,462.43L576.2,465.49L572.8,465.49Z" fill="#c628f5"/>
<path d="M578.05,461.5L579.75,464.56L576.35,464.56Z" fill="#c628f5"/>
<path d="M581.6,460.46L583.3,463.52L579.9,463.52Z" fill="#c628f5"/>
<path d="M585.15,459.96L586.85,463.02L583.45,463.02Z" fill="#c628f5"/>
<path d="M588.7,459.43L590.4,462.49L587,462.49Z" fill="#c628f5"/>
<path d="M592.25,458.59L593.95,461.65L590.55,461.65Z" fill="#c628f5"/>
<path d="M595.8,458.02L597.5,461.08L594.1,461.08Z" fill="#c628f5"/>
<path d="M599.35,456.7L601.05,459.76L597.65,459.76Z" fill="#c628f5"/>
<path d="M602.9,456.64L604.6,459.7L601.2,459.7Z" fill="#c628f5"/>
<path d="M606.45,456.47L608.15,459.53L604.75,459.53Z" fill="#c628f5"/>
<path d="M610,456.02L611.7,459.08L608.3,459.08Z" fill="#c628f5"/>
<path d="M613.55,455.55L615.25,458.61L611.85,458.61Z" fill="#c628f5"/>
<path d="M617.1,455.1L618.8,458.16L615.4,458.16Z" fill="#c628f5"/>
<path d="M620.65,454.19L622.35,457.25L618.95,457.25Z" fill="#c628f5"/>
<path d="M624.2,453.33L625.9,456.39L622.5,456.39Z" fill="#c628f5"/>
<polyline points="418.3,578 421.85,571.66 425.4,565.63 428.95,559.89 432.5,554.37 436.05,549.24 439.6,544.34 443.15,539.35 446.7,534.85 450.25,530.87 453.8,526.34 457.35,522.7 460.9,518.71 464.45,515.29 468,511.75 471.55,508.67 475.1,505.74 478.65,502.84 482.2,500.04 485.75,497.07 489.3,494.33 492.85,491.88 496.4,489.47 499.95,487.17 503.5,485.1 507.05,483 510.6,481.1 514.15,478.89 517.7,477.26 521.25,475.5 524.8,474.22 528.35,471.66 531.9,469.89 535.45,468.75 539,467.59 542.55,465.79 546.1,465.01 549.65,462.6 553.2,461.96 556.75,460.83 560.3,459.37 563.85,458.4 567.4,456.65 570.95,455.74 574.5,455.09 578.05,454.09 581.6,452.87 585.15,452.02 588.7,450.21 592.25,450.32 595.8,449.96 599.35,447.92 602.9,446.4 606.45,445.82 610,445.31 613.55,444.77 617.1,444.17 620.65,443.21 624.2,442.09" fill="none" stroke="#2222ff" stroke-width="2.0" stroke-linejoin="round" stroke-linecap="round"/>
<circle cx="418.3" cy="578" r="1.8" fill="#2222ff"/>
<circle cx="421.85" cy="571.66" r="1.8" fill="#2222ff"/>
<circle cx="425.4" cy="565.63" r="1.8" fill="#2222ff"/>
<circle cx="428.95" cy="559.89" r="1.8" fill="#2222ff"/>
<circle cx="432.5" cy="554.37" r="1.8" fill="#2222ff"/>
<circle cx="436.05" cy="549.24" r="1.8" fill="#2222ff"/>
<circle cx="439.6" cy="544.34" r="1.8" fill="#2222ff"/>
<circle cx="443.15" cy="539.35" r="1.8" fill="#2222ff"/>
<circle cx="446.7" cy="534.85" r="1.8" fill="#2222ff"/>
<circle cx="450.25" cy="530.87" r="1.8" fill="#2222ff"/>
<circle cx="453.8" cy="526.34" r="1.8" fill="#2222ff"/>
<circle cx="457.35" cy="522.7" r="1.8" fill="#2222ff"/>
<circle cx="460.9" cy="518.71" r="1.8" fill="#2222ff"/>
<circle cx="464.45" cy="515.29" r="1.8" fill="#2222ff"/>
<circle cx="468" cy="511.75" r="1.8" fill="#2222ff"/>
<circle cx="471.55" cy="508.67" r="1.8" fill="#2222ff"/>
<circle cx="475.1" cy="505.74" r="1.8" fill="#2222ff"/>
<circle cx="478.65" cy="502.84" r="1.8" fill="#2222ff"/>
<circle cx="482.2" cy="500.04" r="1.8" fill="#2222ff"/>
<circle cx="485.75" cy="497.07" r="1.8" fill="#2222ff"/>
<circle cx="489.3" cy="494.33" r="1.8" fill="#2222ff"/>
<circle cx="492.85" cy="491.88" r="1.8" fill="#2222ff"/>
<circle cx="496.4" cy="489.47" r="1.8" fill="#2222ff"/>
<circle cx="499.95" cy="487.17" r="1.8" fill="#2222ff"/>
<circle cx="503.5" cy="485.1" r="1.8" fill="#2222ff"/>
<circle cx="507.05" cy="483" r="1.8" fill="#2222ff"/>
<circle cx="510.6" cy="481.1" r="1.8" fill="#2222ff"/>
<circle cx="514.15" cy="478.89" r="1.8" fill="#2222ff"/>
<circle cx="517.7" cy="477.26" r="1.8" fill="#2222ff"/>
<circle cx="521.25" cy="475.5" r="1.8" fill="#2222ff"/>
<circle cx="524.8" cy="474.22" r="1.8" fill="#2222ff"/>
<circle cx="528.35" cy="471.66" r="1.8" fill="#2222ff"/>
<circle cx="531.9" cy="469.89" r="1.8" fill="#2222ff"/>
<circle cx="535.45" cy="468.75" r="1.8" fill="#2222ff"/>
<circle cx="539" cy="467.59" r="1.8" fill="#2222ff"/>
<circle cx="542.55" cy="465.79" r="1.8" fill="#2222ff"/>
<circle cx="546.1" cy="465.01" r="1.8" fill="#2222ff"/>
<circle cx="549.65" cy="462.6" r="1.8" fill="#2222ff"/>
<circle cx="553.2" cy="461.96" r="1.8" fill="#2222ff"/>
<circle cx="556.75" cy="460.83" r="1.8" fill="#2222ff"/>
<circle cx="560.3" cy="459.37" r="1.8" fill="#2222ff"/>
<circle cx="563.85" cy="458.4" r="1.8" fill="#2222ff"/>
<circle cx="567.4" cy="456.65" r="1.8" fill="#2222ff"/>
<circle cx="570.95" cy="455.74" r="1.8" fill="#2222ff"/>
<circle cx="574.5" cy="455.09" r="1.8" fill="#2222ff"/>
<circle cx="578.05" cy="454.09" r="1.8" fill="#2222ff"/>
<circle cx="581.6" cy="452.87" r="1.8" fill="#2222ff"/>
<circle cx="585.15" cy="452.02" r="1.8" fill="#2222ff"/>
<circle cx="588.7" cy="450.21" r="1.8" fill="#2222ff"/>
<circle cx="592.25" cy="450.32" r="1.8" fill="#2222ff"/>
<circle cx="595.8" cy="449.96" r="1.8" fill="#2222ff"/>
<circle cx="599.35" cy="447.92" r="1.8" fill="#2222ff"/>
<circle cx="602.9" cy="446.4" r="1.8" fill="#2222ff"/>
<circle cx="606.45" cy="445.82" r="1.8" fill="#2222ff"/>
<circle cx="610" cy="445.31" r="1.8" fill="#2222ff"/>
<circle cx="613.55" cy="444.77" r="1.8" fill="#2222ff"/>
<circle cx="617.1" cy="444.17" r="1.8" fill="#2222ff"/>
<circle cx="620.65" cy="443.21" r="1.8" fill="#2222ff"/>
<circle cx="624.2" cy="442.09" r="1.8" fill="#2222ff"/>
<path d="M424.8,393.6H440" stroke="#2222ff" stroke-width="1.8"/>
<circle cx="432.4" cy="393.6" r="1.8" fill="#2222ff"/>
<text x="449" y="397.2" font-size="10" text-anchor="start" >Control</text>
<path d="M424.8,412.1H440" stroke="#f2772a" stroke-width="1.5"/>
<path d="M432.4,410.5V413.7" stroke="#f2772a" stroke-width="1"/>
<text x="449" y="415.7" font-size="10" text-anchor="start" >ILE 0.1</text>
<path d="M424.8,433.7H440" stroke="#c628f5" stroke-width="1.8"/>
<path d="M432.4,432L434.1,435.06L430.7,435.06Z" fill="#c628f5"/>
<text x="449" y="437.3" font-size="10" text-anchor="start" >ILE 1</text>
<path d="M424.8,454H440" stroke="#3fe022" stroke-width="1.8"/>
<path d="M432.4,452.3L434.1,455.36L430.7,455.36Z" fill="#3fe022"/>
<text x="449" y="457.6" font-size="10" text-anchor="start" >ILE 10</text>
<path d="M424.8,476.2H440" stroke="#ff2424" stroke-width="1.8"/>
<rect x="430.65" y="474.45" width="3.5" height="3.5" fill="#ff2424"/>
<text x="449" y="479.8" font-size="10" text-anchor="start" >ILE 20</text>
<path d="M626.6,441.5H629.2V461.2H626.6" fill="none" stroke="#000" stroke-width="1.4"/>
<text x="636.3" y="449.6" font-size="10" text-anchor="middle" >n</text>
<text x="636.3" y="460.7" font-size="10" text-anchor="middle" >s</text>
<path d="M634.4,440.1H641.3V473.9H634.4" fill="none" stroke="#000" stroke-width="1.4"/>
<text x="649.4" y="463.31" font-size="13" text-anchor="middle" >*</text>
<text x="0" y="692" font-size="30" text-anchor="start" >e</text>
<text x="170.4" y="716.8" font-size="16.4" text-anchor="middle">ClpC1<tspan font-size="12" dy="-7">F80C</tspan><tspan dy="7">P1P2</tspan></text>
<text transform="translate(12.6,835.4) rotate(-90)" x="0" y="0" font-size="14" text-anchor="middle" textLength="195.18" lengthAdjust="spacingAndGlyphs">D-value of fluorescence intensity</text>
<path d="M64,734.55V936.8H280.6" fill="none" stroke="#000" stroke-width="1.5"/>
<path d="M58,936.8H64" stroke="#000" stroke-width="1.5"/>
<text x="55.7" y="940.94" font-size="12" text-anchor="end" >0</text>
<path d="M58,896.35H64" stroke="#000" stroke-width="1.5"/>
<text x="55.7" y="900.49" font-size="12" text-anchor="end" >100000</text>
<path d="M58,855.9H64" stroke="#000" stroke-width="1.5"/>
<text x="55.7" y="860.04" font-size="12" text-anchor="end" >200000</text>
<path d="M58,815.45H64" stroke="#000" stroke-width="1.5"/>
<text x="55.7" y="819.59" font-size="12" text-anchor="end" >300000</text>
<path d="M58,775H64" stroke="#000" stroke-width="1.5"/>
<text x="55.7" y="779.14" font-size="12" text-anchor="end" >400000</text>
<path d="M58,734.55H64" stroke="#000" stroke-width="1.5"/>
<text x="55.7" y="738.69" font-size="12" text-anchor="end" >500000</text>
<path d="M64,936.8V942.8" stroke="#000" stroke-width="1.5"/>
<text x="64" y="956.1" font-size="12" text-anchor="middle" >0</text>
<path d="M100.1,936.8V942.8" stroke="#000" stroke-width="1.5"/>
<text x="100.1" y="956.1" font-size="12" text-anchor="middle" >10</text>
<path d="M136.2,936.8V942.8" stroke="#000" stroke-width="1.5"/>
<text x="136.2" y="956.1" font-size="12" text-anchor="middle" >20</text>
<path d="M172.3,936.8V942.8" stroke="#000" stroke-width="1.5"/>
<text x="172.3" y="956.1" font-size="12" text-anchor="middle" >30</text>
<path d="M208.4,936.8V942.8" stroke="#000" stroke-width="1.5"/>
<text x="208.4" y="956.1" font-size="12" text-anchor="middle" >40</text>
<path d="M244.5,936.8V942.8" stroke="#000" stroke-width="1.5"/>
<text x="244.5" y="956.1" font-size="12" text-anchor="middle" >50</text>
<path d="M280.6,936.8V942.8" stroke="#000" stroke-width="1.5"/>
<text x="280.6" y="956.1" font-size="12" text-anchor="middle" >60</text>
<text x="172.3" y="975.8" font-size="14" text-anchor="middle" >Time (min)</text>
<path d="M71.22,927.93V931.63M69.72,927.93h3M69.72,931.63h3M74.83,919.07V924.55M73.33,919.07h3M73.33,924.55h3M78.44,910.56V917.71M76.94,910.56h3M76.94,917.71h3M82.05,903.5V910.9M80.55,903.5h3M80.55,910.9h3M85.66,896.44V905.04M84.16,896.44h3M84.16,905.04h3M89.27,889.41V899.59M87.77,889.41h3M87.77,899.59h3M92.88,882.76V894.43M91.38,882.76h3M91.38,894.43h3M96.49,877.16V889.66M94.99,877.16h3M94.99,889.66h3M100.1,871.95V884.59M98.6,871.95h3M98.6,884.59h3M103.71,867.4V878.88M102.21,867.4h3M102.21,878.88h3M107.32,861.73V875.8M105.82,861.73h3M105.82,875.8h3M110.93,857.22V871.03M109.43,857.22h3M109.43,871.03h3M114.54,853.05V867.56M113.04,853.05h3M113.04,867.56h3M118.15,848.4V864.43M116.65,848.4h3M116.65,864.43h3M121.76,844.73V860.36M120.26,844.73h3M120.26,860.36h3M125.37,840.39V857.31M123.87,840.39h3M123.87,857.31h3M128.98,836.84V854.43M127.48,836.84h3M127.48,854.43h3M132.59,834.18V850.83M131.09,834.18h3M131.09,850.83h3M136.2,831.03V848.85M134.7,831.03h3M134.7,848.85h3M139.81,829.42V844.43M138.31,829.42h3M138.31,844.43h3M143.42,824.79V842.65M141.92,824.79h3M141.92,842.65h3M147.03,823.53V840.14M145.53,823.53h3M145.53,840.14h3M150.64,820.53V837.31M149.14,820.53h3M149.14,837.31h3M154.25,817.1V835.57M152.75,817.1h3M152.75,835.57h3M157.86,815.56V833.19M156.36,815.56h3M156.36,833.19h3M161.47,812.19V831.43M159.97,812.19h3M159.97,831.43h3M165.08,810.23V829.51M163.58,810.23h3M163.58,829.51h3M168.69,808.41V826.4M167.19,808.41h3M167.19,826.4h3M172.3,805.45V825.9M170.8,805.45h3M170.8,825.9h3M175.91,803.98V824.1M174.41,803.98h3M174.41,824.1h3M179.52,801.69V822.62M178.02,801.69h3M178.02,822.62h3M183.13,800.3V820.98M181.63,800.3h3M181.63,820.98h3M186.74,799.01V818.26M185.24,799.01h3M185.24,818.26h3M190.35,796.58V818.18M188.85,796.58h3M188.85,818.18h3M193.96,794.91V815.27M192.46,794.91h3M192.46,815.27h3M197.57,794.64V813.33M196.07,794.64h3M196.07,813.33h3M201.18,790.86V813.04M199.68,790.86h3M199.68,813.04h3M204.79,789.56V812.1M203.29,789.56h3M203.29,812.1h3M208.4,788.91V810.41M206.9,788.91h3M206.9,810.41h3M212.01,789.32V806.79M210.51,789.32h3M210.51,806.79h3M215.62,786.63V806.21M214.12,786.63h3M214.12,806.21h3M219.23,783.67V806.71M217.73,783.67h3M217.73,806.71h3M222.84,782.44V806.56M221.34,782.44h3M221.34,806.56h3M226.45,782.62V803.53M224.95,782.62h3M224.95,803.53h3M230.06,780.88V803.15M228.56,780.88h3M228.56,803.15h3M233.67,779.32V801.66M232.17,779.32h3M232.17,801.66h3M237.28,778.54V801.05M235.78,778.54h3M235.78,801.05h3M240.89,776.17V800.38M239.39,776.17h3M239.39,800.38h3M244.5,777.13V797.87M243,777.13h3M243,797.87h3M248.11,777.43V796.23M246.61,777.43h3M246.61,796.23h3M251.72,774.99V796.85M250.22,774.99h3M250.22,796.85h3M255.33,773.33V795.88M253.83,773.33h3M253.83,795.88h3M258.94,773.98V794.71M257.44,773.98h3M257.44,794.71h3M262.55,771.71V794.93M261.05,771.71h3M261.05,794.93h3M266.16,770.13V792.14M264.66,770.13h3M264.66,792.14h3M269.77,769.03V792.85M268.27,769.03h3M268.27,792.85h3M273.38,770.71V790.21M271.88,770.71h3M271.88,790.21h3M276.99,769.08V789.66M275.49,769.08h3M275.49,789.66h3M280.6,767.58V789.69M279.1,767.58h3M279.1,789.69h3" stroke="#cf78f5" stroke-opacity="0.5" stroke-width="0.8" fill="none"/>
<path d="M71.22,924.62V935.76M69.72,924.62h3M69.72,935.76h3M74.83,913.84V930.3M73.33,913.84h3M73.33,930.3h3M78.44,905.31V923.63M76.94,905.31h3M76.94,923.63h3M82.05,896.07V918.58M80.55,896.07h3M80.55,918.58h3M85.66,888.55V912.81M84.16,888.55h3M84.16,912.81h3M89.27,881.8V907.44M87.77,881.8h3M87.77,907.44h3M92.88,874.06V902.86M91.38,874.06h3M91.38,902.86h3M96.49,868.31V897.07M94.99,868.31h3M94.99,897.07h3M100.1,863.67V891.81M98.6,863.67h3M98.6,891.81h3M103.71,855.2V889.65M102.21,855.2h3M102.21,889.65h3M107.32,852.23V883.41M105.82,852.23h3M105.82,883.41h3M110.93,845.46V882.2M109.43,845.46h3M109.43,882.2h3M114.54,841.61V877.74M113.04,841.61h3M113.04,877.74h3M118.15,834.98V876.33M116.65,834.98h3M116.65,876.33h3M121.76,835.45V869.72M120.26,835.45h3M120.26,869.72h3M125.37,828.22V869.15M123.87,828.22h3M123.87,869.15h3M128.98,822.78V867.67M127.48,822.78h3M127.48,867.67h3M132.59,820.91V863.33M131.09,820.91h3M131.09,863.33h3M136.2,819.41V859.23M134.7,819.41h3M134.7,859.23h3M139.81,818.02V854.46M138.31,818.02h3M138.31,854.46h3M143.42,814.84V853.39M141.92,814.84h3M141.92,853.39h3M147.03,809.26V852.67M145.53,809.26h3M145.53,852.67h3M150.64,806.11V851.49M149.14,806.11h3M149.14,851.49h3M154.25,805.19V847.57M152.75,805.19h3M152.75,847.57h3M157.86,801.14V847.21M156.36,801.14h3M156.36,847.21h3M161.47,798.82V844.92M159.97,798.82h3M159.97,844.92h3M165.08,797.38V842.05M163.58,797.38h3M163.58,842.05h3M168.69,796.39V839.44M167.19,796.39h3M167.19,839.44h3M172.3,793.95V838.58M170.8,793.95h3M170.8,838.58h3M175.91,791.39V837.22M174.41,791.39h3M174.41,837.22h3M179.52,790.21V835.89M178.02,790.21h3M178.02,835.89h3M183.13,786.27V835.76M181.63,786.27h3M181.63,835.76h3M186.74,785.08V833.3M185.24,785.08h3M185.24,833.3h3M190.35,782.29V833.34M188.85,782.29h3M188.85,833.34h3M193.96,780.78V831.9M192.46,780.78h3M192.46,831.9h3M197.57,779.9V830.69M196.07,779.9h3M196.07,830.69h3M201.18,781.08V826.67M199.68,781.08h3M199.68,826.67h3M204.79,776.51V827.79M203.29,776.51h3M203.29,827.79h3M208.4,777.1V826.27M206.9,777.1h3M206.9,826.27h3M212.01,775.36V824.11M210.51,775.36h3M210.51,824.11h3M215.62,772.7V824.05M214.12,772.7h3M214.12,824.05h3M219.23,773.8V822.5M217.73,773.8h3M217.73,822.5h3M222.84,770.17V822.01M221.34,770.17h3M221.34,822.01h3M226.45,770.51V820.17M224.95,770.51h3M224.95,820.17h3M230.06,767.15V821.87M228.56,767.15h3M228.56,821.87h3M233.67,766.56V819.52M232.17,766.56h3M232.17,819.52h3M237.28,766.21V817.61M235.78,766.21h3M235.78,817.61h3M240.89,765.03V816.63M239.39,765.03h3M239.39,816.63h3M244.5,766.08V814.45M243,766.08h3M243,814.45h3M248.11,764.2V814.58M246.61,764.2h3M246.61,814.58h3M251.72,763.03V813.26M250.22,763.03h3M250.22,813.26h3M255.33,758.63V815.81M253.83,758.63h3M253.83,815.81h3M258.94,762.13V811.27M257.44,762.13h3M257.44,811.27h3M262.55,757.62V813.18M261.05,757.62h3M261.05,813.18h3M266.16,759.25V810.91M264.66,759.25h3M264.66,810.91h3M269.77,758.03V809.6M268.27,758.03h3M268.27,809.6h3M273.38,754.42V811.96M271.88,754.42h3M271.88,811.96h3M276.99,755.49V811.12M275.49,755.49h3M275.49,811.12h3M280.6,754.79V808.23M279.1,754.79h3M279.1,808.23h3" stroke="#8080ff" stroke-opacity="0.7" stroke-width="0.8" fill="none"/>
<path d="M71.22,929.92V931.21M69.72,929.92h3M69.72,931.21h3M74.83,922.2V924.23M73.33,922.2h3M73.33,924.23h3M78.44,915.1V917.45M76.94,915.1h3M76.94,917.45h3M82.05,908.34V911.3M80.55,908.34h3M80.55,911.3h3M85.66,901.88V905.15M84.16,901.88h3M84.16,905.15h3M89.27,896.01V899.53M87.77,896.01h3M87.77,899.53h3M92.88,890.37V894.36M91.38,890.37h3M91.38,894.36h3M96.49,885.31V889.33M94.99,885.31h3M94.99,889.33h3M100.1,880.58V884.55M98.6,880.58h3M98.6,884.55h3M103.71,875.39V880.29M102.21,875.39h3M102.21,880.29h3M107.32,871.29V875.76M105.82,871.29h3M105.82,875.76h3M110.93,866.93V872.24M109.43,866.93h3M109.43,872.24h3M114.54,862.85V868.11M113.04,862.85h3M113.04,868.11h3M118.15,859.03V865.08M116.65,859.03h3M116.65,865.08h3M121.76,856.3V861.34M120.26,856.3h3M120.26,861.34h3M125.37,852.15V858.2M123.87,852.15h3M123.87,858.2h3M128.98,848.67V855.33M127.48,848.67h3M127.48,855.33h3M132.59,846.32V852.62M131.09,846.32h3M131.09,852.62h3M136.2,843.17V849.13M134.7,843.17h3M134.7,849.13h3M139.81,841.29V846.73M138.31,841.29h3M138.31,846.73h3M143.42,838.36V844.16M141.92,838.36h3M141.92,844.16h3M147.03,835.29V841.83M145.53,835.29h3M145.53,841.83h3M150.64,833.16V840.01M149.14,833.16h3M149.14,840.01h3M154.25,831.63V838.03M152.75,831.63h3M152.75,838.03h3M157.86,828.81V835.8M156.36,828.81h3M156.36,835.8h3M161.47,826.81V833.81M159.97,826.81h3M159.97,833.81h3M165.08,824.81V831.6M163.58,824.81h3M163.58,831.6h3M168.69,823.96V830.49M167.19,823.96h3M167.19,830.49h3M172.3,821.27V828.09M170.8,821.27h3M170.8,828.09h3M175.91,819.36V826.38M174.41,819.36h3M174.41,826.38h3M179.52,817.85V824.86M178.02,817.85h3M178.02,824.86h3M183.13,816.33V823.91M181.63,816.33h3M181.63,823.91h3M186.74,814.86V822.26M185.24,814.86h3M185.24,822.26h3M190.35,813.13V820.98M188.85,813.13h3M188.85,820.98h3M193.96,811.63V819.51M192.46,811.63h3M192.46,819.51h3M197.57,810.3V818.14M196.07,810.3h3M196.07,818.14h3M201.18,810.29V817.3M199.68,810.29h3M199.68,817.3h3M204.79,808.07V815.98M203.29,808.07h3M203.29,815.98h3M208.4,807.27V814.87M206.9,807.27h3M206.9,814.87h3M212.01,806.71V814.21M210.51,806.71h3M210.51,814.21h3M215.62,804.36V812.3M214.12,804.36h3M214.12,812.3h3M219.23,803.48V811.05M217.73,803.48h3M217.73,811.05h3M222.84,802.51V810.54M221.34,802.51h3M221.34,810.54h3M226.45,801.23V808.95M224.95,801.23h3M224.95,808.95h3M230.06,800.84V809.33M228.56,800.84h3M228.56,809.33h3M233.67,799.16V807.4M232.17,799.16h3M232.17,807.4h3M237.28,798.56V806.55M235.78,798.56h3M235.78,806.55h3M240.89,797.79V805.8M239.39,797.79h3M239.39,805.8h3M244.5,797.17V804.7M243,797.17h3M243,804.7h3M248.11,795.94V803.8M246.61,795.94h3M246.61,803.8h3M251.72,795.33V803.15M250.22,795.33h3M250.22,803.15h3M255.33,794.17V803.07M253.83,794.17h3M253.83,803.07h3M258.94,793.42V801.09M257.44,793.42h3M257.44,801.09h3M262.55,792.4V801.06M261.05,792.4h3M261.05,801.06h3M266.16,792.16V800.23M264.66,792.16h3M264.66,800.23h3M269.77,791.04V799.1M268.27,791.04h3M268.27,799.1h3M273.38,790.3V799.28M271.88,790.3h3M271.88,799.28h3M276.99,789.24V797.97M275.49,789.24h3M275.49,797.97h3M280.6,789.04V797.39M279.1,789.04h3M279.1,797.39h3" stroke="#e8782e" stroke-opacity="0.8" stroke-width="0.8" fill="none"/>
<path d="M71.22,929.76V930.99M69.72,929.76h3M69.72,930.99h3M74.83,921.9V923.85M73.33,921.9h3M73.33,923.85h3M78.44,914.45V917.22M76.94,914.45h3M76.94,917.22h3M82.05,907.57V910.76M80.55,907.57h3M80.55,910.76h3M85.66,901.22V904.76M84.16,901.22h3M84.16,904.76h3M89.27,895.23V898.76M87.77,895.23h3M87.77,898.76h3M92.88,889.56V893.6M91.38,889.56h3M91.38,893.6h3M96.49,884.46V888.77M94.99,884.46h3M94.99,888.77h3M100.1,879.44V883.44M98.6,879.44h3M98.6,883.44h3M103.71,874.33V879.1M102.21,874.33h3M102.21,879.1h3M107.32,869.85V874.92M105.82,869.85h3M105.82,874.92h3M110.93,865.69V870.93M109.43,865.69h3M109.43,870.93h3M114.54,861.89V867.19M113.04,861.89h3M113.04,867.19h3M118.15,858.59V863.61M116.65,858.59h3M116.65,863.61h3M121.76,855.02V860.33M120.26,855.02h3M120.26,860.33h3M125.37,851.21V856.7M123.87,851.21h3M123.87,856.7h3M128.98,848.5V853.8M127.48,848.5h3M127.48,853.8h3M132.59,844.55V850.64M131.09,844.55h3M131.09,850.64h3M136.2,843.01V848.33M134.7,843.01h3M134.7,848.33h3M139.81,839.55V845.63M138.31,839.55h3M138.31,845.63h3M143.42,837.11V843.37M141.92,837.11h3M141.92,843.37h3M147.03,835.06V841.11M145.53,835.06h3M145.53,841.11h3M150.64,832.32V838.58M149.14,832.32h3M149.14,838.58h3M154.25,830.24V836.45M152.75,830.24h3M152.75,836.45h3M157.86,828.15V834.95M156.36,828.15h3M156.36,834.95h3M161.47,825.82V833.11M159.97,825.82h3M159.97,833.11h3M165.08,823.98V830.77M163.58,823.98h3M163.58,830.77h3M168.69,822.36V829.2M167.19,822.36h3M167.19,829.2h3M172.3,820.67V827.9M170.8,820.67h3M170.8,827.9h3M175.91,819.04V825.93M174.41,819.04h3M174.41,825.93h3M179.52,817.58V824.82M178.02,817.58h3M178.02,824.82h3M183.13,815.32V822.9M181.63,815.32h3M181.63,822.9h3M186.74,814.5V821.16M185.24,814.5h3M185.24,821.16h3M190.35,813.24V820.17M188.85,813.24h3M188.85,820.17h3M193.96,811.82V819.3M192.46,811.82h3M192.46,819.3h3M197.57,810.49V818.18M196.07,810.49h3M196.07,818.18h3M201.18,808.54V816.3M199.68,808.54h3M199.68,816.3h3M204.79,807.63V814.73M203.29,807.63h3M203.29,814.73h3M208.4,805.99V814.18M206.9,805.99h3M206.9,814.18h3M212.01,804.37V812.3M210.51,804.37h3M210.51,812.3h3M215.62,804.1V812.4M214.12,804.1h3M214.12,812.4h3M219.23,803.49V810.45M217.73,803.49h3M217.73,810.45h3M222.84,802.22V809.29M221.34,802.22h3M221.34,809.29h3M226.45,800.85V808.29M224.95,800.85h3M224.95,808.29h3M230.06,799.98V807.72M228.56,799.98h3M228.56,807.72h3M233.67,798.38V805.91M232.17,798.38h3M232.17,805.91h3M237.28,797.94V805.41M235.78,797.94h3M235.78,805.41h3M240.89,797.43V805.61M239.39,797.43h3M239.39,805.61h3M244.5,796.14V803.44M243,796.14h3M243,803.44h3M248.11,794.21V802.54M246.61,794.21h3M246.61,802.54h3M251.72,794.26V802.36M250.22,794.26h3M250.22,802.36h3M255.33,793.23V801.06M253.83,793.23h3M253.83,801.06h3M258.94,792.48V800.3M257.44,792.48h3M257.44,800.3h3M262.55,791.72V799.26M261.05,791.72h3M261.05,799.26h3M266.16,790.63V798.73M264.66,790.63h3M264.66,798.73h3M269.77,790.11V798.39M268.27,790.11h3M268.27,798.39h3M273.38,789.4V797.2M271.88,789.4h3M271.88,797.2h3M276.99,788.43V796.51M275.49,788.43h3M275.49,796.51h3M280.6,787.38V795.94M279.1,787.38h3M279.1,795.94h3" stroke="#80e870" stroke-opacity="0.6" stroke-width="0.8" fill="none"/>
<path d="M71.22,928.09V934.67M69.72,928.09h3M69.72,934.67h3M74.83,919.39V929.34M73.33,919.39h3M73.33,929.34h3M78.44,910.91V924.59M76.94,910.91h3M76.94,924.59h3M82.05,904V919.36M80.55,904h3M80.55,919.36h3M85.66,897.71V914.41M84.16,897.71h3M84.16,914.41h3M89.27,892.49V908.87M87.77,892.49h3M87.77,908.87h3M92.88,886.61V905.09M91.38,886.61h3M91.38,905.09h3M96.49,881.28V900.85M94.99,881.28h3M94.99,900.85h3M100.1,877.47V895.46M98.6,877.47h3M98.6,895.46h3M103.71,871.75V892.93M102.21,871.75h3M102.21,892.93h3M107.32,867.59V889.93M105.82,867.59h3M105.82,889.93h3M110.93,863.39V886.33M109.43,863.39h3M109.43,886.33h3M114.54,860.11V883.17M113.04,860.11h3M113.04,883.17h3M118.15,857.67V879.43M116.65,857.67h3M116.65,879.43h3M121.76,854.32V877.2M120.26,854.32h3M120.26,877.2h3M125.37,851.08V874.54M123.87,851.08h3M123.87,874.54h3M128.98,848.55V871.17M127.48,848.55h3M127.48,871.17h3M132.59,844.34V870.12M131.09,844.34h3M131.09,870.12h3M136.2,843.9V866.45M134.7,843.9h3M134.7,866.45h3M139.81,839.73V865.39M138.31,839.73h3M138.31,865.39h3M143.42,837.73V864.02M141.92,837.73h3M141.92,864.02h3M147.03,835.79V861.21M145.53,835.79h3M145.53,861.21h3M150.64,833.75V859.9M149.14,833.75h3M149.14,859.9h3M154.25,831.72V857.65M152.75,831.72h3M152.75,857.65h3M157.86,828.64V857.01M156.36,828.64h3M156.36,857.01h3M161.47,826.25V856.54M159.97,826.25h3M159.97,856.54h3M165.08,825.55V853.68M163.58,825.55h3M163.58,853.68h3M168.69,824.33V852.61M167.19,824.33h3M167.19,852.61h3M172.3,822.33V852.13M170.8,822.33h3M170.8,852.13h3M175.91,821.35V849.78M174.41,821.35h3M174.41,849.78h3M179.52,818.89V848.76M178.02,818.89h3M178.02,848.76h3M183.13,816.96V848.13M181.63,816.96h3M181.63,848.13h3M186.74,818.11V845.43M185.24,818.11h3M185.24,845.43h3M190.35,816.34V844.73M188.85,816.34h3M188.85,844.73h3M193.96,813.93V844.58M192.46,813.93h3M192.46,844.58h3M197.57,812.62V844.1M196.07,812.62h3M196.07,844.1h3M201.18,811.18V842.85M199.68,811.18h3M199.68,842.85h3M204.79,812.09V840.96M203.29,812.09h3M203.29,840.96h3M208.4,808.98V842.26M206.9,808.98h3M206.9,842.26h3M212.01,807.84V840.04M210.51,807.84h3M210.51,840.04h3M215.62,806.27V840.02M214.12,806.27h3M214.12,840.02h3M219.23,808.19V836.47M217.73,808.19h3M217.73,836.47h3M222.84,807.52V836.13M221.34,807.52h3M221.34,836.13h3M226.45,806.27V836.29M224.95,806.27h3M224.95,836.29h3M230.06,804.3V835.58M228.56,804.3h3M228.56,835.58h3M233.67,804.32V834.6M232.17,804.32h3M232.17,834.6h3M237.28,802.75V832.94M235.78,802.75h3M235.78,832.94h3M240.89,800.7V833.81M239.39,800.7h3M239.39,833.81h3M244.5,801.8V831.22M243,801.8h3M243,831.22h3M248.11,799.25V832.68M246.61,799.25h3M246.61,832.68h3M251.72,798.98V831.57M250.22,798.98h3M250.22,831.57h3M255.33,799.32V830.68M253.83,799.32h3M253.83,830.68h3M258.94,797.75V829.17M257.44,797.75h3M257.44,829.17h3M262.55,797.92V828.16M261.05,797.92h3M261.05,828.16h3M266.16,796.27V828.71M264.66,796.27h3M264.66,828.71h3M269.77,795.28V828.45M268.27,795.28h3M268.27,828.45h3M273.38,794.79V826.12M271.88,794.79h3M271.88,826.12h3M276.99,794.1V826.45M275.49,794.1h3M275.49,826.45h3M280.6,792.63V826.85M279.1,792.63h3M279.1,826.85h3" stroke="#ff7c7c" stroke-opacity="0.65" stroke-width="0.8" fill="none"/>
<polyline points="71.22,931.38 74.83,924.37 78.44,917.75 82.05,911.68 85.66,906.06 89.27,900.68 92.88,895.85 96.49,891.07 100.1,886.47 103.71,882.34 107.32,878.76 110.93,874.86 114.54,871.64 118.15,868.55 121.76,865.76 125.37,862.81 128.98,859.86 132.59,857.23 136.2,855.17 139.81,852.56 143.42,850.87 147.03,848.5 150.64,846.83 154.25,844.68 157.86,842.82 161.47,841.39 165.08,839.62 168.69,838.47 172.3,837.23 175.91,835.56 179.52,833.83 183.13,832.54 186.74,831.77 190.35,830.54 193.96,829.26 197.57,828.36 201.18,827.01 204.79,826.52 208.4,825.62 212.01,823.94 215.62,823.14 219.23,822.33 222.84,821.83 226.45,821.28 230.06,819.94 233.67,819.46 237.28,817.84 240.89,817.26 244.5,816.51 248.11,815.96 251.72,815.28 255.33,815 258.94,813.46 262.55,813.04 266.16,812.49 269.77,811.87 273.38,810.45 276.99,810.28 280.6,809.74" fill="none" stroke="#ff2424" stroke-width="1.8" stroke-linejoin="round" stroke-linecap="round"/>
<rect x="69.47" y="929.63" width="3.5" height="3.5" fill="#ff2424"/>
<rect x="73.08" y="922.62" width="3.5" height="3.5" fill="#ff2424"/>
<rect x="76.69" y="916" width="3.5" height="3.5" fill="#ff2424"/>
<rect x="80.3" y="909.93" width="3.5" height="3.5" fill="#ff2424"/>
<rect x="83.91" y="904.31" width="3.5" height="3.5" fill="#ff2424"/>
<rect x="87.52" y="898.93" width="3.5" height="3.5" fill="#ff2424"/>
<rect x="91.13" y="894.1" width="3.5" height="3.5" fill="#ff2424"/>
<rect x="94.74" y="889.32" width="3.5" height="3.5" fill="#ff2424"/>
<rect x="98.35" y="884.72" width="3.5" height="3.5" fill="#ff2424"/>
<rect x="101.96" y="880.59" width="3.5" height="3.5" fill="#ff2424"/>
<rect x="105.57" y="877.01" width="3.5" height="3.5" fill="#ff2424"/>
<rect x="109.18" y="873.11" width="3.5" height="3.5" fill="#ff2424"/>
<rect x="112.79" y="869.89" width="3.5" height="3.5" fill="#ff2424"/>
<rect x="116.4" y="866.8" width="3.5" height="3.5" fill="#ff2424"/>
<rect x="120.01" y="864.01" width="3.5" height="3.5" fill="#ff2424"/>
<rect x="123.62" y="861.06" width="3.5" height="3.5" fill="#ff2424"/>
<rect x="127.23" y="858.11" width="3.5" height="3.5" fill="#ff2424"/>
<rect x="130.84" y="855.48" width="3.5" height="3.5" fill="#ff2424"/>
<rect x="134.45" y="853.42" width="3.5" height="3.5" fill="#ff2424"/>
<rect x="138.06" y="850.81" width="3.5" height="3.5" fill="#ff2424"/>
<rect x="141.67" y="849.12" width="3.5" height="3.5" fill="#ff2424"/>
<rect x="145.28" y="846.75" width="3.5" height="3.5" fill="#ff2424"/>
<rect x="148.89" y="845.08" width="3.5" height="3.5" fill="#ff2424"/>
<rect x="152.5" y="842.93" width="3.5" height="3.5" fill="#ff2424"/>
<rect x="156.11" y="841.07" width="3.5" height="3.5" fill="#ff2424"/>
<rect x="159.72" y="839.64" width="3.5" height="3.5" fill="#ff2424"/>
<rect x="163.33" y="837.87" width="3.5" height="3.5" fill="#ff2424"/>
<rect x="166.94" y="836.72" width="3.5" height="3.5" fill="#ff2424"/>
<rect x="170.55" y="835.48" width="3.5" height="3.5" fill="#ff2424"/>
<rect x="174.16" y="833.81" width="3.5" height="3.5" fill="#ff2424"/>
<rect x="177.77" y="832.08" width="3.5" height="3.5" fill="#ff2424"/>
<rect x="181.38" y="830.79" width="3.5" height="3.5" fill="#ff2424"/>
<rect x="184.99" y="830.02" width="3.5" height="3.5" fill="#ff2424"/>
<rect x="188.6" y="828.79" width="3.5" height="3.5" fill="#ff2424"/>
<rect x="192.21" y="827.51" width="3.5" height="3.5" fill="#ff2424"/>
<rect x="195.82" y="826.61" width="3.5" height="3.5" fill="#ff2424"/>
<rect x="199.43" y="825.26" width="3.5" height="3.5" fill="#ff2424"/>
<rect x="203.04" y="824.77" width="3.5" height="3.5" fill="#ff2424"/>
<rect x="206.65" y="823.87" width="3.5" height="3.5" fill="#ff2424"/>
<rect x="210.26" y="822.19" width="3.5" height="3.5" fill="#ff2424"/>
<rect x="213.87" y="821.39" width="3.5" height="3.5" fill="#ff2424"/>
<rect x="217.48" y="820.58" width="3.5" height="3.5" fill="#ff2424"/>
<rect x="221.09" y="820.08" width="3.5" height="3.5" fill="#ff2424"/>
<rect x="224.7" y="819.53" width="3.5" height="3.5" fill="#ff2424"/>
<rect x="228.31" y="818.19" width="3.5" height="3.5" fill="#ff2424"/>
<rect x="231.92" y="817.71" width="3.5" height="3.5" fill="#ff2424"/>
<rect x="235.53" y="816.09" width="3.5" height="3.5" fill="#ff2424"/>
<rect x="239.14" y="815.51" width="3.5" height="3.5" fill="#ff2424"/>
<rect x="242.75" y="814.76" width="3.5" height="3.5" fill="#ff2424"/>
<rect x="246.36" y="814.21" width="3.5" height="3.5" fill="#ff2424"/>
<rect x="249.97" y="813.53" width="3.5" height="3.5" fill="#ff2424"/>
<rect x="253.58" y="813.25" width="3.5" height="3.5" fill="#ff2424"/>
<rect x="257.19" y="811.71" width="3.5" height="3.5" fill="#ff2424"/>
<rect x="260.8" y="811.29" width="3.5" height="3.5" fill="#ff2424"/>
<rect x="264.41" y="810.74" width="3.5" height="3.5" fill="#ff2424"/>
<rect x="268.02" y="810.12" width="3.5" height="3.5" fill="#ff2424"/>
<rect x="271.63" y="808.7" width="3.5" height="3.5" fill="#ff2424"/>
<rect x="275.24" y="808.53" width="3.5" height="3.5" fill="#ff2424"/>
<rect x="278.85" y="807.99" width="3.5" height="3.5" fill="#ff2424"/>
<polyline points="71.22,930.56 74.83,923.21 78.44,916.27 82.05,909.82 85.66,903.51 89.27,897.77 92.88,892.37 96.49,887.32 100.1,882.56 103.71,877.84 107.32,873.52 110.93,869.59 114.54,865.48 118.15,862.05 121.76,858.82 125.37,855.18 128.98,852 132.59,849.47 136.2,846.15 139.81,844.01 143.42,841.26 147.03,838.56 150.64,836.59 154.25,834.83 157.86,832.31 161.47,830.31 165.08,828.2 168.69,827.23 172.3,824.68 175.91,822.87 179.52,821.36 183.13,820.12 186.74,818.56 190.35,817.05 193.96,815.57 197.57,814.22 201.18,813.79 204.79,812.02 208.4,811.07 212.01,810.46 215.62,808.33 219.23,807.27 222.84,806.52 226.45,805.09 230.06,805.09 233.67,803.28 237.28,802.56 240.89,801.79 244.5,800.93 248.11,799.87 251.72,799.24 255.33,798.62 258.94,797.25 262.55,796.73 266.16,796.2 269.77,795.07 273.38,794.79 276.99,793.61 280.6,793.22" fill="none" stroke="#f2772a" stroke-width="1.4" stroke-linejoin="round" stroke-linecap="round"/>
<path d="M71.22,928.96V932.16" stroke="#f2772a" stroke-width="1"/>
<path d="M74.83,921.61V924.81" stroke="#f2772a" stroke-width="1"/>
<path d="M78.44,914.67V917.87" stroke="#f2772a" stroke-width="1"/>
<path d="M82.05,908.22V911.42" stroke="#f2772a" stroke-width="1"/>
<path d="M85.66,901.91V905.11" stroke="#f2772a" stroke-width="1"/>
<path d="M89.27,896.17V899.37" stroke="#f2772a" stroke-width="1"/>
<path d="M92.88,890.77V893.97" stroke="#f2772a" stroke-width="1"/>
<path d="M96.49,885.72V888.92" stroke="#f2772a" stroke-width="1"/>
<path d="M100.1,880.96V884.16" stroke="#f2772a" stroke-width="1"/>
<path d="M103.71,876.24V879.44" stroke="#f2772a" stroke-width="1"/>
<path d="M107.32,871.92V875.12" stroke="#f2772a" stroke-width="1"/>
<path d="M110.93,867.99V871.19" stroke="#f2772a" stroke-width="1"/>
<path d="M114.54,863.88V867.08" stroke="#f2772a" stroke-width="1"/>
<path d="M118.15,860.45V863.65" stroke="#f2772a" stroke-width="1"/>
<path d="M121.76,857.22V860.42" stroke="#f2772a" stroke-width="1"/>
<path d="M125.37,853.58V856.78" stroke="#f2772a" stroke-width="1"/>
<path d="M128.98,850.4V853.6" stroke="#f2772a" stroke-width="1"/>
<path d="M132.59,847.87V851.07" stroke="#f2772a" stroke-width="1"/>
<path d="M136.2,844.55V847.75" stroke="#f2772a" stroke-width="1"/>
<path d="M139.81,842.41V845.61" stroke="#f2772a" stroke-width="1"/>
<path d="M143.42,839.66V842.86" stroke="#f2772a" stroke-width="1"/>
<path d="M147.03,836.96V840.16" stroke="#f2772a" stroke-width="1"/>
<path d="M150.64,834.99V838.19" stroke="#f2772a" stroke-width="1"/>
<path d="M154.25,833.23V836.43" stroke="#f2772a" stroke-width="1"/>
<path d="M157.86,830.71V833.91" stroke="#f2772a" stroke-width="1"/>
<path d="M161.47,828.71V831.91" stroke="#f2772a" stroke-width="1"/>
<path d="M165.08,826.6V829.8" stroke="#f2772a" stroke-width="1"/>
<path d="M168.69,825.63V828.83" stroke="#f2772a" stroke-width="1"/>
<path d="M172.3,823.08V826.28" stroke="#f2772a" stroke-width="1"/>
<path d="M175.91,821.27V824.47" stroke="#f2772a" stroke-width="1"/>
<path d="M179.52,819.76V822.96" stroke="#f2772a" stroke-width="1"/>
<path d="M183.13,818.52V821.72" stroke="#f2772a" stroke-width="1"/>
<path d="M186.74,816.96V820.16" stroke="#f2772a" stroke-width="1"/>
<path d="M190.35,815.45V818.65" stroke="#f2772a" stroke-width="1"/>
<path d="M193.96,813.97V817.17" stroke="#f2772a" stroke-width="1"/>
<path d="M197.57,812.62V815.82" stroke="#f2772a" stroke-width="1"/>
<path d="M201.18,812.19V815.39" stroke="#f2772a" stroke-width="1"/>
<path d="M204.79,810.42V813.62" stroke="#f2772a" stroke-width="1"/>
<path d="M208.4,809.47V812.67" stroke="#f2772a" stroke-width="1"/>
<path d="M212.01,808.86V812.06" stroke="#f2772a" stroke-width="1"/>
<path d="M215.62,806.73V809.93" stroke="#f2772a" stroke-width="1"/>
<path d="M219.23,805.67V808.87" stroke="#f2772a" stroke-width="1"/>
<path d="M222.84,804.92V808.12" stroke="#f2772a" stroke-width="1"/>
<path d="M226.45,803.49V806.69" stroke="#f2772a" stroke-width="1"/>
<path d="M230.06,803.49V806.69" stroke="#f2772a" stroke-width="1"/>
<path d="M233.67,801.68V804.88" stroke="#f2772a" stroke-width="1"/>
<path d="M237.28,800.96V804.16" stroke="#f2772a" stroke-width="1"/>
<path d="M240.89,800.19V803.39" stroke="#f2772a" stroke-width="1"/>
<path d="M244.5,799.33V802.53" stroke="#f2772a" stroke-width="1"/>
<path d="M248.11,798.27V801.47" stroke="#f2772a" stroke-width="1"/>
<path d="M251.72,797.64V800.84" stroke="#f2772a" stroke-width="1"/>
<path d="M255.33,797.02V800.22" stroke="#f2772a" stroke-width="1"/>
<path d="M258.94,795.65V798.85" stroke="#f2772a" stroke-width="1"/>
<path d="M262.55,795.13V798.33" stroke="#f2772a" stroke-width="1"/>
<path d="M266.16,794.6V797.8" stroke="#f2772a" stroke-width="1"/>
<path d="M269.77,793.47V796.67" stroke="#f2772a" stroke-width="1"/>
<path d="M273.38,793.19V796.39" stroke="#f2772a" stroke-width="1"/>
<path d="M276.99,792.01V795.21" stroke="#f2772a" stroke-width="1"/>
<path d="M280.6,791.62V794.82" stroke="#f2772a" stroke-width="1"/>
<polyline points="71.22,930.37 74.83,922.88 78.44,915.84 82.05,909.17 85.66,902.99 89.27,897 92.88,891.58 96.49,886.62 100.1,881.44 103.71,876.72 107.32,872.38 110.93,868.31 114.54,864.54 118.15,861.1 121.76,857.68 125.37,853.95 128.98,851.15 132.59,847.6 136.2,845.67 139.81,842.59 143.42,840.24 147.03,838.08 150.64,835.45 154.25,833.35 157.86,831.55 161.47,829.47 165.08,827.38 168.69,825.78 172.3,824.29 175.91,822.48 179.52,821.2 183.13,819.11 186.74,817.83 190.35,816.7 193.96,815.56 197.57,814.34 201.18,812.42 204.79,811.18 208.4,810.09 212.01,808.34 215.62,808.25 219.23,806.97 222.84,805.76 226.45,804.57 230.06,803.85 233.67,802.15 237.28,801.67 240.89,801.52 244.5,799.79 248.11,798.38 251.72,798.31 255.33,797.14 258.94,796.39 262.55,795.49 266.16,794.68 269.77,794.25 273.38,793.3 276.99,792.47 280.6,791.66" fill="none" stroke="#3fe022" stroke-width="1.6" stroke-linejoin="round" stroke-linecap="round"/>
<path d="M71.22,928.67L72.92,931.73L69.52,931.73Z" fill="#3fe022"/>
<path d="M74.83,921.18L76.53,924.24L73.13,924.24Z" fill="#3fe022"/>
<path d="M78.44,914.14L80.14,917.2L76.74,917.2Z" fill="#3fe022"/>
<path d="M82.05,907.47L83.75,910.53L80.35,910.53Z" fill="#3fe022"/>
<path d="M85.66,901.29L87.36,904.35L83.96,904.35Z" fill="#3fe022"/>
<path d="M89.27,895.3L90.97,898.36L87.57,898.36Z" fill="#3fe022"/>
<path d="M92.88,889.88L94.58,892.94L91.18,892.94Z" fill="#3fe022"/>
<path d="M96.49,884.92L98.19,887.98L94.79,887.98Z" fill="#3fe022"/>
<path d="M100.1,879.74L101.8,882.8L98.4,882.8Z" fill="#3fe022"/>
<path d="M103.71,875.02L105.41,878.08L102.01,878.08Z" fill="#3fe022"/>
<path d="M107.32,870.68L109.02,873.74L105.62,873.74Z" fill="#3fe022"/>
<path d="M110.93,866.61L112.63,869.67L109.23,869.67Z" fill="#3fe022"/>
<path d="M114.54,862.84L116.24,865.9L112.84,865.9Z" fill="#3fe022"/>
<path d="M118.15,859.4L119.85,862.46L116.45,862.46Z" fill="#3fe022"/>
<path d="M121.76,855.98L123.46,859.04L120.06,859.04Z" fill="#3fe022"/>
<path d="M125.37,852.25L127.07,855.31L123.67,855.31Z" fill="#3fe022"/>
<path d="M128.98,849.45L130.68,852.51L127.28,852.51Z" fill="#3fe022"/>
<path d="M132.59,845.9L134.29,848.96L130.89,848.96Z" fill="#3fe022"/>
<path d="M136.2,843.97L137.9,847.03L134.5,847.03Z" fill="#3fe022"/>
<path d="M139.81,840.89L141.51,843.95L138.11,843.95Z" fill="#3fe022"/>
<path d="M143.42,838.54L145.12,841.6L141.72,841.6Z" fill="#3fe022"/>
<path d="M147.03,836.38L148.73,839.44L145.33,839.44Z" fill="#3fe022"/>
<path d="M150.64,833.75L152.34,836.81L148.94,836.81Z" fill="#3fe022"/>
<path d="M154.25,831.65L155.95,834.71L152.55,834.71Z" fill="#3fe022"/>
<path d="M157.86,829.85L159.56,832.91L156.16,832.91Z" fill="#3fe022"/>
<path d="M161.47,827.77L163.17,830.83L159.77,830.83Z" fill="#3fe022"/>
<path d="M165.08,825.68L166.78,828.74L163.38,828.74Z" fill="#3fe022"/>
<path d="M168.69,824.08L170.39,827.14L166.99,827.14Z" fill="#3fe022"/>
<path d="M172.3,822.59L174,825.65L170.6,825.65Z" fill="#3fe022"/>
<path d="M175.91,820.78L177.61,823.84L174.21,823.84Z" fill="#3fe022"/>
<path d="M179.52,819.5L181.22,822.56L177.82,822.56Z" fill="#3fe022"/>
<path d="M183.13,817.41L184.83,820.47L181.43,820.47Z" fill="#3fe022"/>
<path d="M186.74,816.13L188.44,819.19L185.04,819.19Z" fill="#3fe022"/>
<path d="M190.35,815L192.05,818.06L188.65,818.06Z" fill="#3fe022"/>
<path d="M193.96,813.86L195.66,816.92L192.26,816.92Z" fill="#3fe022"/>
<path d="M197.57,812.64L199.27,815.7L195.87,815.7Z" fill="#3fe022"/>
<path d="M201.18,810.72L202.88,813.78L199.48,813.78Z" fill="#3fe022"/>
<path d="M204.79,809.48L206.49,812.54L203.09,812.54Z" fill="#3fe022"/>
<path d="M208.4,808.39L210.1,811.45L206.7,811.45Z" fill="#3fe022"/>
<path d="M212.01,806.64L213.71,809.7L210.31,809.7Z" fill="#3fe022"/>
<path d="M215.62,806.55L217.32,809.61L213.92,809.61Z" fill="#3fe022"/>
<path d="M219.23,805.27L220.93,808.33L217.53,808.33Z" fill="#3fe022"/>
<path d="M222.84,804.06L224.54,807.12L221.14,807.12Z" fill="#3fe022"/>
<path d="M226.45,802.87L228.15,805.93L224.75,805.93Z" fill="#3fe022"/>
<path d="M230.06,802.15L231.76,805.21L228.36,805.21Z" fill="#3fe022"/>
<path d="M233.67,800.45L235.37,803.51L231.97,803.51Z" fill="#3fe022"/>
<path d="M237.28,799.97L238.98,803.03L235.58,803.03Z" fill="#3fe022"/>
<path d="M240.89,799.82L242.59,802.88L239.19,802.88Z" fill="#3fe022"/>
<path d="M244.5,798.09L246.2,801.15L242.8,801.15Z" fill="#3fe022"/>
<path d="M248.11,796.68L249.81,799.74L246.41,799.74Z" fill="#3fe022"/>
<path d="M251.72,796.61L253.42,799.67L250.02,799.67Z" fill="#3fe022"/>
<path d="M255.33,795.44L257.03,798.5L253.63,798.5Z" fill="#3fe022"/>
<path d="M258.94,794.69L260.64,797.75L257.24,797.75Z" fill="#3fe022"/>
<path d="M262.55,793.79L264.25,796.85L260.85,796.85Z" fill="#3fe022"/>
<path d="M266.16,792.98L267.86,796.04L264.46,796.04Z" fill="#3fe022"/>
<path d="M269.77,792.55L271.47,795.61L268.07,795.61Z" fill="#3fe022"/>
<path d="M273.38,791.6L275.08,794.66L271.68,794.66Z" fill="#3fe022"/>
<path d="M276.99,790.77L278.69,793.83L275.29,793.83Z" fill="#3fe022"/>
<path d="M280.6,789.96L282.3,793.02L278.9,793.02Z" fill="#3fe022"/>
<polyline points="71.22,929.78 74.83,921.81 78.44,914.14 82.05,907.2 85.66,900.74 89.27,894.5 92.88,888.6 96.49,883.41 100.1,878.27 103.71,873.14 107.32,868.77 110.93,864.12 114.54,860.31 118.15,856.42 121.76,852.55 125.37,848.85 128.98,845.63 132.59,842.5 136.2,839.94 139.81,836.92 143.42,833.72 147.03,831.84 150.64,828.92 154.25,826.33 157.86,824.37 161.47,821.81 165.08,819.87 168.69,817.41 172.3,815.68 175.91,814.04 179.52,812.16 183.13,810.64 186.74,808.63 190.35,807.38 193.96,805.09 197.57,803.99 201.18,801.95 204.79,800.83 208.4,799.66 212.01,798.06 215.62,796.42 219.23,795.19 222.84,794.5 226.45,793.08 230.06,792.02 233.67,790.49 237.28,789.8 240.89,788.28 244.5,787.5 248.11,786.83 251.72,785.92 255.33,784.6 258.94,784.35 262.55,783.32 266.16,781.13 269.77,780.94 273.38,780.46 276.99,779.37 280.6,778.64" fill="none" stroke="#c628f5" stroke-width="1.6" stroke-linejoin="round" stroke-linecap="round"/>
<path d="M71.22,928.08L72.92,931.14L69.52,931.14Z" fill="#c628f5"/>
<path d="M74.83,920.11L76.53,923.17L73.13,923.17Z" fill="#c628f5"/>
<path d="M78.44,912.44L80.14,915.5L76.74,915.5Z" fill="#c628f5"/>
<path d="M82.05,905.5L83.75,908.56L80.35,908.56Z" fill="#c628f5"/>
<path d="M85.66,899.04L87.36,902.1L83.96,902.1Z" fill="#c628f5"/>
<path d="M89.27,892.8L90.97,895.86L87.57,895.86Z" fill="#c628f5"/>
<path d="M92.88,886.9L94.58,889.96L91.18,889.96Z" fill="#c628f5"/>
<path d="M96.49,881.71L98.19,884.77L94.79,884.77Z" fill="#c628f5"/>
<path d="M100.1,876.57L101.8,879.63L98.4,879.63Z" fill="#c628f5"/>
<path d="M103.71,871.44L105.41,874.5L102.01,874.5Z" fill="#c628f5"/>
<path d="M107.32,867.07L109.02,870.13L105.62,870.13Z" fill="#c628f5"/>
<path d="M110.93,862.42L112.63,865.48L109.23,865.48Z" fill="#c628f5"/>
<path d="M114.54,858.61L116.24,861.67L112.84,861.67Z" fill="#c628f5"/>
<path d="M118.15,854.72L119.85,857.78L116.45,857.78Z" fill="#c628f5"/>
<path d="M121.76,850.85L123.46,853.91L120.06,853.91Z" fill="#c628f5"/>
<path d="M125.37,847.15L127.07,850.21L123.67,850.21Z" fill="#c628f5"/>
<path d="M128.98,843.93L130.68,846.99L127.28,846.99Z" fill="#c628f5"/>
<path d="M132.59,840.8L134.29,843.86L130.89,843.86Z" fill="#c628f5"/>
<path d="M136.2,838.24L137.9,841.3L134.5,841.3Z" fill="#c628f5"/>
<path d="M139.81,835.22L141.51,838.28L138.11,838.28Z" fill="#c628f5"/>
<path d="M143.42,832.02L145.12,835.08L141.72,835.08Z" fill="#c628f5"/>
<path d="M147.03,830.14L148.73,833.2L145.33,833.2Z" fill="#c628f5"/>
<path d="M150.64,827.22L152.34,830.28L148.94,830.28Z" fill="#c628f5"/>
<path d="M154.25,824.63L155.95,827.69L152.55,827.69Z" fill="#c628f5"/>
<path d="M157.86,822.67L159.56,825.73L156.16,825.73Z" fill="#c628f5"/>
<path d="M161.47,820.11L163.17,823.17L159.77,823.17Z" fill="#c628f5"/>
<path d="M165.08,818.17L166.78,821.23L163.38,821.23Z" fill="#c628f5"/>
<path d="M168.69,815.71L170.39,818.77L166.99,818.77Z" fill="#c628f5"/>
<path d="M172.3,813.98L174,817.04L170.6,817.04Z" fill="#c628f5"/>
<path d="M175.91,812.34L177.61,815.4L174.21,815.4Z" fill="#c628f5"/>
<path d="M179.52,810.46L181.22,813.52L177.82,813.52Z" fill="#c628f5"/>
<path d="M183.13,808.94L184.83,812L181.43,812Z" fill="#c628f5"/>
<path d="M186.74,806.93L188.44,809.99L185.04,809.99Z" fill="#c628f5"/>
<path d="M190.35,805.68L192.05,808.74L188.65,808.74Z" fill="#c628f5"/>
<path d="M193.96,803.39L195.66,806.45L192.26,806.45Z" fill="#c628f5"/>
<path d="M197.57,802.29L199.27,805.35L195.87,805.35Z" fill="#c628f5"/>
<path d="M201.18,800.25L202.88,803.31L199.48,803.31Z" fill="#c628f5"/>
<path d="M204.79,799.13L206.49,802.19L203.09,802.19Z" fill="#c628f5"/>
<path d="M208.4,797.96L210.1,801.02L206.7,801.02Z" fill="#c628f5"/>
<path d="M212.01,796.36L213.71,799.42L210.31,799.42Z" fill="#c628f5"/>
<path d="M215.62,794.72L217.32,797.78L213.92,797.78Z" fill="#c628f5"/>
<path d="M219.23,793.49L220.93,796.55L217.53,796.55Z" fill="#c628f5"/>
<path d="M222.84,792.8L224.54,795.86L221.14,795.86Z" fill="#c628f5"/>
<path d="M226.45,791.38L228.15,794.44L224.75,794.44Z" fill="#c628f5"/>
<path d="M230.06,790.32L231.76,793.38L228.36,793.38Z" fill="#c628f5"/>
<path d="M233.67,788.79L235.37,791.85L231.97,791.85Z" fill="#c628f5"/>
<path d="M237.28,788.1L238.98,791.16L235.58,791.16Z" fill="#c628f5"/>
<path d="M240.89,786.58L242.59,789.64L239.19,789.64Z" fill="#c628f5"/>
<path d="M244.5,785.8L246.2,788.86L242.8,788.86Z" fill="#c628f5"/>
<path d="M248.11,785.13L249.81,788.19L246.41,788.19Z" fill="#c628f5"/>
<path d="M251.72,784.22L253.42,787.28L250.02,787.28Z" fill="#c628f5"/>
<path d="M255.33,782.9L257.03,785.96L253.63,785.96Z" fill="#c628f5"/>
<path d="M258.94,782.65L260.64,785.71L257.24,785.71Z" fill="#c628f5"/>
<path d="M262.55,781.62L264.25,784.68L260.85,784.68Z" fill="#c628f5"/>
<path d="M266.16,779.43L267.86,782.49L264.46,782.49Z" fill="#c628f5"/>
<path d="M269.77,779.24L271.47,782.3L268.07,782.3Z" fill="#c628f5"/>
<path d="M273.38,778.76L275.08,781.82L271.68,781.82Z" fill="#c628f5"/>
<path d="M276.99,777.67L278.69,780.73L275.29,780.73Z" fill="#c628f5"/>
<path d="M280.6,776.94L282.3,780L278.9,780Z" fill="#c628f5"/>
<polyline points="71.22,930.19 74.83,922.07 78.44,914.47 82.05,907.33 85.66,900.68 89.27,894.62 92.88,888.46 96.49,882.69 100.1,877.74 103.71,872.42 107.32,867.82 110.93,863.83 114.54,859.68 118.15,855.66 121.76,852.59 125.37,848.69 128.98,845.22 132.59,842.12 136.2,839.32 139.81,836.24 143.42,834.12 147.03,830.96 150.64,828.8 154.25,826.38 157.86,824.18 161.47,821.87 165.08,819.71 168.69,817.91 172.3,816.27 175.91,814.3 179.52,813.05 183.13,811.01 186.74,809.19 190.35,807.82 193.96,806.34 197.57,805.29 201.18,803.87 204.79,802.15 208.4,801.69 212.01,799.74 215.62,798.38 219.23,798.15 222.84,796.09 226.45,795.34 230.06,794.51 233.67,793.04 237.28,791.91 240.89,790.83 244.5,790.26 248.11,789.39 251.72,788.15 255.33,787.22 258.94,786.7 262.55,785.4 266.16,785.08 269.77,783.82 273.38,783.19 276.99,783.3 280.6,781.51" fill="none" stroke="#2222ff" stroke-width="2.0" stroke-linejoin="round" stroke-linecap="round"/>
<circle cx="71.22" cy="930.19" r="1.8" fill="#2222ff"/>
<circle cx="74.83" cy="922.07" r="1.8" fill="#2222ff"/>
<circle cx="78.44" cy="914.47" r="1.8" fill="#2222ff"/>
<circle cx="82.05" cy="907.33" r="1.8" fill="#2222ff"/>
<circle cx="85.66" cy="900.68" r="1.8" fill="#2222ff"/>
<circle cx="89.27" cy="894.62" r="1.8" fill="#2222ff"/>
<circle cx="92.88" cy="888.46" r="1.8" fill="#2222ff"/>
<circle cx="96.49" cy="882.69" r="1.8" fill="#2222ff"/>
<circle cx="100.1" cy="877.74" r="1.8" fill="#2222ff"/>
<circle cx="103.71" cy="872.42" r="1.8" fill="#2222ff"/>
<circle cx="107.32" cy="867.82" r="1.8" fill="#2222ff"/>
<circle cx="110.93" cy="863.83" r="1.8" fill="#2222ff"/>
<circle cx="114.54" cy="859.68" r="1.8" fill="#2222ff"/>
<circle cx="118.15" cy="855.66" r="1.8" fill="#2222ff"/>
<circle cx="121.76" cy="852.59" r="1.8" fill="#2222ff"/>
<circle cx="125.37" cy="848.69" r="1.8" fill="#2222ff"/>
<circle cx="128.98" cy="845.22" r="1.8" fill="#2222ff"/>
<circle cx="132.59" cy="842.12" r="1.8" fill="#2222ff"/>
<circle cx="136.2" cy="839.32" r="1.8" fill="#2222ff"/>
<circle cx="139.81" cy="836.24" r="1.8" fill="#2222ff"/>
<circle cx="143.42" cy="834.12" r="1.8" fill="#2222ff"/>
<circle cx="147.03" cy="830.96" r="1.8" fill="#2222ff"/>
<circle cx="150.64" cy="828.8" r="1.8" fill="#2222ff"/>
<circle cx="154.25" cy="826.38" r="1.8" fill="#2222ff"/>
<circle cx="157.86" cy="824.18" r="1.8" fill="#2222ff"/>
<circle cx="161.47" cy="821.87" r="1.8" fill="#2222ff"/>
<circle cx="165.08" cy="819.71" r="1.8" fill="#2222ff"/>
<circle cx="168.69" cy="817.91" r="1.8" fill="#2222ff"/>
<circle cx="172.3" cy="816.27" r="1.8" fill="#2222ff"/>
<circle cx="175.91" cy="814.3" r="1.8" fill="#2222ff"/>
<circle cx="179.52" cy="813.05" r="1.8" fill="#2222ff"/>
<circle cx="183.13" cy="811.01" r="1.8" fill="#2222ff"/>
<circle cx="186.74" cy="809.19" r="1.8" fill="#2222ff"/>
<circle cx="190.35" cy="807.82" r="1.8" fill="#2222ff"/>
<circle cx="193.96" cy="806.34" r="1.8" fill="#2222ff"/>
<circle cx="197.57" cy="805.29" r="1.8" fill="#2222ff"/>
<circle cx="201.18" cy="803.87" r="1.8" fill="#2222ff"/>
<circle cx="204.79" cy="802.15" r="1.8" fill="#2222ff"/>
<circle cx="208.4" cy="801.69" r="1.8" fill="#2222ff"/>
<circle cx="212.01" cy="799.74" r="1.8" fill="#2222ff"/>
<circle cx="215.62" cy="798.38" r="1.8" fill="#2222ff"/>
<circle cx="219.23" cy="798.15" r="1.8" fill="#2222ff"/>
<circle cx="222.84" cy="796.09" r="1.8" fill="#2222ff"/>
<circle cx="226.45" cy="795.34" r="1.8" fill="#2222ff"/>
<circle cx="230.06" cy="794.51" r="1.8" fill="#2222ff"/>
<circle cx="233.67" cy="793.04" r="1.8" fill="#2222ff"/>
<circle cx="237.28" cy="791.91" r="1.8" fill="#2222ff"/>
<circle cx="240.89" cy="790.83" r="1.8" fill="#2222ff"/>
<circle cx="244.5" cy="790.26" r="1.8" fill="#2222ff"/>
<circle cx="248.11" cy="789.39" r="1.8" fill="#2222ff"/>
<circle cx="251.72" cy="788.15" r="1.8" fill="#2222ff"/>
<circle cx="255.33" cy="787.22" r="1.8" fill="#2222ff"/>
<circle cx="258.94" cy="786.7" r="1.8" fill="#2222ff"/>
<circle cx="262.55" cy="785.4" r="1.8" fill="#2222ff"/>
<circle cx="266.16" cy="785.08" r="1.8" fill="#2222ff"/>
<circle cx="269.77" cy="783.82" r="1.8" fill="#2222ff"/>
<circle cx="273.38" cy="783.19" r="1.8" fill="#2222ff"/>
<circle cx="276.99" cy="783.3" r="1.8" fill="#2222ff"/>
<circle cx="280.6" cy="781.51" r="1.8" fill="#2222ff"/>
<path d="M74.1,743.1H90" stroke="#2222ff" stroke-width="1.8"/>
<circle cx="82.05" cy="743.1" r="1.8" fill="#2222ff"/>
<text x="99" y="746.7" font-size="10" text-anchor="start" >Control</text>
<path d="M74.1,763.4H90" stroke="#c628f5" stroke-width="1.8"/>
<path d="M82.05,761.7L83.75,764.76L80.35,764.76Z" fill="#c628f5"/>
<text x="99" y="767" font-size="10" text-anchor="start" >ILE 1</text>
<path d="M74.1,783.9H90" stroke="#3fe022" stroke-width="1.8"/>
<path d="M82.05,782.2L83.75,785.26L80.35,785.26Z" fill="#3fe022"/>
<text x="99" y="787.5" font-size="10" text-anchor="start" >ILE 10</text>
<path d="M74.1,804.2H90" stroke="#f2772a" stroke-width="1.5"/>
<path d="M82.05,802.6V805.8" stroke="#f2772a" stroke-width="1"/>
<text x="99" y="807.8" font-size="10" text-anchor="start" >ILE 0.1</text>
<path d="M74.1,826.6H90" stroke="#ff2424" stroke-width="1.8"/>
<rect x="80.3" y="824.85" width="3.5" height="3.5" fill="#ff2424"/>
<text x="99" y="830.2" font-size="10" text-anchor="start" >ILE 20</text>
<path d="M285.3,777.8H288.4V793.3H285.3" fill="none" stroke="#000" stroke-width="1.4"/>
<text x="295.4" y="783.9" font-size="10" text-anchor="middle" >n</text>
<text x="295.4" y="794.8" font-size="10" text-anchor="middle" >s</text>
<path d="M298.2,776.9H301.1V807.9H298.2" fill="none" stroke="#000" stroke-width="1.4"/>
<text x="308.5" y="793.21" font-size="13" text-anchor="middle" >*</text>
<text x="358.5" y="691.6" font-size="30" text-anchor="start" >f</text>
<text x="524.5" y="696.8" font-size="16.5" text-anchor="middle">ClpX<tspan font-size="12" dy="-7">wt</tspan><tspan dy="7">P1P2</tspan></text>
<text transform="translate(369.9,818.5) rotate(-90)" x="0" y="0" font-size="14" text-anchor="middle" textLength="197.59" lengthAdjust="spacingAndGlyphs">D-value of fluorescence intensity</text>
<path d="M412,702.2V934.7H644.8" fill="none" stroke="#000" stroke-width="1.5"/>
<path d="M406,934.7H412" stroke="#000" stroke-width="1.5"/>
<text x="403.7" y="938.5" font-size="11" text-anchor="end" >-2000</text>
<path d="M406,911.45H412" stroke="#000" stroke-width="1.5"/>
<text x="403.7" y="915.25" font-size="11" text-anchor="end" >-1800</text>
<path d="M406,888.2H412" stroke="#000" stroke-width="1.5"/>
<text x="403.7" y="892" font-size="11" text-anchor="end" >-1600</text>
<path d="M406,864.95H412" stroke="#000" stroke-width="1.5"/>
<text x="403.7" y="868.75" font-size="11" text-anchor="end" >-1400</text>
<path d="M406,841.7H412" stroke="#000" stroke-width="1.5"/>
<text x="403.7" y="845.5" font-size="11" text-anchor="end" >-1200</text>
<path d="M406,818.45H412" stroke="#000" stroke-width="1.5"/>
<text x="403.7" y="822.25" font-size="11" text-anchor="end" >-1000</text>
<path d="M406,795.2H412" stroke="#000" stroke-width="1.5"/>
<text x="403.7" y="799" font-size="11" text-anchor="end" >-800</text>
<path d="M406,771.95H412" stroke="#000" stroke-width="1.5"/>
<text x="403.7" y="775.75" font-size="11" text-anchor="end" >-600</text>
<path d="M406,748.7H412" stroke="#000" stroke-width="1.5"/>
<text x="403.7" y="752.5" font-size="11" text-anchor="end" >-400</text>
<path d="M406,725.45H412" stroke="#000" stroke-width="1.5"/>
<text x="403.7" y="729.25" font-size="11" text-anchor="end" >-200</text>
<path d="M406,702.2H412" stroke="#000" stroke-width="1.5"/>
<text x="403.7" y="706" font-size="11" text-anchor="end" >0</text>
<path d="M412,934.7V940.7" stroke="#000" stroke-width="1.5"/>
<text x="412" y="953" font-size="11" text-anchor="middle" >0</text>
<path d="M450.8,934.7V940.7" stroke="#000" stroke-width="1.5"/>
<text x="450.8" y="953" font-size="11" text-anchor="middle" >40</text>
<path d="M489.6,934.7V940.7" stroke="#000" stroke-width="1.5"/>
<text x="489.6" y="953" font-size="11" text-anchor="middle" >80</text>
<path d="M528.4,934.7V940.7" stroke="#000" stroke-width="1.5"/>
<text x="528.4" y="953" font-size="11" text-anchor="middle" >120</text>
<path d="M567.2,934.7V940.7" stroke="#000" stroke-width="1.5"/>
<text x="567.2" y="953" font-size="11" text-anchor="middle" >160</text>
<path d="M606,934.7V940.7" stroke="#000" stroke-width="1.5"/>
<text x="606" y="953" font-size="11" text-anchor="middle" >200</text>
<path d="M644.8,934.7V940.7" stroke="#000" stroke-width="1.5"/>
<text x="644.8" y="953" font-size="11" text-anchor="middle" >240</text>
<text x="528.4" y="971.2" font-size="12.3" text-anchor="middle" >Time (min)</text>
<path d="M412,702.2H644.8" stroke="#000" stroke-width="1.4" stroke-dasharray="1.4,3.0"/>
<polyline points="412,701.49 412.97,706.25 413.94,708.43 414.91,712 415.88,715.19 416.85,718.32 417.82,722.13 418.79,724.65 419.76,727.97 420.73,729.54 421.7,733.6 422.67,736.69 423.64,739.51 424.61,742.44 425.58,745.33 426.55,747.81 427.52,750.19 428.49,753.1 429.46,755.32 430.43,758.36 431.4,760.91 432.37,763.01 433.34,766 434.31,769.02 435.28,771.58 436.25,774.01 437.22,776.2 438.19,779.66 439.16,782.32 440.13,784.53 441.1,787.8 442.07,790.16 443.04,792.26 444.01,794.8 444.98,797.33 445.95,799.41 446.92,802.82 447.89,803.58 448.86,806.28 449.83,808.46 450.8,809.65 451.77,811.3 452.74,813.44 453.71,815.35 454.68,816.62 455.65,818.27 456.62,819.35 457.59,821.14 458.56,822.88 459.53,824.08 460.5,826.04 461.47,827.78 462.44,828.73 463.41,830.19 464.38,831.91 465.35,833.54 466.32,834.6 467.29,836.95 468.26,837.22 469.23,838.65 470.2,840.74 471.17,841.48 472.14,843.14 473.11,843.83 474.08,846.08 475.05,846.94 476.02,847.61 476.99,848.67 477.96,851.04 478.93,851.66 479.9,852.57 480.87,854.08 481.84,854.49 482.81,856.61 483.78,857.21 484.75,858.8 485.72,859.01 486.69,860.55 487.66,861.67 488.63,863.11 489.6,862.87 490.57,864.11 491.54,865 492.51,865.74 493.48,866.87 494.45,868.05 495.42,868.92 496.39,869.73 497.36,869.77 498.33,871.55 499.3,872.06 500.27,872.79 501.24,873.45 502.21,874.18 503.18,875.65 504.15,876.59 505.12,876.71 506.09,876.95 507.06,877.74 508.03,878.53 509,879.29 509.97,879.63 510.94,880.35 511.91,880.5 512.88,881.57 513.85,881.74 514.82,882.31 515.79,882.55 516.76,883.12 517.73,882.76 518.7,883.56 519.67,883.99 520.64,885.64 521.61,885.46 522.58,885.95 523.55,885.95 524.52,887.32 525.49,886.49 526.46,886.9 527.43,888.1 528.4,888.35 529.37,888.65 530.34,888.7 531.31,888.84 532.28,888.69 533.25,889.81 534.22,889.8 535.19,890.33 536.16,890.08 537.13,890.73 538.1,890.81 539.07,891.96 540.04,891.96 541.01,892.47 541.98,891.96 542.95,892.55 543.92,893.17 544.89,893.49 545.86,893.44 546.83,894.12 547.8,894.46 548.77,894.23 549.74,893.79 550.71,894.98 551.68,895.33 552.65,895.78 553.62,896.07 554.59,895.64 555.56,895.75 556.53,896.26 557.5,896.36 558.47,896.65 559.44,896.85 560.41,897.63 561.38,897.45 562.35,897.45 563.32,897.96 564.29,898.05 565.26,898.37 566.23,898.43 567.2,898.28 568.17,899.06 569.14,899.39 570.11,899.52 571.08,900.01 572.05,899.99 573.02,901.58 573.99,900.75 574.96,901.4 575.93,901.33 576.9,901.23 577.87,901.28 578.84,901.42 579.81,901.85 580.78,901.46 581.75,902.23 582.72,902.28 583.69,902.05 584.66,902.61 585.63,901.74 586.6,902.2 587.57,901.86 588.54,902.68 589.51,902.85 590.48,902.7 591.45,902.54 592.42,903.03 593.39,902.72 594.36,902.88 595.33,902.33 596.3,903.13 597.27,902.55 598.24,903.14 599.21,903.25 600.18,903.16 601.15,903.32 602.12,902.85 603.09,902.54 604.06,902.85 605.03,902.69 606,902.34 606.97,902.81 607.94,902.82 608.91,902.95 609.88,903.35 610.85,902.45 611.82,903.23 612.79,902.28 613.76,902.39 614.73,901.89 615.7,902.23 616.67,902.45 617.64,902.03 618.61,902.37 619.58,902.3 620.55,902.31 621.52,902.48 622.49,902.64 623.46,903.02 624.43,902.97 625.4,903.83 626.37,903.34 627.34,903.91 628.31,903.32 629.28,903.48 630.25,904.82 631.22,904.31 632.19,904.62 633.16,905.16 634.13,904.83 635.1,905.4 636.07,906.07 637.04,905.77 638.01,905.96 638.98,906.13 639.95,906.9 640.92,906.64 641.89,907.07 642.86,908.27 643.83,908.64 644.8,908.89" fill="none" stroke="#1c0a8e" stroke-width="3.6" stroke-linejoin="round" stroke-linecap="round"/>
<polyline points="412,702.31 412.97,704.87 413.94,707.35 414.91,710.41 415.88,713.73 416.85,716.38 417.82,719.44 418.79,722.26 419.76,725.51 420.73,728.14 421.7,731.07 422.67,733.76 423.64,736.88 424.61,739.74 425.58,742.96 426.55,745.15 427.52,748.7 428.49,750.98 429.46,754 430.43,756.85 431.4,759.53 432.37,762.23 433.34,764.71 434.31,767.44 435.28,769.77 436.25,772.92 437.22,775.15 438.19,777.83 439.16,780.02 440.13,782.98 441.1,785.09 442.07,787.39 443.04,790.04 444.01,791.94 444.98,794.38 445.95,796.49 446.92,798.73 447.89,801.27 448.86,803.4 449.83,805.42 450.8,807.36 451.77,809.4 452.74,811.71 453.71,813.69 454.68,815.69 455.65,817.59 456.62,819.43 457.59,821.28 458.56,822.73 459.53,824.99 460.5,826.72 461.47,828.33 462.44,830.29 463.41,831.86 464.38,833.45 465.35,834.93 466.32,836.88 467.29,837.97 468.26,839.8 469.23,841.21 470.2,842.56 471.17,844.04 472.14,845.39 473.11,846.93 474.08,848.33 475.05,849.61 476.02,851.15 476.99,852.06 477.96,853.67 478.93,855 479.9,855.65 480.87,857.23 481.84,858.59 482.81,859.22 483.78,860.74 484.75,861.62 485.72,863.05 486.69,864.04 487.66,865.36 488.63,866.44 489.6,867.31 490.57,868.17 491.54,869.02 492.51,869.72 493.48,871.29 494.45,871.89 495.42,873.1 496.39,873.95 497.36,875.08 498.33,875.97 499.3,876.72 500.27,877.65 501.24,878.28 502.21,879.23 503.18,879.7 504.15,880.69 505.12,881.46 506.09,882.06 507.06,882.91 508.03,883.74 509,884.47 509.97,885.17 510.94,885.65 511.91,886.37 512.88,887.1 513.85,887.67 514.82,888.53 515.79,888.97 516.76,889.9 517.73,890.01 518.7,890.8 519.67,891.35 520.64,891.82 521.61,892.47 522.58,893.03 523.55,893.29 524.52,893.98 525.49,894.65 526.46,894.9 527.43,895.74 528.4,895.61 529.37,896.38 530.34,896.78 531.31,896.82 532.28,897.26 533.25,898.02 534.22,898.33 535.19,898.64 536.16,898.92 537.13,899.62 538.1,899.94 539.07,900.11 540.04,900.63 541.01,900.89 541.98,901.25 542.95,901.88 543.92,902.16 544.89,902.79 545.86,902.68 546.83,902.71 547.8,903.43 548.77,903.32 549.74,903.65 550.71,904.11 551.68,904.38 552.65,904.63 553.62,905.06 554.59,905.22 555.56,905.43 556.53,905.56 557.5,905.77 558.47,906.28 559.44,906.24 560.41,906.74 561.38,906.86 562.35,906.98 563.32,907.26 564.29,907.49 565.26,907.62 566.23,907.97 567.2,908.18 568.17,908.29 569.14,908.27 570.11,908.63 571.08,908.46 572.05,908.92 573.02,909.64 573.99,909.36 574.96,909.15 575.93,909.59 576.9,909.82 577.87,910.04 578.84,909.8 579.81,909.99 580.78,910.18 581.75,910.35 582.72,910.3 583.69,910.53 584.66,911 585.63,910.77 586.6,910.98 587.57,911.14 588.54,911.09 589.51,911.32 590.48,911.94 591.45,911.25 592.42,911.44 593.39,911.73 594.36,911.87 595.33,911.85 596.3,912.2 597.27,912.01 598.24,912.19 599.21,912.29 600.18,912.47 601.15,912.5 602.12,912.27 603.09,912.31 604.06,912.53 605.03,912.7 606,912.92 606.97,912.72 607.94,912.63 608.91,913.27 609.88,912.86 610.85,913.51 611.82,913.26 612.79,913.21 613.76,913.59 614.73,913.68 615.7,913.46 616.67,913.41 617.64,913.71 618.61,913.46 619.58,913.9 620.55,913.53 621.52,913.88 622.49,913.93 623.46,913.93 624.43,914.04 625.4,913.84 626.37,913.84 627.34,914.19 628.31,914.38 629.28,914.61 630.25,914.6 631.22,914.52 632.19,914.59 633.16,914.64 634.13,914.68 635.1,914.65 636.07,915.02 637.04,915.02 638.01,914.69 638.98,914.79 639.95,915.07 640.92,914.8 641.89,915.18 642.86,915.15 643.83,915.47 644.8,915.04" fill="none" stroke="#9a6a2c" stroke-width="3.0" stroke-linejoin="round" stroke-linecap="round"/>
<polyline points="412,702.34 412.97,705.57 413.94,708.69 414.91,711.92 415.88,715.16 416.85,718.7 417.82,722.16 418.79,725.51 419.76,728.53 420.73,731.63 421.7,735.09 422.67,738.53 423.64,741.63 424.61,744.29 425.58,747.6 426.55,750.97 427.52,753.66 428.49,756.79 429.46,759.6 430.43,762.43 431.4,765.29 432.37,767.85 433.34,770.69 434.31,773.47 435.28,775.95 436.25,778.48 437.22,781.48 438.19,783.77 439.16,786.38 440.13,788.69 441.1,791.29 442.07,793.43 443.04,795.77 444.01,798.11 444.98,800.49 445.95,802.59 446.92,804.89 447.89,807.07 448.86,808.9 449.83,811.19 450.8,812.82 451.77,814.89 452.74,817.32 453.71,818.85 454.68,820.97 455.65,822.62 456.62,824.44 457.59,826.57 458.56,828.02 459.53,829.74 460.5,831.21 461.47,833.23 462.44,834.52 463.41,836.43 464.38,837.85 465.35,839.47 466.32,840.58 467.29,842.2 468.26,843.32 469.23,845.06 470.2,846.41 471.17,847.78 472.14,849.38 473.11,850.61 474.08,851.66 475.05,853.24 476.02,854.39 476.99,855.66 477.96,856.76 478.93,858.13 479.9,859.27 480.87,860.36 481.84,861.53 482.81,862.83 483.78,863.64 484.75,865.12 485.72,866.18 486.69,867.27 487.66,867.93 488.63,869.21 489.6,870.34 490.57,871.39 491.54,872.12 492.51,873.37 493.48,874.39 494.45,875.02 495.42,876.29 496.39,877.07 497.36,877.94 498.33,878.93 499.3,879.76 500.27,880.4 501.24,881.59 502.21,882.57 503.18,883.51 504.15,884.05 505.12,884.88 506.09,885.56 507.06,886.47 508.03,887.23 509,888.02 509.97,888.71 510.94,889.31 511.91,890.1 512.88,890.7 513.85,891.06 514.82,891.96 515.79,892.96 516.76,893.01 517.73,893.86 518.7,894.68 519.67,894.94 520.64,895.67 521.61,896.34 522.58,896.88 523.55,897.48 524.52,897.81 525.49,898.14 526.46,898.87 527.43,899.23 528.4,899.44 529.37,900.44 530.34,900.62 531.31,901.16 532.28,901.71 533.25,902.12 534.22,902.35 535.19,902.66 536.16,903.21 537.13,903.48 538.1,903.73 539.07,904.16 540.04,904.41 541.01,904.82 541.98,905.14 542.95,905.24 543.92,905.76 544.89,906.16 545.86,906.37 546.83,906.95 547.8,907.14 548.77,907.24 549.74,907.55 550.71,907.67 551.68,908.22 552.65,908.75 553.62,908.42 554.59,908.83 555.56,909.47 556.53,909.31 557.5,909.8 558.47,910.37 559.44,910.37 560.41,910.64 561.38,910.51 562.35,911.16 563.32,911.31 564.29,911.54 565.26,911.79 566.23,912.1 567.2,912.13 568.17,912.19 569.14,912.48 570.11,912.96 571.08,913.2 572.05,913.18 573.02,913.52 573.99,913.7 574.96,914.07 575.93,913.62 576.9,913.98 577.87,914.48 578.84,914.32 579.81,914.41 580.78,915.22 581.75,915.05 582.72,915.18 583.69,915.15 584.66,915.42 585.63,915.58 586.6,915.69 587.57,915.49 588.54,915.57 589.51,916.16 590.48,916.35 591.45,915.84 592.42,916.6 593.39,916.64 594.36,916.64 595.33,916.67 596.3,916.69 597.27,916.9 598.24,917.22 599.21,917.08 600.18,917.22 601.15,917.03 602.12,917.46 603.09,917.78 604.06,917.82 605.03,917.48 606,917.91 606.97,918.27 607.94,918.1 608.91,918.08 609.88,917.96 610.85,918.43 611.82,918.22 612.79,918.28 613.76,918.62 614.73,918.62 615.7,918.36 616.67,918.45 617.64,918.68 618.61,918.85 619.58,918.79 620.55,919.09 621.52,919.16 622.49,919.37 623.46,919.29 624.43,919.38 625.4,918.96 626.37,919.55 627.34,919.36 628.31,919.42 629.28,919.75 630.25,919.58 631.22,920.23 632.19,919.9 633.16,919.83 634.13,920.46 635.1,920.3 636.07,919.97 637.04,920.26 638.01,920.46 638.98,920.39 639.95,920.47 640.92,920.3 641.89,920.4 642.86,920.58 643.83,920.69 644.8,920.63" fill="none" stroke="#2a14ff" stroke-width="3.0" stroke-linejoin="round" stroke-linecap="round"/>
<polyline points="412,702.05 412.97,708.59 413.94,713.69 414.91,717.04 415.88,720.28 416.85,723.52 417.82,726.87 418.79,729.98 419.76,733.35 420.73,736.5 421.7,739.71 422.67,743.02 423.64,746.1 424.61,749.01 425.58,752.18 426.55,754.94 427.52,757.91 428.49,760.78 429.46,763.93 430.43,766.6 431.4,769.74 432.37,772.52 433.34,775.14 434.31,777.82 435.28,780.76 436.25,783.41 437.22,785.71 438.19,788.43 439.16,790.66 440.13,793.25 441.1,795.7 442.07,798.11 443.04,800.38 444.01,802.85 444.98,804.96 445.95,807.44 446.92,809.61 447.89,811.84 448.86,813.8 449.83,815.98 450.8,818.18 451.77,819.81 452.74,822.13 453.71,824.06 454.68,825.91 455.65,827.61 456.62,829.73 457.59,831.44 458.56,833.31 459.53,835.28 460.5,836.69 461.47,838.35 462.44,840.19 463.41,841.78 464.38,843.59 465.35,845.15 466.32,846.53 467.29,847.89 468.26,849.52 469.23,850.86 470.2,852.18 471.17,853.69 472.14,854.99 473.11,856.2 474.08,857.88 475.05,858.88 476.02,860.5 476.99,861.4 477.96,862.64 478.93,863.92 479.9,865.15 480.87,866.15 481.84,867.31 482.81,868.33 483.78,869.54 484.75,870.39 485.72,871.65 486.69,872.56 487.66,873.57 488.63,874.32 489.6,875.68 490.57,876.48 491.54,877.19 492.51,878.37 493.48,879.36 494.45,880.05 495.42,881.01 496.39,881.72 497.36,882.83 498.33,883.52 499.3,884.28 500.27,885.05 501.24,886.15 502.21,886.59 503.18,887.7 504.15,888.55 505.12,889.22 506.09,889.81 507.06,890.6 508.03,891.21 509,891.9 509.97,892.61 510.94,893.37 511.91,893.74 512.88,894.95 513.85,895.51 514.82,895.96 515.79,896.68 516.76,897.45 517.73,897.79 518.7,898.35 519.67,899.15 520.64,899.23 521.61,899.7 522.58,900.23 523.55,900.98 524.52,901.39 525.49,902.05 526.46,902.34 527.43,902.93 528.4,903.23 529.37,903.78 530.34,904.02 531.31,904.47 532.28,904.83 533.25,905.63 534.22,906.05 535.19,906.13 536.16,906.64 537.13,906.87 538.1,907.25 539.07,907.62 540.04,907.86 541.01,908.25 541.98,908.59 542.95,909.11 543.92,909.06 544.89,909.6 545.86,909.77 546.83,910.18 547.8,910.35 548.77,910.8 549.74,911.07 550.71,911.37 551.68,911.77 552.65,912.03 553.62,912.24 554.59,912.5 555.56,912.89 556.53,912.68 557.5,913.41 558.47,913.57 559.44,913.43 560.41,914.11 561.38,914.16 562.35,914.41 563.32,914.77 564.29,915.17 565.26,915.42 566.23,915.42 567.2,915.58 568.17,916.16 569.14,916.05 570.11,916.37 571.08,916.35 572.05,916.65 573.02,916.98 573.99,917.11 574.96,917.23 575.93,917.22 576.9,917.16 577.87,917.7 578.84,917.9 579.81,917.97 580.78,918.22 581.75,918.27 582.72,918.45 583.69,918.64 584.66,918.89 585.63,918.88 586.6,918.9 587.57,919.14 588.54,919.05 589.51,919.25 590.48,919.5 591.45,919.35 592.42,919.85 593.39,919.63 594.36,919.62 595.33,920.01 596.3,920.08 597.27,920.02 598.24,920.03 599.21,920.25 600.18,920.36 601.15,920.34 602.12,920.5 603.09,920.78 604.06,920.71 605.03,920.75 606,921.03 606.97,920.83 607.94,921.05 608.91,920.91 609.88,921.28 610.85,921.26 611.82,921.4 612.79,921.08 613.76,921.14 614.73,921.17 615.7,921.23 616.67,921.36 617.64,921.42 618.61,921.84 619.58,921.61 620.55,921.79 621.52,921.82 622.49,922 623.46,921.7 624.43,921.91 625.4,922.19 626.37,921.97 627.34,922.1 628.31,922.29 629.28,922.24 630.25,922.35 631.22,922.62 632.19,922.56 633.16,922.32 634.13,922.39 635.1,922.45 636.07,922.7 637.04,922.66 638.01,922.61 638.98,922.57 639.95,922.82 640.92,922.89 641.89,922.63 642.86,922.82 643.83,922.92 644.8,923" fill="none" stroke="#ff7a22" stroke-width="2.5" stroke-linejoin="round" stroke-linecap="round"/>
<polyline points="412,702.2 412.97,708.58 413.94,714.07 414.91,718.81 415.88,722.86 416.85,726.75 417.82,730.16 418.79,733.38 419.76,737.06 420.73,740.37 421.7,743.42 422.67,746.64 423.64,749.84 424.61,753.15 425.58,756.09 426.55,759.03 427.52,762.42 428.49,765.26 429.46,768.48 430.43,771.3 431.4,774.3 432.37,776.88 433.34,779.88 434.31,782.4 435.28,785.17 436.25,787.94 437.22,791.02 438.19,793.31 439.16,795.82 440.13,798.35 441.1,801.15 442.07,803.45 443.04,805.98 444.01,808.35 444.98,810.39 445.95,813.04 446.92,815.19 447.89,817.28 448.86,819.74 449.83,821.83 450.8,823.93 451.77,826.04 452.74,828.32 453.71,830.12 454.68,831.89 455.65,834.35 456.62,835.85 457.59,837.86 458.56,839.84 459.53,841.2 460.5,843.2 461.47,845.29 462.44,846.79 463.41,848.38 464.38,850.17 465.35,851.64 466.32,853.37 467.29,854.8 468.26,856.2 469.23,858.08 470.2,859.4 471.17,860.96 472.14,862.28 473.11,863.91 474.08,865.17 475.05,866.45 476.02,867.58 476.99,868.83 477.96,870.54 478.93,871.69 479.9,872.67 480.87,874.34 481.84,875.26 482.81,876.36 483.78,877.27 484.75,878.5 485.72,879.79 486.69,880.89 487.66,881.94 488.63,882.69 489.6,884.07 490.57,885.07 491.54,885.96 492.51,887.03 493.48,888.02 494.45,889.14 495.42,889.89 496.39,890.89 497.36,891.52 498.33,892.5 499.3,893.49 500.27,894.23 501.24,895.25 502.21,895.83 503.18,896.83 504.15,897.52 505.12,898.62 506.09,899.1 507.06,900.19 508.03,900.98 509,901.39 509.97,902.19 510.94,902.69 511.91,902.99 512.88,904.17 513.85,904.77 514.82,905.25 515.79,905.8 516.76,906.51 517.73,907.09 518.7,907.49 519.67,908.07 520.64,908.88 521.61,909.24 522.58,909.73 523.55,910.42 524.52,910.67 525.49,911.34 526.46,911.48 527.43,912.07 528.4,912.52 529.37,913.07 530.34,913.41 531.31,914.14 532.28,914.38 533.25,914.51 534.22,915.32 535.19,915.17 536.16,915.98 537.13,915.9 538.1,916.52 539.07,916.57 540.04,917.01 541.01,917.61 541.98,917.44 542.95,917.71 543.92,918.27 544.89,918.6 545.86,918.86 546.83,919.29 547.8,919.2 548.77,919.75 549.74,919.93 550.71,920.32 551.68,920.54 552.65,920.91 553.62,920.71 554.59,921.2 555.56,921.24 556.53,921.64 557.5,921.99 558.47,922.15 559.44,922.41 560.41,922.53 561.38,922.81 562.35,923 563.32,923.39 564.29,923.5 565.26,923.26 566.23,923.86 567.2,924.11 568.17,924.06 569.14,924.05 570.11,924.72 571.08,924.68 572.05,924.92 573.02,925.28 573.99,925 574.96,925.29 575.93,925.42 576.9,925.71 577.87,925.64 578.84,925.95 579.81,926.01 580.78,926.31 581.75,926.45 582.72,926.13 583.69,926.56 584.66,926.54 585.63,926.7 586.6,926.88 587.57,926.99 588.54,926.89 589.51,927.15 590.48,927.21 591.45,927.27 592.42,927.15 593.39,927.32 594.36,927.45 595.33,927.69 596.3,927.9 597.27,927.56 598.24,927.63 599.21,927.88 600.18,927.82 601.15,927.84 602.12,927.89 603.09,927.92 604.06,928.22 605.03,927.92 606,928.45 606.97,928.13 607.94,928.23 608.91,928.21 609.88,928.07 610.85,928.18 611.82,928.67 612.79,928.81 613.76,928.4 614.73,928.75 615.7,928.61 616.67,928.49 617.64,928.96 618.61,929.07 619.58,928.69 620.55,928.75 621.52,928.83 622.49,928.81 623.46,929 624.43,929.14 625.4,928.93 626.37,929.1 627.34,929.24 628.31,928.89 629.28,929.02 630.25,928.96 631.22,929.23 632.19,929.2 633.16,929.29 634.13,929.3 635.1,929.13 636.07,929.33 637.04,929.16 638.01,929.19 638.98,928.92 639.95,929.54 640.92,929.16 641.89,929.36 642.86,929.37 643.83,929.64 644.8,929.5" fill="none" stroke="#000000" stroke-width="2.5" stroke-linejoin="round" stroke-linecap="round"/>
<path d="M575.8,722.2H591.7" stroke="#1c0a8e" stroke-width="1.6"/>
<path d="M583.75,719.91L586.04,724.04L581.46,724.04Z" fill="#1c0a8e"/>
<text x="600.3" y="725.8" font-size="10.25" text-anchor="start" >ILE 500</text>
<path d="M575.8,743.4H591.7" stroke="#9a6a2c" stroke-width="1.6"/>
<rect x="581.48" y="741.12" width="4.55" height="4.55" fill="#9a6a2c"/>
<text x="600.3" y="747" font-size="10.25" text-anchor="start" >ILE 400</text>
<path d="M575.8,764.8H591.7" stroke="#2a14ff" stroke-width="1.6"/>
<circle cx="583.75" cy="764.8" r="2.16" fill="#2a14ff"/>
<text x="600.3" y="768.4" font-size="10.25" text-anchor="start" >ILE 300</text>
<path d="M575.8,785.7H591.7" stroke="#ff7a22" stroke-width="1.5"/>
<path d="M583.75,784.1V787.3" stroke="#ff7a22" stroke-width="1"/>
<text x="600.3" y="789.3" font-size="10.25" text-anchor="start" >ILE 200</text>
<path d="M575.8,806.2H591.7" stroke="#000000" stroke-width="1.5"/>
<circle cx="583.75" cy="806.2" r="1.2" fill="#000000"/>
<text x="600.3" y="809.8" font-size="10.25" text-anchor="start" >Control</text>
<path d="M648.1,920.5H650.5V929.5H648.1" fill="none" stroke="#000" stroke-width="1.1"/>
<text x="656.9" y="923.46" font-size="6.5" text-anchor="middle" >n</text>
<text x="656.9" y="932.66" font-size="6.5" text-anchor="middle" >s</text>
<path d="M659.3,915.1H662.5V930.3H659.3" fill="none" stroke="#000" stroke-width="1.1"/>
<text x="669" y="928.67" font-size="11" text-anchor="middle" >*</text>
<path d="M668.4,907.4H675.8V931.1H668.4" fill="none" stroke="#000" stroke-width="1.1"/>
<text x="682.2" y="912.57" font-size="11" text-anchor="middle" >*</text>
<text x="682.2" y="923.87" font-size="11" text-anchor="middle" >*</text>
<text x="682.2" y="935.07" font-size="11" text-anchor="middle" >*</text>
</svg></body></html>
